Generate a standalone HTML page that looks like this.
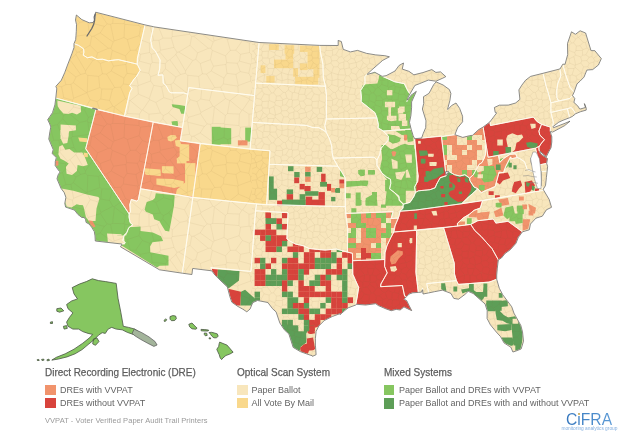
<!DOCTYPE html>
<html><head><meta charset="utf-8"><style>
html,body{margin:0;padding:0;background:#fff;}
body{width:625px;height:439px;overflow:hidden;position:relative;font-family:"Liberation Sans",Arial,sans-serif;}
svg{position:absolute;left:0;top:0;filter:blur(0.3px);}
.t{position:absolute;white-space:nowrap;color:#5c5c5c;transform-origin:0 0;}
.h{font-size:11px;top:366px;-webkit-text-stroke:0.25px #5c5c5c;}
.i{font-size:9px;color:#646464;}
.sw{position:absolute;width:10.4px;height:10.4px;}
</style></head><body>
<svg width="625" height="439" viewBox="0 0 625 439">
<g><path d="M95.6,12.2 145.0,24.9 137.4,58.4 137.2,64.1 118.5,59.7 115.4,59.9 108.4,60.8 102.5,59.2 97.1,59.5 92.0,56.9 87.4,57.7 83.2,55.1 83.9,52.2 83.6,48.9 81.0,47.0 78.4,45.3 74.0,43.7 75.7,39.6 76.0,35.5 76.3,31.4 76.5,24.5 75.5,20.0 76.4,15.0 81.8,19.6 89.3,22.8 93.1,22.5 95.1,19.0Z" fill="#f9d88c"/>
<path d="M74.0,43.7 78.4,45.3 81.0,47.0 83.6,48.9 83.9,52.2 83.2,55.1 87.4,57.7 92.0,56.9 97.1,59.5 102.5,59.2 108.4,60.8 115.4,59.9 118.5,59.7 137.2,64.1 140.2,70.2 136.6,76.3 134.0,79.2 129.6,85.7 132.0,88.3 129.7,92.7 124.4,116.3 55.8,98.1 56.8,88.6 55.9,86.3 61.4,80.1 64.7,72.7 67.5,65.1 71.9,53.8 74.0,47.5Z" fill="#f9d88c"/>
<path d="M55.8,98.1 95.9,109.4 85.7,148.7 129.2,214.1 129.0,216.8 130.1,222.5 132.7,224.8 128.7,227.8 126.7,232.9 124.2,235.1 122.9,240.4 125.3,242.9 122.2,244.1 95.3,241.0 95.0,235.8 94.3,231.5 91.8,227.4 89.2,224.1 86.1,222.4 85.6,219.8 84.4,217.7 81.7,217.4 77.9,214.4 74.4,210.0 65.6,207.0 64.8,203.4 65.9,197.3 64.3,192.7 61.0,188.3 57.0,178.8 58.1,174.9 60.0,171.9 58.3,170.0 55.2,165.6 55.3,161.4 56.4,157.5 52.1,153.5 53.2,149.6 48.8,139.1 49.9,131.7 50.8,127.0 49.3,123.0 47.7,119.7 52.5,112.7 54.9,104.9Z" fill="#86c660"/>
<path d="M95.9,109.4 153.2,122.3 138.4,199.4 137.0,201.2 131.3,199.4 129.8,204.6 130.3,211.6 129.2,214.1 85.7,148.7Z" fill="#f1936c"/>
<path d="M145.0,24.9 153.5,26.7 150.7,40.0 152.2,47.9 155.3,50.9 160.1,60.0 159.7,68.8 158.0,75.3 162.9,74.9 163.2,83.1 166.1,85.7 169.3,91.8 171.1,92.8 175.0,92.8 183.6,92.9 187.8,94.2 182.5,127.5 124.4,116.3 129.7,92.7 132.0,88.3 129.6,85.7 134.0,79.2 136.6,76.3 140.2,70.2 137.2,64.1 137.4,58.4Z" fill="#f8e6bc"/>
<path d="M153.5,26.7 259.1,42.5 254.6,95.6 188.8,87.6 187.8,94.2 183.6,92.9 175.0,92.8 171.1,92.8 169.3,91.8 166.1,85.7 163.2,83.1 162.9,74.9 158.0,75.3 159.7,68.8 160.1,60.0 155.3,50.9 152.2,47.9 150.7,40.0Z" fill="#f8e6bc"/>
<path d="M188.8,87.6 254.6,95.6 250.0,149.3 180.3,140.8Z" fill="#f8e6bc"/>
<path d="M153.2,122.3 182.5,127.5 180.3,140.8 200.2,143.8 192.8,197.4 140.5,188.7Z" fill="#f1936c"/>
<path d="M200.2,143.8 270.0,150.8 266.6,204.8 192.8,197.4Z" fill="#f9d88c"/>
<path d="M140.5,188.7 192.8,197.4 182.3,273.2 159.5,269.8 120.5,246.8 122.2,244.1 125.3,242.9 122.9,240.4 124.2,235.1 126.7,232.9 128.7,227.8 132.7,224.8 130.1,222.5 129.0,216.8 129.2,214.1 130.3,211.6 129.8,204.6 131.3,199.4 137.0,201.2 138.4,199.4Z" fill="#f8e6bc"/>
<path d="M192.8,197.4 256.5,204.1 255.5,210.8 251.0,271.4 210.8,267.7 211.8,270.8 192.7,268.5 191.9,274.5 182.3,273.2Z" fill="#f8e6bc"/>
<path d="M259.1,42.5 319.7,45.4 320.4,52.1 322.9,64.1 323.3,77.4 325.4,86.2 255.6,83.1Z" fill="#f8e6bc"/>
<path d="M255.6,83.1 325.4,86.2 326.4,94.8 326.3,119.0 324.8,125.7 326.3,132.5 323.8,130.4 318.9,127.7 313.1,127.6 306.3,125.4 252.3,122.4Z" fill="#f8e6bc"/>
<path d="M252.3,122.4 306.3,125.4 313.1,127.6 318.9,127.7 323.8,130.4 326.3,132.5 329.7,139.2 331.7,146.0 332.2,152.7 333.2,158.1 337.8,166.2 269.2,164.3 270.0,150.8 250.0,149.3Z" fill="#f8e6bc"/>
<path d="M269.2,164.3 337.8,166.2 341.9,172.3 345.1,177.7 345.3,206.7 266.6,204.8Z" fill="#f8e6bc"/>
<path d="M256.5,204.1 345.3,206.7 347.7,228.4 347.5,252.1 336.2,249.0 325.1,250.1 317.4,249.4 309.1,248.5 303.1,245.7 295.5,244.1 290.1,241.2 286.9,238.9 288.0,212.7 255.5,210.8Z" fill="#f8e6bc"/>
<path d="M255.5,210.8 288.0,212.7 286.9,238.9 290.1,241.2 295.5,244.1 303.1,245.7 309.1,248.5 317.4,249.4 325.1,250.1 336.2,249.0 347.5,252.1 352.4,253.3 352.6,260.7 352.8,274.2 355.7,280.8 358.7,287.5 357.2,296.9 355.7,305.0 348.2,307.8 344.7,310.6 340.1,314.6 340.0,313.7 332.5,316.4 324.3,320.5 318.8,326.0 316.1,331.5 315.4,338.3 315.4,345.1 316.1,354.7 312.5,356.3 312.4,355.9 306.4,353.8 300.4,351.6 293.2,347.4 288.9,333.9 284.3,329.8 279.8,322.9 276.2,312.0 272.3,308.4 267.9,302.6 257.6,300.5 252.8,302.5 250.0,309.1 246.8,311.8 242.9,309.2 237.3,306.1 231.8,302.2 229.9,296.7 227.4,287.0 221.1,281.0 214.8,274.9 211.8,270.8 210.8,267.7 251.0,271.4Z" fill="#f8e6bc"/>
<path d="M319.7,45.4 338.2,45.5 338.2,40.4 341.3,41.5 343.2,49.4 350.4,51.9 357.5,50.4 366.6,53.4 375.7,54.9 384.8,55.7 389.4,56.8 382.4,60.5 371.9,69.8 366.6,74.7 364.8,76.8 365.1,83.4 360.7,90.3 361.4,97.0 361.1,101.7 366.0,105.5 369.9,108.7 374.9,112.6 376.9,117.9 326.3,119.0 326.4,94.8 325.4,86.2 323.3,77.4 322.9,64.1 320.4,52.1Z" fill="#f8e6bc"/>
<path d="M326.3,119.0 376.9,117.9 378.4,124.5 378.1,127.9 383.2,131.0 388.4,136.1 388.2,140.2 384.4,144.5 380.7,148.7 379.9,154.2 377.0,160.0 374.0,157.2 333.2,158.1 332.2,152.7 331.7,146.0 329.7,139.2 326.3,132.5 324.8,125.7Z" fill="#f8e6bc"/>
<path d="M333.2,158.1 374.0,157.2 377.0,160.0 376.9,165.2 381.9,173.0 386.3,176.9 390.5,179.3 390.8,183.4 389.6,188.9 394.5,192.6 399.0,196.4 399.2,200.4 403.2,204.2 403.0,208.3 400.0,211.2 399.2,215.4 398.3,218.1 391.1,218.6 393.1,211.7 345.4,213.5 345.1,177.7 341.9,172.3 337.8,166.2Z" fill="#f8e6bc"/>
<path d="M345.4,213.5 393.1,211.7 391.1,218.6 398.3,218.1 395.5,225.1 393.8,232.0 390.8,237.6 386.9,245.9 385.0,252.8 384.8,259.5 352.6,260.7 352.4,253.3 347.5,252.1 347.7,228.4Z" fill="#f1936c"/>
<path d="M352.6,260.7 384.8,259.5 384.6,266.3 387.2,272.9 380.9,284.0 380.6,286.7 402.4,285.5 404.6,296.1 406.6,296.6 404.0,299.2 406.6,300.5 409.1,305.6 411.7,310.6 409.0,309.4 404.0,306.9 400.2,310.0 396.3,309.4 391.2,310.7 386.0,308.9 378.4,305.6 375.8,303.7 365.6,305.0 356.6,304.3 355.7,305.0 357.2,296.9 358.7,287.5 355.7,280.8 352.8,274.2Z" fill="#d8433c"/>
<path d="M384.8,259.5 385.0,252.8 386.9,245.9 390.8,237.6 393.8,232.0 415.5,230.4 416.7,231.7 415.9,272.4 418.3,292.4 412.5,292.8 409.1,294.0 406.6,296.6 404.6,296.1 402.4,285.5 380.6,286.7 380.9,284.0 387.2,272.9 384.6,266.3Z" fill="#d8433c"/>
<path d="M415.5,230.4 443.6,227.7 454.3,263.2 454.5,274.0 456.4,280.6 426.7,283.6 428.7,292.9 423.0,294.0 422.5,288.0 421.7,292.1 418.3,292.4 415.9,272.4 416.7,231.7Z" fill="#f8e6bc"/>
<path d="M443.6,227.7 470.7,224.4 474.8,230.6 481.2,236.5 486.6,242.6 492.0,248.6 498.3,259.9 497.3,268.2 496.7,275.1 496.7,279.2 491.2,281.4 489.0,282.1 458.4,284.4 456.4,280.6 454.5,274.0 454.3,263.2Z" fill="#d8433c"/>
<path d="M426.7,283.6 456.4,280.6 458.4,284.4 489.0,282.1 491.2,281.4 496.7,279.2 499.3,288.3 502.6,294.6 507.1,300.6 511.7,306.7 513.9,313.1 520.8,325.4 522.5,331.9 523.5,341.2 521.1,349.0 515.2,351.3 512.9,352.0 510.9,347.3 504.0,342.9 500.6,336.7 496.3,332.0 490.4,324.8 487.1,318.5 487.2,310.4 485.1,303.9 481.0,300.4 473.0,293.4 468.1,291.3 465.0,294.4 458.5,299.2 453.8,298.4 450.9,293.3 442.4,290.2 434.4,291.7 428.7,292.9Z" fill="#f8e6bc"/>
<path d="M393.8,232.0 394.5,226.5 398.3,218.1 399.2,215.4 400.0,211.2 415.4,210.1 482.5,200.8 480.3,208.0 474.1,210.3 469.3,214.3 463.2,217.9 457.4,223.4 457.5,226.1Z" fill="#d8433c"/>
<path d="M400.0,211.2 403.0,208.3 403.2,204.2 410.0,202.4 413.8,196.6 415.5,192.4 418.5,190.8 424.8,190.2 430.0,189.7 435.1,187.8 436.7,184.0 440.2,177.7 446.3,175.7 448.8,171.3 454.5,174.7 459.9,176.0 464.9,174.7 469.6,178.1 470.0,180.8 474.0,187.0 477.8,188.7 472.8,193.4 467.1,198.3 461.6,203.8 415.4,210.1Z" fill="#5d9e57"/>
<path d="M461.6,203.8 543.7,190.3 541.4,186.0 538.0,185.3 536.6,178.7 534.2,172.3 527.2,169.5 524.6,161.8 519.8,158.6 517.2,157.5 511.4,158.8 510.6,156.9 507.1,163.8 505.6,166.8 503.5,172.7 499.1,172.1 497.2,179.3 495.2,186.5 490.2,188.7 484.7,190.9 481.3,192.8 477.8,188.7 472.8,193.4 467.1,198.3Z" fill="#f8e6bc"/>
<path d="M547.1,171.2 546.4,177.5 545.5,185.5 543.2,189.2 541.2,187.5 541.3,180.0 541.0,171.6Z" fill="#f8e6bc"/>
<path d="M469.6,178.1 473.3,174.8 476.6,168.9 479.0,164.4 481.9,162.6 484.3,158.1 485.6,153.8 485.3,145.6 486.1,144.9 488.1,157.2 498.5,155.4 499.8,162.4 504.0,158.2 510.1,154.3 515.7,153.9 517.2,157.5 511.4,158.8 510.6,156.9 507.1,163.8 505.6,166.8 503.5,172.7 499.1,172.1 497.2,179.3 495.2,186.5 490.2,188.7 484.7,190.9 481.3,192.8 477.8,188.7 474.0,187.0 470.0,180.8Z" fill="#f1936c"/>
<path d="M498.5,155.4 535.5,148.2 539.1,165.0 546.7,163.3 547.6,166.5 547.1,171.2 541.0,171.6 538.5,167.2 533.5,164.1 530.9,156.4 531.0,161.9 533.4,168.3 535.2,172.0 527.2,169.5 524.6,161.8 519.8,158.6 517.2,157.5 515.7,153.9 510.1,154.3 504.0,158.2 499.8,162.4Z" fill="#f8e6bc"/>
<path d="M535.5,148.2 539.2,146.3 539.1,150.5 540.9,154.2 547.5,158.5 546.7,163.3 539.1,165.0Z" fill="#d8433c"/>
<path d="M488.1,157.2 535.5,148.2 539.2,146.3 541.6,143.0 544.5,139.6 539.8,135.1 538.9,131.1 541.5,124.3 537.3,121.8 533.3,117.1 490.5,125.5 489.9,122.0 483.1,127.1Z" fill="#d8433c"/>
<path d="M490.5,125.5 533.3,117.1 537.3,121.8 541.5,124.3 550.4,127.1 550.3,131.3 552.6,132.1 564.5,125.7 570.0,121.2 564.0,123.7 553.6,127.7 552.8,126.6 553.3,122.2 550.9,112.4 550.9,102.8 547.9,91.6 546.2,86.5 543.0,73.3 530.6,76.4 525.6,80.2 521.8,85.2 518.9,89.9 519.9,99.3 515.7,103.0 508.2,105.1 499.4,105.2 494.4,107.5 495.2,112.4 496.8,112.8 489.9,122.0Z" fill="#f8e6bc"/>
<path d="M541.5,124.3 550.4,127.1 550.3,131.3 551.1,134.6 551.8,136.5 551.8,142.0 551.0,147.8 548.8,151.7 546.2,156.8 542.9,153.8 539.1,150.5 538.5,147.8 541.6,143.0 544.5,139.6 539.8,135.1 538.9,131.1Z" fill="#d8433c"/>
<path d="M550.9,112.4 567.3,108.7 569.7,117.7 563.1,120.2 558.5,122.3 552.8,126.6 553.3,122.2Z" fill="#f8e6bc"/>
<path d="M567.3,108.7 571.3,107.6 574.2,111.3 575.6,113.7 572.4,116.4 569.7,117.7Z" fill="#f8e6bc"/>
<path d="M550.9,112.4 550.9,102.8 558.7,101.0 569.8,98.5 572.5,95.5 574.8,98.6 573.8,102.3 577.9,106.1 579.8,109.1 585.5,107.5 584.4,103.6 586.2,108.1 586.2,110.1 580.5,111.7 575.6,113.7 574.2,111.3 571.3,107.6 567.3,108.7Z" fill="#f8e6bc"/>
<path d="M550.9,102.8 558.7,101.0 556.9,97.7 556.7,90.8 557.8,83.6 560.8,75.9 559.9,69.0 543.0,73.3 546.2,86.5 547.9,91.6Z" fill="#f8e6bc"/>
<path d="M558.7,101.0 569.8,98.5 572.5,95.5 574.1,92.2 570.0,87.3 565.6,74.6 562.8,64.2 559.9,69.0 560.8,75.9 557.8,83.6 556.7,90.8 556.9,97.7Z" fill="#f8e6bc"/>
<path d="M574.1,92.2 570.0,87.3 565.6,74.6 562.8,64.2 565.0,64.3 567.7,54.5 567.5,43.5 571.5,31.8 575.4,34.3 580.1,30.8 585.6,33.0 591.0,50.5 594.9,50.7 601.3,58.6 598.3,65.1 592.7,69.6 586.9,70.0 584.0,77.1 580.1,81.1 576.9,84.0Z" fill="#f8e6bc"/>
<path d="M457.5,226.1 470.7,224.4 477.8,220.7 492.4,219.1 493.8,219.6 495.8,223.1 508.0,221.3 522.4,231.8 529.3,229.8 530.4,224.1 536.0,218.2 542.3,216.2 546.5,209.8 551.5,207.3 549.2,199.5 543.7,190.3 482.5,200.8 480.3,208.0 474.1,210.3 469.3,214.3 463.2,217.9 457.4,223.4Z" fill="#f8e6bc"/>
<path d="M470.7,224.4 477.8,220.7 492.4,219.1 493.8,219.6 495.8,223.1 508.0,221.3 522.4,231.8 518.3,237.3 516.0,243.2 510.3,249.7 505.2,253.3 501.4,258.0 498.3,259.9 492.0,248.6 486.6,242.6 481.2,236.5 474.8,230.6Z" fill="#d8433c"/>
<path d="M441.4,136.8 454.9,134.7 462.8,137.4 469.6,135.7 472.6,135.3 478.7,129.6 483.1,127.1 486.1,144.9 485.3,145.6 485.6,153.8 484.3,158.1 481.9,162.6 479.0,164.4 476.6,168.9 473.3,174.8 469.6,178.1 464.9,174.7 459.9,176.0 454.5,174.7 448.8,171.3 445.6,171.7Z" fill="#f1936c"/>
<path d="M414.6,138.7 421.8,138.1 441.5,135.9 445.6,171.7 446.3,175.7 440.2,177.7 436.7,184.0 435.1,187.8 430.0,189.7 424.8,190.2 418.5,190.8 415.5,192.4 414.5,187.1 417.7,181.4 418.2,175.9 417.4,170.5Z" fill="#d8433c"/>
<path d="M383.2,131.0 411.1,129.0 413.1,135.6 414.6,138.7 417.4,170.5 418.2,175.9 417.7,181.4 414.5,187.1 415.5,192.4 413.8,196.6 410.0,202.4 403.2,204.2 399.2,200.4 399.0,196.4 394.5,192.6 389.6,188.9 390.8,183.4 390.5,179.3 386.3,176.9 381.9,173.0 376.9,165.2 377.0,160.0 379.9,154.2 380.7,148.7 384.4,144.5 388.2,140.2 388.4,136.1Z" fill="#f8e6bc"/>
<path d="M366.6,74.7 374.8,72.3 381.5,76.0 382.4,76.3 394.8,81.8 404.3,83.7 407.8,90.8 409.9,94.0 408.3,96.8 406.8,101.7 411.0,95.3 416.3,91.4 411.6,101.9 411.6,107.3 410.9,115.5 409.5,122.4 411.1,129.0 383.2,131.0 378.1,127.9 378.4,124.5 376.9,117.9 374.9,112.6 369.9,108.7 366.0,105.5 361.1,101.7 361.4,97.0 360.7,90.3 365.1,83.4 364.8,76.8Z" fill="#86c660"/>
<path d="M421.6,138.1 441.6,136.3 454.9,134.7 457.5,127.9 462.6,121.8 462.6,116.3 459.7,108.6 456.0,103.0 451.5,105.6 447.3,110.2 449.9,100.4 450.9,93.5 449.4,89.6 443.1,85.0 436.1,81.9 433.6,84.8 430.5,90.6 428.9,93.5 423.5,96.7 423.7,103.5 422.4,109.0 426.0,120.8 425.7,127.6 423.3,133.3Z" fill="#f8e6bc"/>
<path d="M382.4,76.3 394.8,81.8 404.3,83.7 407.8,90.8 409.9,94.0 414.8,85.5 419.4,83.7 428.4,80.0 436.0,81.2 442.2,78.4 445.8,76.6 440.5,71.9 435.9,72.4 431.8,69.6 422.9,72.6 413.8,74.8 408.9,71.3 402.2,69.1 403.5,63.0 399.2,65.4 395.0,71.1 386.1,75.7Z" fill="#f8e6bc"/><defs><pattern id="pe" width="50" height="50" patternUnits="userSpaceOnUse"><path d="M32.8 -0.3L32.4 0.4M26.4 -3.9L25.9 0.5M32.4 0.4L25.9 0.5M51.3 22.7L49.0 25.8M49.0 25.8L52.1 30.4M31.7 10.9L37.0 10.6M31.7 10.9L30.7 7.0M30.7 7.0L32.6 5.1M32.6 5.1L35.8 4.9M35.8 4.9L39.1 7.2M37.0 10.6L39.1 7.2M32.4 0.4L32.6 5.1M38.9 -0.7L35.8 4.9M41.6 -0.5L42.5 0.1M42.5 0.1L41.9 6.6M41.9 6.6L39.1 7.2M30.9 13.0L31.7 10.9M30.9 13.0L33.6 16.8M33.6 16.8L37.9 16.8M37.0 10.6L39.1 13.4M37.9 16.8L39.1 13.4M30.9 13.0L25.6 15.0M25.6 15.0L24.0 6.6M30.7 7.0L25.4 5.0M24.0 6.6L25.4 5.0M25.9 0.5L24.7 2.6M25.4 5.0L24.7 2.6M51.2 8.2L49.5 4.0M51.2 8.2L47.4 11.4M49.5 4.0L43.6 8.2M47.4 11.4L44.7 10.9M43.6 8.2L44.7 10.9M47.9 -0.3L42.5 0.1M47.9 -0.3L49.9 1.3M49.9 1.3L49.5 4.0M41.9 6.6L43.6 8.2M43.8 12.0L39.1 13.4M43.8 12.0L44.7 10.9M37.9 16.8L40.0 19.2M43.8 12.0L43.9 18.6M40.0 19.2L43.9 18.6M1.2 19.3L-0.8 17.9M1.2 19.3L6.6 17.0M6.0 12.5L-0.8 14.0M6.0 12.5L6.2 12.7M6.2 12.7L6.6 17.0M47.4 11.4L49.2 14.0M44.6 19.0L43.9 18.6M44.6 19.0L49.2 17.9M49.2 14.0L49.2 17.9M49.2 14.0L56.0 12.5M49.2 17.9L51.2 19.3M48.5 43.5L44.4 42.3M48.5 43.5L50.7 37.6M44.4 42.3L45.4 36.4M50.7 37.6L45.4 36.4M54.7 44.4L48.8 44.3M48.8 44.3L48.5 43.5M17.8 24.6L20.0 25.5M17.8 24.6L17.9 18.5M17.9 18.5L24.1 18.5M24.1 18.5L22.0 24.9M20.0 25.5L22.0 24.9M32.1 30.9L32.4 30.6M32.1 30.9L26.9 29.0M26.9 29.0L26.0 26.2M26.0 26.2L31.3 22.9M32.4 30.6L31.3 22.9M33.6 16.8L31.6 22.6M25.2 15.4L25.6 15.0M25.2 15.4L25.0 17.3M25.0 17.3L31.4 22.7M31.6 22.6L31.4 22.7M25.0 17.3L24.1 18.5M22.0 24.9L26.0 26.2M31.4 22.7L31.3 22.9M51.6 31.0L44.5 32.3M45.4 36.4L44.2 35.3M44.5 32.3L44.2 35.3M42.4 42.8L44.4 42.3M42.4 42.8L38.3 40.0M38.3 40.0L38.7 37.3M44.2 35.3L38.7 37.3M11.1 49.4L12.3 51.6M11.1 49.4L6.4 48.3M6.4 48.3L3.4 50.9M19.7 13.2L19.3 8.7M19.7 13.2L17.1 15.2M17.1 15.2L13.2 12.6M18.0 8.0L19.3 8.7M18.0 8.0L12.8 8.0M13.2 12.6L11.9 10.2M12.8 8.0L11.9 10.2M25.2 15.4L19.7 13.2M24.0 6.6L19.3 8.7M17.9 18.5L16.8 16.4M16.8 16.4L17.1 15.2M12.3 1.6L11.1 -0.6M12.3 1.6L18.4 1.1M18.4 1.1L19.2 0.6M19.2 0.6L19.1 -5.0M11.6 5.2L12.3 1.6M11.6 5.2L12.8 8.0M18.0 8.0L18.4 1.1M24.7 2.6L19.2 0.6M6.0 12.5L4.2 9.1M6.2 12.7L11.9 10.2M11.6 5.2L6.3 5.5M6.3 5.5L4.2 9.1M-2.6 11.4L1.2 8.2M1.2 8.2L4.2 9.1M1.2 8.2L-0.5 4.0M6.3 5.5L3.4 0.9M6.4 -1.7L3.4 0.9M3.4 0.9L-0.1 1.3M17.8 24.6L14.6 24.9M20.0 31.8L20.0 25.5M20.0 31.8L13.8 31.4M13.8 31.4L14.6 24.9M5.6 38.9L4.7 44.4M5.6 38.9L0.7 37.6M4.7 44.4L-1.2 44.3M0.7 37.6L0.7 37.6M0.7 37.6L-1.5 43.5M0.7 37.6L-4.6 36.4M49.9 1.3L53.4 0.9M37.0 48.1L32.8 49.7M37.0 48.1L35.4 42.5M32.8 49.7L30.1 45.7M30.1 45.7L33.2 42.3M35.4 42.5L33.2 42.3M38.9 49.3L37.0 48.1M38.9 49.3L35.8 54.9M32.4 50.4L32.8 49.7M38.9 49.3L41.6 49.5M42.4 42.8L41.6 49.5M38.3 40.0L35.4 42.5M25.9 50.5L26.4 46.1M26.4 46.1L30.1 45.7M28.5 37.4L33.2 42.3M28.5 37.4L31.7 34.7M31.7 34.7L38.0 36.4M38.7 37.3L38.0 36.4M5.9 46.3L12.2 40.7M5.9 46.3L6.4 48.3M11.1 49.4L14.0 43.8M12.2 40.7L14.0 43.8M19.2 50.6L19.1 45.0M14.0 43.8L19.1 45.0M26.4 46.1L23.6 42.7M23.6 42.7L21.7 43.1M19.1 45.0L21.7 43.1M25.7 32.0L20.1 32.2M25.7 32.0L28.1 37.4M28.1 37.4L25.7 38.9M25.7 38.9L19.8 34.3M19.8 34.3L20.1 32.2M20.0 31.8L20.1 32.2M26.9 29.0L25.7 32.0M28.5 37.4L28.1 37.4M31.7 34.7L32.1 30.9M23.6 42.7L25.7 38.9M17.2 36.9L21.7 43.1M17.2 36.9L19.8 34.3M43.7 30.6L38.1 29.3M43.7 30.6L46.2 25.7M46.2 25.7L45.6 25.1M45.6 25.1L38.0 24.7M38.0 24.7L38.0 24.7M38.0 24.7L37.9 29.0M37.9 29.0L38.1 29.3M44.5 32.3L43.7 30.6M38.0 36.4L38.1 29.3M49.0 25.8L46.2 25.7M44.6 19.0L45.6 25.1M40.0 19.2L38.0 24.7M31.6 22.6L38.0 24.7M32.4 30.6L37.9 29.0M6.0 29.9L6.8 29.2M6.0 29.9L8.0 38.0M6.8 29.2L12.8 32.4M12.8 32.4L12.9 37.6M8.0 38.0L11.8 38.7M12.9 37.6L11.8 38.7M13.8 31.4L12.8 32.4M17.2 36.9L12.9 37.6M5.6 38.9L8.0 38.0M4.7 44.4L5.9 46.3M12.2 40.7L11.8 38.7M6.1 24.3L7.2 28.4M6.1 24.3L9.3 19.3M7.2 28.4L14.5 24.8M14.5 24.8L10.7 19.7M10.7 19.7L10.0 19.4M9.3 19.3L10.0 19.4M1.2 19.3L1.3 22.7M6.6 17.0L9.3 19.3M1.3 22.7L6.1 24.3M14.6 24.9L14.5 24.8M6.8 29.2L7.2 28.4M16.8 16.4L10.7 19.7M13.2 12.6L10.0 19.4M-5.5 32.3L1.6 31.0M-1.0 25.8L2.1 30.4M2.1 30.4L1.6 31.0M0.7 37.6L1.6 31.0M1.3 22.7L-1.0 25.8M6.0 29.9L2.1 30.4M49.9 51.3L47.9 49.7M47.9 49.7L42.5 50.1M48.8 44.3L47.9 49.7M41.6 49.5L42.5 50.1" fill="none" stroke="#7a5a28" stroke-opacity="0.17" stroke-width="0.4"/></pattern><pattern id="pw" width="100" height="100" patternUnits="userSpaceOnUse"><path d="M84.5 9.8L90.1 -0.3M84.5 9.8L73.5 7.0M73.6 -1.7L72.4 0.2M73.5 7.0L72.4 0.2M12.4 -10.9L9.6 0.5M0.8 -1.0L9.6 0.5M0.8 -1.0L-3.0 1.6M9.6 0.5L12.8 6.2M12.8 6.2L0.8 12.5M-3.0 1.6L0.8 12.5M4.4 26.4L-12.2 22.2M4.4 26.4L7.2 24.0M7.2 24.0L0.4 13.7M-11.7 17.4L0.4 13.7M30.3 50.4L35.7 50.2M30.3 50.4L25.5 55.8M39.4 61.1L37.2 63.2M39.4 61.1L40.5 54.3M37.2 63.2L26.7 62.6M40.5 54.3L35.7 50.2M26.7 62.6L25.5 55.8M51.2 54.3L49.6 52.5M51.2 54.3L52.3 62.3M39.4 61.1L50.8 64.2M49.6 52.5L40.5 54.3M52.3 62.3L50.8 64.2M100.4 13.7L88.3 17.4M88.3 17.4L87.2 20.8M104.4 26.4L87.8 22.2M87.2 20.8L87.8 22.2M84.5 9.8L88.3 17.4M90.1 -0.3L97.0 1.6M100.8 12.5L97.0 1.6M100.8 -1.0L97.0 1.6M74.0 47.4L71.3 38.1M74.0 47.4L60.5 50.2M71.3 38.1L63.1 38.1M60.5 50.2L59.0 40.3M59.0 40.3L63.1 38.1M73.5 7.0L68.4 13.0M87.2 20.8L79.9 22.4M68.4 13.0L79.9 22.4M89.6 34.3L87.8 22.2M89.6 34.3L72.2 36.7M72.2 36.7L72.3 30.0M79.9 22.4L72.3 30.0M7.2 24.0L10.5 24.3M12.8 6.2L14.2 6.8M12.6 23.4L10.5 24.3M12.6 23.4L14.4 7.2M0.4 13.7L0.8 12.5M14.4 7.2L14.2 6.8M27.3 39.5L39.2 35.7M27.3 39.5L30.3 50.4M35.7 50.2L42.4 40.5M39.2 35.7L42.4 40.5M49.6 52.5L49.3 43.1M42.4 40.5L49.3 43.1M59.7 51.9L51.2 54.3M59.7 51.9L60.5 50.2M59.0 40.3L53.7 40.3M53.7 40.3L49.3 43.1M72.2 36.7L71.3 38.1M63.1 38.1L57.4 24.5M72.3 30.0L62.8 18.7M57.4 24.5L62.8 18.7M53.7 40.3L50.1 26.5M57.4 24.5L50.1 26.5M68.4 13.0L63.3 15.6M63.3 15.6L62.8 18.7M14.2 6.8L25.5 -1.4M4.4 26.4L0.2 32.9M0.2 32.9L-6.3 36.2M14.1 41.0L10.5 24.3M14.1 41.0L13.2 42.1M0.2 32.9L13.2 42.1M9.6 100.5L12.4 89.1M9.6 100.5L0.8 99.0M0.8 99.0L1.8 89.0M12.4 89.1L1.8 89.0M-3.0 101.6L0.8 99.0M25.5 98.6L20.6 87.2M25.5 98.6L14.2 106.8M14.7 87.5L20.6 87.2M14.7 87.5L12.4 89.1M-6.3 36.2L8.4 48.3M-2.4 52.9L8.4 48.3M13.2 42.1L10.9 48.2M8.4 48.3L10.9 48.2M27.3 39.5L24.0 37.5M14.1 41.0L24.0 37.5M25.5 55.8L12.3 50.4M12.3 50.4L10.9 48.2M37.2 63.2L40.3 71.6M50.8 64.2L48.8 73.3M48.8 73.3L40.3 71.6M26.9 73.3L25.9 64.4M26.9 73.3L35.9 74.4M26.7 62.6L25.9 64.4M35.9 74.4L40.3 71.6M98.6 76.4L99.8 87.5M98.6 76.4L87.8 75.3M99.8 87.5L87.3 92.2M87.8 75.3L87.3 92.2M75.9 54.5L85.5 70.9M75.9 54.5L76.9 52.3M76.9 52.3L78.7 52.0M78.7 52.0L92.8 60.5M92.8 60.5L85.5 70.9M91.8 36.4L90.0 45.3M91.8 36.4L89.6 34.3M90.0 45.3L78.7 52.0M74.0 47.4L76.9 52.3M90.0 45.3L97.6 52.9M97.6 52.9L95.8 59.3M95.8 59.3L92.8 60.5M102.4 73.8L98.6 76.4M95.8 59.3L100.3 63.5M87.8 75.3L85.3 73.3M85.3 73.3L85.5 70.9M108.4 48.3L93.7 36.2M100.2 32.9L93.7 36.2M97.6 52.9L108.4 48.3M91.8 36.4L93.7 36.2M72.4 0.2L63.8 -2.3M39.2 35.7L40.5 27.2M50.1 26.5L49.1 26.2M40.5 27.2L49.1 26.2M25.5 -1.4L29.7 0.5M29.7 0.5L30.1 0.5M38.4 -5.9L30.1 0.5M60.4 13.1L49.0 14.2M60.4 13.1L55.9 2.4M55.9 2.4L49.6 -0.3M49.6 -0.3L42.6 10.0M49.0 14.2L42.6 10.0M63.3 15.6L60.4 13.1M49.1 26.2L49.0 14.2M63.8 -2.3L55.9 2.4M30.1 0.5L41.9 10.3M41.9 10.3L42.6 10.0M1.8 89.0L-0.2 87.5M0.3 63.5L10.4 59.6M0.3 63.5L2.4 73.8M2.4 73.8L6.5 74.1M6.5 74.1L11.2 71.0M11.2 71.0L13.5 66.2M13.5 66.2L10.4 59.6M-4.2 59.3L0.3 63.5M12.3 50.4L10.4 59.6M-1.4 76.4L2.4 73.8M14.7 87.5L6.5 74.1M20.6 87.2L23.3 83.9M24.0 78.1L11.2 71.0M24.0 78.1L23.3 83.9M26.9 73.3L24.0 78.1M25.9 64.4L13.5 66.2M84.5 109.8L90.1 99.7M97.0 101.6L90.1 99.7M70.9 84.4L73.6 98.3M70.9 84.4L73.3 82.7M73.3 82.7L86.7 92.8M73.6 98.3L86.7 92.8M90.1 99.7L86.9 92.8M72.4 100.2L73.6 98.3M86.9 92.8L86.7 92.8M76.0 77.0L80.6 74.5M76.0 77.0L65.5 68.8M80.6 74.5L69.9 59.7M65.5 68.8L65.3 63.7M65.3 63.7L67.4 61.0M67.4 61.0L69.9 59.7M85.3 73.3L80.6 74.5M86.9 92.8L87.3 92.2M73.3 82.7L76.0 77.0M66.0 84.6L62.4 72.5M66.0 84.6L70.9 84.4M62.4 72.5L65.5 68.8M75.9 54.5L69.9 59.7M52.3 62.3L65.3 63.7M48.8 73.3L50.7 76.7M62.4 72.5L50.7 76.7M59.7 51.9L67.4 61.0M99.8 87.5L101.8 89.0M97.0 101.6L100.8 99.0M38.9 25.6L39.4 14.1M38.9 25.6L24.7 24.3M39.4 14.1L27.4 13.5M24.2 23.7L24.7 24.3M24.2 23.7L25.4 15.5M25.4 15.5L27.4 13.5M40.5 27.2L38.9 25.6M41.9 10.3L39.4 14.1M24.0 37.5L24.7 24.3M29.7 0.5L27.4 13.5M12.6 23.4L24.2 23.7M14.4 7.2L25.4 15.5M25.5 98.6L29.7 100.5M35.9 74.4L38.3 85.6M50.7 76.7L50.6 81.0M50.6 81.0L38.3 85.6M23.3 83.9L37.8 86.1M30.1 100.5L38.4 94.1M38.4 94.1L37.8 86.1M37.8 86.1L38.3 85.6M61.6 86.8L53.7 85.4M61.6 86.8L63.8 97.7M53.7 85.4L49.3 98.7M63.8 97.7L55.9 102.4M55.9 102.4L49.6 99.7M49.6 99.7L49.3 98.7M66.0 84.6L61.6 86.8M50.6 81.0L53.7 85.4M72.4 100.2L63.8 97.7M38.4 94.1L49.3 98.7M42.6 110.0L49.6 99.7" fill="none" stroke="#7a5a28" stroke-opacity="0.17" stroke-width="0.4"/></pattern></defs><clipPath id="us"><path d="M95.6,12.2 145.0,24.9 137.4,58.4 137.2,64.1 118.5,59.7 115.4,59.9 108.4,60.8 102.5,59.2 97.1,59.5 92.0,56.9 87.4,57.7 83.2,55.1 83.9,52.2 83.6,48.9 81.0,47.0 78.4,45.3 74.0,43.7 75.7,39.6 76.0,35.5 76.3,31.4 76.5,24.5 75.5,20.0 76.4,15.0 81.8,19.6 89.3,22.8 93.1,22.5 95.1,19.0Z"/><path d="M74.0,43.7 78.4,45.3 81.0,47.0 83.6,48.9 83.9,52.2 83.2,55.1 87.4,57.7 92.0,56.9 97.1,59.5 102.5,59.2 108.4,60.8 115.4,59.9 118.5,59.7 137.2,64.1 140.2,70.2 136.6,76.3 134.0,79.2 129.6,85.7 132.0,88.3 129.7,92.7 124.4,116.3 55.8,98.1 56.8,88.6 55.9,86.3 61.4,80.1 64.7,72.7 67.5,65.1 71.9,53.8 74.0,47.5Z"/><path d="M55.8,98.1 95.9,109.4 85.7,148.7 129.2,214.1 129.0,216.8 130.1,222.5 132.7,224.8 128.7,227.8 126.7,232.9 124.2,235.1 122.9,240.4 125.3,242.9 122.2,244.1 95.3,241.0 95.0,235.8 94.3,231.5 91.8,227.4 89.2,224.1 86.1,222.4 85.6,219.8 84.4,217.7 81.7,217.4 77.9,214.4 74.4,210.0 65.6,207.0 64.8,203.4 65.9,197.3 64.3,192.7 61.0,188.3 57.0,178.8 58.1,174.9 60.0,171.9 58.3,170.0 55.2,165.6 55.3,161.4 56.4,157.5 52.1,153.5 53.2,149.6 48.8,139.1 49.9,131.7 50.8,127.0 49.3,123.0 47.7,119.7 52.5,112.7 54.9,104.9Z"/><path d="M95.9,109.4 153.2,122.3 138.4,199.4 137.0,201.2 131.3,199.4 129.8,204.6 130.3,211.6 129.2,214.1 85.7,148.7Z"/><path d="M145.0,24.9 153.5,26.7 150.7,40.0 152.2,47.9 155.3,50.9 160.1,60.0 159.7,68.8 158.0,75.3 162.9,74.9 163.2,83.1 166.1,85.7 169.3,91.8 171.1,92.8 175.0,92.8 183.6,92.9 187.8,94.2 182.5,127.5 124.4,116.3 129.7,92.7 132.0,88.3 129.6,85.7 134.0,79.2 136.6,76.3 140.2,70.2 137.2,64.1 137.4,58.4Z"/><path d="M153.5,26.7 259.1,42.5 254.6,95.6 188.8,87.6 187.8,94.2 183.6,92.9 175.0,92.8 171.1,92.8 169.3,91.8 166.1,85.7 163.2,83.1 162.9,74.9 158.0,75.3 159.7,68.8 160.1,60.0 155.3,50.9 152.2,47.9 150.7,40.0Z"/><path d="M188.8,87.6 254.6,95.6 250.0,149.3 180.3,140.8Z"/><path d="M153.2,122.3 182.5,127.5 180.3,140.8 200.2,143.8 192.8,197.4 140.5,188.7Z"/><path d="M200.2,143.8 270.0,150.8 266.6,204.8 192.8,197.4Z"/><path d="M140.5,188.7 192.8,197.4 182.3,273.2 159.5,269.8 120.5,246.8 122.2,244.1 125.3,242.9 122.9,240.4 124.2,235.1 126.7,232.9 128.7,227.8 132.7,224.8 130.1,222.5 129.0,216.8 129.2,214.1 130.3,211.6 129.8,204.6 131.3,199.4 137.0,201.2 138.4,199.4Z"/><path d="M192.8,197.4 256.5,204.1 255.5,210.8 251.0,271.4 210.8,267.7 211.8,270.8 192.7,268.5 191.9,274.5 182.3,273.2Z"/><path d="M259.1,42.5 319.7,45.4 320.4,52.1 322.9,64.1 323.3,77.4 325.4,86.2 255.6,83.1Z"/><path d="M255.6,83.1 325.4,86.2 326.4,94.8 326.3,119.0 324.8,125.7 326.3,132.5 323.8,130.4 318.9,127.7 313.1,127.6 306.3,125.4 252.3,122.4Z"/><path d="M252.3,122.4 306.3,125.4 313.1,127.6 318.9,127.7 323.8,130.4 326.3,132.5 329.7,139.2 331.7,146.0 332.2,152.7 333.2,158.1 337.8,166.2 269.2,164.3 270.0,150.8 250.0,149.3Z"/><path d="M269.2,164.3 337.8,166.2 341.9,172.3 345.1,177.7 345.3,206.7 266.6,204.8Z"/><path d="M256.5,204.1 345.3,206.7 347.7,228.4 347.5,252.1 336.2,249.0 325.1,250.1 317.4,249.4 309.1,248.5 303.1,245.7 295.5,244.1 290.1,241.2 286.9,238.9 288.0,212.7 255.5,210.8Z"/><path d="M255.5,210.8 288.0,212.7 286.9,238.9 290.1,241.2 295.5,244.1 303.1,245.7 309.1,248.5 317.4,249.4 325.1,250.1 336.2,249.0 347.5,252.1 352.4,253.3 352.6,260.7 352.8,274.2 355.7,280.8 358.7,287.5 357.2,296.9 355.7,305.0 348.2,307.8 344.7,310.6 340.1,314.6 340.0,313.7 332.5,316.4 324.3,320.5 318.8,326.0 316.1,331.5 315.4,338.3 315.4,345.1 316.1,354.7 312.5,356.3 312.4,355.9 306.4,353.8 300.4,351.6 293.2,347.4 288.9,333.9 284.3,329.8 279.8,322.9 276.2,312.0 272.3,308.4 267.9,302.6 257.6,300.5 252.8,302.5 250.0,309.1 246.8,311.8 242.9,309.2 237.3,306.1 231.8,302.2 229.9,296.7 227.4,287.0 221.1,281.0 214.8,274.9 211.8,270.8 210.8,267.7 251.0,271.4Z"/><path d="M319.7,45.4 338.2,45.5 338.2,40.4 341.3,41.5 343.2,49.4 350.4,51.9 357.5,50.4 366.6,53.4 375.7,54.9 384.8,55.7 389.4,56.8 382.4,60.5 371.9,69.8 366.6,74.7 364.8,76.8 365.1,83.4 360.7,90.3 361.4,97.0 361.1,101.7 366.0,105.5 369.9,108.7 374.9,112.6 376.9,117.9 326.3,119.0 326.4,94.8 325.4,86.2 323.3,77.4 322.9,64.1 320.4,52.1Z"/><path d="M326.3,119.0 376.9,117.9 378.4,124.5 378.1,127.9 383.2,131.0 388.4,136.1 388.2,140.2 384.4,144.5 380.7,148.7 379.9,154.2 377.0,160.0 374.0,157.2 333.2,158.1 332.2,152.7 331.7,146.0 329.7,139.2 326.3,132.5 324.8,125.7Z"/><path d="M333.2,158.1 374.0,157.2 377.0,160.0 376.9,165.2 381.9,173.0 386.3,176.9 390.5,179.3 390.8,183.4 389.6,188.9 394.5,192.6 399.0,196.4 399.2,200.4 403.2,204.2 403.0,208.3 400.0,211.2 399.2,215.4 398.3,218.1 391.1,218.6 393.1,211.7 345.4,213.5 345.1,177.7 341.9,172.3 337.8,166.2Z"/><path d="M345.4,213.5 393.1,211.7 391.1,218.6 398.3,218.1 395.5,225.1 393.8,232.0 390.8,237.6 386.9,245.9 385.0,252.8 384.8,259.5 352.6,260.7 352.4,253.3 347.5,252.1 347.7,228.4Z"/><path d="M352.6,260.7 384.8,259.5 384.6,266.3 387.2,272.9 380.9,284.0 380.6,286.7 402.4,285.5 404.6,296.1 406.6,296.6 404.0,299.2 406.6,300.5 409.1,305.6 411.7,310.6 409.0,309.4 404.0,306.9 400.2,310.0 396.3,309.4 391.2,310.7 386.0,308.9 378.4,305.6 375.8,303.7 365.6,305.0 356.6,304.3 355.7,305.0 357.2,296.9 358.7,287.5 355.7,280.8 352.8,274.2Z"/><path d="M384.8,259.5 385.0,252.8 386.9,245.9 390.8,237.6 393.8,232.0 415.5,230.4 416.7,231.7 415.9,272.4 418.3,292.4 412.5,292.8 409.1,294.0 406.6,296.6 404.6,296.1 402.4,285.5 380.6,286.7 380.9,284.0 387.2,272.9 384.6,266.3Z"/><path d="M415.5,230.4 443.6,227.7 454.3,263.2 454.5,274.0 456.4,280.6 426.7,283.6 428.7,292.9 423.0,294.0 422.5,288.0 421.7,292.1 418.3,292.4 415.9,272.4 416.7,231.7Z"/><path d="M443.6,227.7 470.7,224.4 474.8,230.6 481.2,236.5 486.6,242.6 492.0,248.6 498.3,259.9 497.3,268.2 496.7,275.1 496.7,279.2 491.2,281.4 489.0,282.1 458.4,284.4 456.4,280.6 454.5,274.0 454.3,263.2Z"/><path d="M426.7,283.6 456.4,280.6 458.4,284.4 489.0,282.1 491.2,281.4 496.7,279.2 499.3,288.3 502.6,294.6 507.1,300.6 511.7,306.7 513.9,313.1 520.8,325.4 522.5,331.9 523.5,341.2 521.1,349.0 515.2,351.3 512.9,352.0 510.9,347.3 504.0,342.9 500.6,336.7 496.3,332.0 490.4,324.8 487.1,318.5 487.2,310.4 485.1,303.9 481.0,300.4 473.0,293.4 468.1,291.3 465.0,294.4 458.5,299.2 453.8,298.4 450.9,293.3 442.4,290.2 434.4,291.7 428.7,292.9Z"/><path d="M393.8,232.0 394.5,226.5 398.3,218.1 399.2,215.4 400.0,211.2 415.4,210.1 482.5,200.8 480.3,208.0 474.1,210.3 469.3,214.3 463.2,217.9 457.4,223.4 457.5,226.1Z"/><path d="M400.0,211.2 403.0,208.3 403.2,204.2 410.0,202.4 413.8,196.6 415.5,192.4 418.5,190.8 424.8,190.2 430.0,189.7 435.1,187.8 436.7,184.0 440.2,177.7 446.3,175.7 448.8,171.3 454.5,174.7 459.9,176.0 464.9,174.7 469.6,178.1 470.0,180.8 474.0,187.0 477.8,188.7 472.8,193.4 467.1,198.3 461.6,203.8 415.4,210.1Z"/><path d="M461.6,203.8 543.7,190.3 541.4,186.0 538.0,185.3 536.6,178.7 534.2,172.3 527.2,169.5 524.6,161.8 519.8,158.6 517.2,157.5 511.4,158.8 510.6,156.9 507.1,163.8 505.6,166.8 503.5,172.7 499.1,172.1 497.2,179.3 495.2,186.5 490.2,188.7 484.7,190.9 481.3,192.8 477.8,188.7 472.8,193.4 467.1,198.3Z"/><path d="M547.1,171.2 546.4,177.5 545.5,185.5 543.2,189.2 541.2,187.5 541.3,180.0 541.0,171.6Z"/><path d="M469.6,178.1 473.3,174.8 476.6,168.9 479.0,164.4 481.9,162.6 484.3,158.1 485.6,153.8 485.3,145.6 486.1,144.9 488.1,157.2 498.5,155.4 499.8,162.4 504.0,158.2 510.1,154.3 515.7,153.9 517.2,157.5 511.4,158.8 510.6,156.9 507.1,163.8 505.6,166.8 503.5,172.7 499.1,172.1 497.2,179.3 495.2,186.5 490.2,188.7 484.7,190.9 481.3,192.8 477.8,188.7 474.0,187.0 470.0,180.8Z"/><path d="M498.5,155.4 535.5,148.2 539.1,165.0 546.7,163.3 547.6,166.5 547.1,171.2 541.0,171.6 538.5,167.2 533.5,164.1 530.9,156.4 531.0,161.9 533.4,168.3 535.2,172.0 527.2,169.5 524.6,161.8 519.8,158.6 517.2,157.5 515.7,153.9 510.1,154.3 504.0,158.2 499.8,162.4Z"/><path d="M535.5,148.2 539.2,146.3 539.1,150.5 540.9,154.2 547.5,158.5 546.7,163.3 539.1,165.0Z"/><path d="M488.1,157.2 535.5,148.2 539.2,146.3 541.6,143.0 544.5,139.6 539.8,135.1 538.9,131.1 541.5,124.3 537.3,121.8 533.3,117.1 490.5,125.5 489.9,122.0 483.1,127.1Z"/><path d="M490.5,125.5 533.3,117.1 537.3,121.8 541.5,124.3 550.4,127.1 550.3,131.3 552.6,132.1 564.5,125.7 570.0,121.2 564.0,123.7 553.6,127.7 552.8,126.6 553.3,122.2 550.9,112.4 550.9,102.8 547.9,91.6 546.2,86.5 543.0,73.3 530.6,76.4 525.6,80.2 521.8,85.2 518.9,89.9 519.9,99.3 515.7,103.0 508.2,105.1 499.4,105.2 494.4,107.5 495.2,112.4 496.8,112.8 489.9,122.0Z"/><path d="M541.5,124.3 550.4,127.1 550.3,131.3 551.1,134.6 551.8,136.5 551.8,142.0 551.0,147.8 548.8,151.7 546.2,156.8 542.9,153.8 539.1,150.5 538.5,147.8 541.6,143.0 544.5,139.6 539.8,135.1 538.9,131.1Z"/><path d="M550.9,112.4 567.3,108.7 569.7,117.7 563.1,120.2 558.5,122.3 552.8,126.6 553.3,122.2Z"/><path d="M567.3,108.7 571.3,107.6 574.2,111.3 575.6,113.7 572.4,116.4 569.7,117.7Z"/><path d="M550.9,112.4 550.9,102.8 558.7,101.0 569.8,98.5 572.5,95.5 574.8,98.6 573.8,102.3 577.9,106.1 579.8,109.1 585.5,107.5 584.4,103.6 586.2,108.1 586.2,110.1 580.5,111.7 575.6,113.7 574.2,111.3 571.3,107.6 567.3,108.7Z"/><path d="M550.9,102.8 558.7,101.0 556.9,97.7 556.7,90.8 557.8,83.6 560.8,75.9 559.9,69.0 543.0,73.3 546.2,86.5 547.9,91.6Z"/><path d="M558.7,101.0 569.8,98.5 572.5,95.5 574.1,92.2 570.0,87.3 565.6,74.6 562.8,64.2 559.9,69.0 560.8,75.9 557.8,83.6 556.7,90.8 556.9,97.7Z"/><path d="M574.1,92.2 570.0,87.3 565.6,74.6 562.8,64.2 565.0,64.3 567.7,54.5 567.5,43.5 571.5,31.8 575.4,34.3 580.1,30.8 585.6,33.0 591.0,50.5 594.9,50.7 601.3,58.6 598.3,65.1 592.7,69.6 586.9,70.0 584.0,77.1 580.1,81.1 576.9,84.0Z"/><path d="M457.5,226.1 470.7,224.4 477.8,220.7 492.4,219.1 493.8,219.6 495.8,223.1 508.0,221.3 522.4,231.8 529.3,229.8 530.4,224.1 536.0,218.2 542.3,216.2 546.5,209.8 551.5,207.3 549.2,199.5 543.7,190.3 482.5,200.8 480.3,208.0 474.1,210.3 469.3,214.3 463.2,217.9 457.4,223.4Z"/><path d="M470.7,224.4 477.8,220.7 492.4,219.1 493.8,219.6 495.8,223.1 508.0,221.3 522.4,231.8 518.3,237.3 516.0,243.2 510.3,249.7 505.2,253.3 501.4,258.0 498.3,259.9 492.0,248.6 486.6,242.6 481.2,236.5 474.8,230.6Z"/><path d="M441.4,136.8 454.9,134.7 462.8,137.4 469.6,135.7 472.6,135.3 478.7,129.6 483.1,127.1 486.1,144.9 485.3,145.6 485.6,153.8 484.3,158.1 481.9,162.6 479.0,164.4 476.6,168.9 473.3,174.8 469.6,178.1 464.9,174.7 459.9,176.0 454.5,174.7 448.8,171.3 445.6,171.7Z"/><path d="M414.6,138.7 421.8,138.1 441.5,135.9 445.6,171.7 446.3,175.7 440.2,177.7 436.7,184.0 435.1,187.8 430.0,189.7 424.8,190.2 418.5,190.8 415.5,192.4 414.5,187.1 417.7,181.4 418.2,175.9 417.4,170.5Z"/><path d="M383.2,131.0 411.1,129.0 413.1,135.6 414.6,138.7 417.4,170.5 418.2,175.9 417.7,181.4 414.5,187.1 415.5,192.4 413.8,196.6 410.0,202.4 403.2,204.2 399.2,200.4 399.0,196.4 394.5,192.6 389.6,188.9 390.8,183.4 390.5,179.3 386.3,176.9 381.9,173.0 376.9,165.2 377.0,160.0 379.9,154.2 380.7,148.7 384.4,144.5 388.2,140.2 388.4,136.1Z"/><path d="M366.6,74.7 374.8,72.3 381.5,76.0 382.4,76.3 394.8,81.8 404.3,83.7 407.8,90.8 409.9,94.0 408.3,96.8 406.8,101.7 411.0,95.3 416.3,91.4 411.6,101.9 411.6,107.3 410.9,115.5 409.5,122.4 411.1,129.0 383.2,131.0 378.1,127.9 378.4,124.5 376.9,117.9 374.9,112.6 369.9,108.7 366.0,105.5 361.1,101.7 361.4,97.0 360.7,90.3 365.1,83.4 364.8,76.8Z"/><path d="M421.6,138.1 441.6,136.3 454.9,134.7 457.5,127.9 462.6,121.8 462.6,116.3 459.7,108.6 456.0,103.0 451.5,105.6 447.3,110.2 449.9,100.4 450.9,93.5 449.4,89.6 443.1,85.0 436.1,81.9 433.6,84.8 430.5,90.6 428.9,93.5 423.5,96.7 423.7,103.5 422.4,109.0 426.0,120.8 425.7,127.6 423.3,133.3Z"/><path d="M382.4,76.3 394.8,81.8 404.3,83.7 407.8,90.8 409.9,94.0 414.8,85.5 419.4,83.7 428.4,80.0 436.0,81.2 442.2,78.4 445.8,76.6 440.5,71.9 435.9,72.4 431.8,69.6 422.9,72.6 413.8,74.8 408.9,71.3 402.2,69.1 403.5,63.0 399.2,65.4 395.0,71.1 386.1,75.7Z"/></clipPath><clipPath id="cAR"><path d="M345.4,213.5 393.1,211.7 391.1,218.6 398.3,218.1 395.5,225.1 393.8,232.0 390.8,237.6 386.9,245.9 385.0,252.8 384.8,259.5 352.6,260.7 352.4,253.3 347.5,252.1 347.7,228.4Z"/></clipPath><clipPath id="cFL"><path d="M426.7,283.6 456.4,280.6 458.4,284.4 489.0,282.1 491.2,281.4 496.7,279.2 499.3,288.3 502.6,294.6 507.1,300.6 511.7,306.7 513.9,313.1 520.8,325.4 522.5,331.9 523.5,341.2 521.1,349.0 515.2,351.3 512.9,352.0 510.9,347.3 504.0,342.9 500.6,336.7 496.3,332.0 490.4,324.8 487.1,318.5 487.2,310.4 485.1,303.9 481.0,300.4 473.0,293.4 468.1,291.3 465.0,294.4 458.5,299.2 453.8,298.4 450.9,293.3 442.4,290.2 434.4,291.7 428.7,292.9Z"/></clipPath><clipPath id="cIL"><path d="M383.2,131.0 411.1,129.0 413.1,135.6 414.6,138.7 417.4,170.5 418.2,175.9 417.7,181.4 414.5,187.1 415.5,192.4 413.8,196.6 410.0,202.4 403.2,204.2 399.2,200.4 399.0,196.4 394.5,192.6 389.6,188.9 390.8,183.4 390.5,179.3 386.3,176.9 381.9,173.0 376.9,165.2 377.0,160.0 379.9,154.2 380.7,148.7 384.4,144.5 388.2,140.2 388.4,136.1Z"/></clipPath><clipPath id="cIN"><path d="M414.6,138.7 421.8,138.1 441.5,135.9 445.6,171.7 446.3,175.7 440.2,177.7 436.7,184.0 435.1,187.8 430.0,189.7 424.8,190.2 418.5,190.8 415.5,192.4 414.5,187.1 417.7,181.4 418.2,175.9 417.4,170.5Z"/></clipPath><clipPath id="cKS"><path d="M269.2,164.3 337.8,166.2 341.9,172.3 345.1,177.7 345.3,206.7 266.6,204.8Z"/></clipPath><clipPath id="cKY"><path d="M400.0,211.2 403.0,208.3 403.2,204.2 410.0,202.4 413.8,196.6 415.5,192.4 418.5,190.8 424.8,190.2 430.0,189.7 435.1,187.8 436.7,184.0 440.2,177.7 446.3,175.7 448.8,171.3 454.5,174.7 459.9,176.0 464.9,174.7 469.6,178.1 470.0,180.8 474.0,187.0 477.8,188.7 472.8,193.4 467.1,198.3 461.6,203.8 415.4,210.1Z"/></clipPath><clipPath id="cMD"><path d="M498.5,155.4 535.5,148.2 539.1,165.0 546.7,163.3 547.6,166.5 547.1,171.2 541.0,171.6 538.5,167.2 533.5,164.1 530.9,156.4 531.0,161.9 533.4,168.3 535.2,172.0 527.2,169.5 524.6,161.8 519.8,158.6 517.2,157.5 515.7,153.9 510.1,154.3 504.0,158.2 499.8,162.4Z"/></clipPath><clipPath id="cMO"><path d="M333.2,158.1 374.0,157.2 377.0,160.0 376.9,165.2 381.9,173.0 386.3,176.9 390.5,179.3 390.8,183.4 389.6,188.9 394.5,192.6 399.0,196.4 399.2,200.4 403.2,204.2 403.0,208.3 400.0,211.2 399.2,215.4 398.3,218.1 391.1,218.6 393.1,211.7 345.4,213.5 345.1,177.7 341.9,172.3 337.8,166.2Z"/></clipPath><clipPath id="cMS"><path d="M384.8,259.5 385.0,252.8 386.9,245.9 390.8,237.6 393.8,232.0 415.5,230.4 416.7,231.7 415.9,272.4 418.3,292.4 412.5,292.8 409.1,294.0 406.6,296.6 404.6,296.1 402.4,285.5 380.6,286.7 380.9,284.0 387.2,272.9 384.6,266.3Z"/></clipPath><clipPath id="cNC"><path d="M457.5,226.1 470.7,224.4 477.8,220.7 492.4,219.1 493.8,219.6 495.8,223.1 508.0,221.3 522.4,231.8 529.3,229.8 530.4,224.1 536.0,218.2 542.3,216.2 546.5,209.8 551.5,207.3 549.2,199.5 543.7,190.3 482.5,200.8 480.3,208.0 474.1,210.3 469.3,214.3 463.2,217.9 457.4,223.4Z"/></clipPath><clipPath id="cOH"><path d="M441.4,136.8 454.9,134.7 462.8,137.4 469.6,135.7 472.6,135.3 478.7,129.6 483.1,127.1 486.1,144.9 485.3,145.6 485.6,153.8 484.3,158.1 481.9,162.6 479.0,164.4 476.6,168.9 473.3,174.8 469.6,178.1 464.9,174.7 459.9,176.0 454.5,174.7 448.8,171.3 445.6,171.7Z"/></clipPath><clipPath id="cPA"><path d="M488.1,157.2 535.5,148.2 539.2,146.3 541.6,143.0 544.5,139.6 539.8,135.1 538.9,131.1 541.5,124.3 537.3,121.8 533.3,117.1 490.5,125.5 489.9,122.0 483.1,127.1Z"/></clipPath><clipPath id="cTN"><path d="M393.8,232.0 394.5,226.5 398.3,218.1 399.2,215.4 400.0,211.2 415.4,210.1 482.5,200.8 480.3,208.0 474.1,210.3 469.3,214.3 463.2,217.9 457.4,223.4 457.5,226.1Z"/></clipPath><clipPath id="cTX"><path d="M255.5,210.8 288.0,212.7 286.9,238.9 290.1,241.2 295.5,244.1 303.1,245.7 309.1,248.5 317.4,249.4 325.1,250.1 336.2,249.0 347.5,252.1 352.4,253.3 352.6,260.7 352.8,274.2 355.7,280.8 358.7,287.5 357.2,296.9 355.7,305.0 348.2,307.8 344.7,310.6 340.1,314.6 340.0,313.7 332.5,316.4 324.3,320.5 318.8,326.0 316.1,331.5 315.4,338.3 315.4,345.1 316.1,354.7 312.5,356.3 312.4,355.9 306.4,353.8 300.4,351.6 293.2,347.4 288.9,333.9 284.3,329.8 279.8,322.9 276.2,312.0 272.3,308.4 267.9,302.6 257.6,300.5 252.8,302.5 250.0,309.1 246.8,311.8 242.9,309.2 237.3,306.1 231.8,302.2 229.9,296.7 227.4,287.0 221.1,281.0 214.8,274.9 211.8,270.8 210.8,267.7 251.0,271.4Z"/></clipPath><clipPath id="cVA"><path d="M461.6,203.8 543.7,190.3 541.4,186.0 538.0,185.3 536.6,178.7 534.2,172.3 527.2,169.5 524.6,161.8 519.8,158.6 517.2,157.5 511.4,158.8 510.6,156.9 507.1,163.8 505.6,166.8 503.5,172.7 499.1,172.1 497.2,179.3 495.2,186.5 490.2,188.7 484.7,190.9 481.3,192.8 477.8,188.7 472.8,193.4 467.1,198.3Z"/><path d="M547.1,171.2 546.4,177.5 545.5,185.5 543.2,189.2 541.2,187.5 541.3,180.0 541.0,171.6Z"/></clipPath><clipPath id="cWV"><path d="M469.6,178.1 473.3,174.8 476.6,168.9 479.0,164.4 481.9,162.6 484.3,158.1 485.6,153.8 485.3,145.6 486.1,144.9 488.1,157.2 498.5,155.4 499.8,162.4 504.0,158.2 510.1,154.3 515.7,153.9 517.2,157.5 511.4,158.8 510.6,156.9 507.1,163.8 505.6,166.8 503.5,172.7 499.1,172.1 497.2,179.3 495.2,186.5 490.2,188.7 484.7,190.9 481.3,192.8 477.8,188.7 474.0,187.0 470.0,180.8Z"/></clipPath><g clip-path="url(#us)"><path d="M57.3,100.6 80.7,105.7 81.1,112.1 76.9,114.6 72.1,112.7 68.2,114.0 63.4,113.4 59.6,109.2 57.7,106.3Z" fill="#f8e6bc"/>
<path d="M60.6,124.6 75.9,125.5 75.9,130.3 69.2,131.3 68.2,135.1 60.6,135.1Z" fill="#f8e6bc"/>
<path d="M60.5,130.0 68.0,130.0 68.7,135.5 67.3,143.0 63.2,143.7 60.5,138.2Z" fill="#f8e6bc"/>
<path d="M78.2,137.5 87.1,138.2 87.1,142.3 79.6,141.6Z" fill="#f9d88c"/>
<path d="M59.1,146.4 62.5,145.0 65.3,149.8 69.4,149.1 74.1,152.6 82.3,152.6 84.4,156.0 87.8,164.9 83.0,166.2 77.6,164.9 76.9,171.0 72.1,175.1 66.6,173.7 65.9,166.9 68.7,163.5 64.6,160.8 60.5,158.7 58.4,154.6Z" fill="#f8e6bc"/>
<path d="M83.7,152.6 87.8,153.2 87.8,157.3 84.0,157.1Z" fill="#f9d88c"/>
<path d="M55.0,160.8 58.4,160.8 58.4,165.5 55.0,165.8Z" fill="#f1936c"/>
<path d="M60.0,188.2 73.4,190.7 86.9,194.6 98.4,196.9 99.4,198.8 96.5,208.4 95.5,220.9 88.8,220.9 85.9,217.0 84.0,208.4 83.0,205.5 76.3,204.6 71.5,207.4 66.7,206.5 64.8,200.7 60.0,193.0Z" fill="#f8e6bc"/>
<path d="M76.3,204.6 83.0,205.5 84.0,216.1 81.1,217.0 78.2,214.2 77.3,209.4Z" fill="#86c660"/>
<path d="M88.4,220.3 92.6,220.9 95.5,226.6 93.6,227.6 90.7,224.7Z" fill="#f1936c"/>
<path d="M107.0,233.4 121.4,234.3 125.3,244.9 108.0,244.9 107.6,239.1Z" fill="#f8e6bc"/>
<path d="M155.8,193.2 174.7,195.3 174.0,205.5 171.3,220.5 169.2,231.5 165.1,230.8 161.0,224.0 159.6,221.2 154.2,219.2 152.8,214.4 146.0,211.7 144.6,209.6 146.7,202.1 152.8,200.0 154.9,198.0Z" fill="#86c660"/>
<path d="M128.2,227.3 140.5,226.6 140.5,231.1 152.8,232.5 161.0,236.2 163.1,241.0 152.5,242.3 150.1,246.4 150.3,252.2 168.5,255.7 168.5,265.6 159.6,265.8 156.9,267.6 120.0,244.4 117.3,242.3 117.3,235.5 126.2,235.5Z" fill="#86c660"/>
<path d="M115.9,235.5 124.1,235.5 124.8,244.4 115.9,244.4Z" fill="#f8e6bc"/>
<path d="M167.3,137.1 170.8,135.0 175.5,135.3 176.9,137.8 173.5,140.5 170.8,141.6 168.0,140.5Z" fill="#f9d88c"/>
<path d="M174.9,140.5 179.6,139.8 181.0,143.9 189.2,144.6 189.2,161.0 178.3,161.0 176.2,159.0 179.6,156.2 179.6,147.3 175.8,146.0Z" fill="#f9d88c"/>
<path d="M185.1,163.1 195.4,163.1 195.4,180.0 185.1,180.0Z" fill="#f9d88c"/>
<path d="M162.6,166.5 172.8,167.2 173.5,172.6 163.9,173.3Z" fill="#f9d88c"/>
<path d="M145.5,169.2 160.5,171.3 160.5,176.0 145.5,174.7Z" fill="#f9d88c"/>
<path d="M171.4,121.4 177.6,121.4 177.6,126.2 172.8,126.2Z" fill="#86c660"/>
<path d="M211.8,126.8 220.6,126.8 220.6,144.6 211.8,144.6Z" fill="#86c660"/>
<path d="M144.8,168.2 160.5,169.6 160.5,175.7 144.8,173.7Z" fill="#f9d88c"/>
<path d="M161.9,166.2 173.5,166.2 173.5,173.7 161.9,173.0Z" fill="#f9d88c"/>
<path d="M185.1,165.5 194.7,165.5 194.7,196.2 175.5,195.3 176.9,189.4 185.1,182.6Z" fill="#f9d88c"/>
<path d="M156.4,178.5 172.8,179.1 183.7,181.2 183.7,186.0 174.2,188.0 156.4,184.6Z" fill="#f9d88c"/>
<path d="M176.9,160.0 186.5,160.0 186.5,163.4 176.9,163.4Z" fill="#f9d88c"/>
<path d="M171.7,104.2 179.4,105.1 185.1,106.1 185.1,113.8 181.3,113.8 179.4,109.0 172.6,107.0Z" fill="#86c660"/>
<path d="M172.6,121.4 177.4,121.1 178.0,125.7 172.6,125.7Z" fill="#86c660"/>
<path d="M217.8,127.2 231.2,128.2 231.2,144.3 212.0,144.3 212.0,137.8 216.8,136.8Z" fill="#86c660"/>
<path d="M245.2,127.6 251.0,127.6 251.0,141.6 245.2,141.6Z" fill="#86c660"/>
<path d="M237.9,140.3 247.5,140.3 247.5,145.4 237.9,145.4Z" fill="#f1936c"/>
<path d="M269.2,44.2 278.8,44.2 278.8,50.0 269.2,50.0Z" fill="#f9d88c"/>
<path d="M284.6,45.2 294.2,45.2 294.2,53.8 284.6,53.8Z" fill="#f9d88c"/>
<path d="M299.9,45.7 319.5,45.7 319.5,51.9 299.9,51.9Z" fill="#f9d88c"/>
<path d="M285.5,50.0 293.2,50.0 293.2,59.6 285.5,59.6Z" fill="#f9d88c"/>
<path d="M274.0,59.6 293.2,59.6 293.2,68.2 274.0,68.2Z" fill="#f9d88c"/>
<path d="M307.6,51.9 319.5,51.9 319.5,69.2 307.6,69.2Z" fill="#f9d88c"/>
<path d="M293.2,68.2 298.0,68.2 298.0,76.8 293.2,76.8Z" fill="#f9d88c"/>
<path d="M260.6,65.3 265.4,65.3 265.4,73.0 260.6,73.0Z" fill="#f9d88c"/>
<path d="M266.3,75.9 274.6,75.9 274.6,82.6 266.3,82.6Z" fill="#f9d88c"/>
<path d="M295.1,76.8 318.2,76.8 318.2,84.5 295.1,84.5Z" fill="#f9d88c"/>
<path d="M313.4,69.2 319.5,69.2 319.5,77.8 313.4,77.8Z" fill="#f9d88c"/>
<path d="M299.9,63.4 307.6,63.4 307.6,70.1 299.9,70.1Z" fill="#f9d88c"/>
<path d="M362.3,84.5 370.0,82.6 370.0,105.6 363.3,103.7 364.2,96.0 361.4,90.3Z" fill="#86c660"/>
<path d="M288.0,166.2 293.5,166.2 293.5,171.2 288.0,171.2Z" fill="#5d9e57"/>
<path d="M305.1,166.8 310.6,166.8 310.6,171.9 305.1,171.9Z" fill="#f1936c"/>
<path d="M316.7,166.8 322.2,166.8 322.2,171.9 316.7,171.9Z" fill="#5d9e57"/>
<path d="M294.2,172.0 299.6,172.0 299.6,177.4 294.2,177.4Z" fill="#5d9e57"/>
<path d="M305.1,172.0 310.6,172.0 310.6,176.7 305.1,176.7Z" fill="#5d9e57"/>
<path d="M294.2,177.5 299.2,177.5 299.2,183.2 294.2,183.2Z" fill="#d8433c"/>
<path d="M305.1,176.8 310.6,176.8 310.6,181.9 305.1,181.9Z" fill="#f1936c"/>
<path d="M321.1,173.7 325.6,173.7 325.6,181.9 321.1,181.9Z" fill="#d8433c"/>
<path d="M320.1,181.9 327.0,181.9 327.0,186.7 320.1,186.7Z" fill="#5d9e57"/>
<path d="M327.0,183.9 331.1,183.9 331.1,190.8 327.0,190.8Z" fill="#d8433c"/>
<path d="M331.1,188.0 335.4,188.0 335.4,192.4 331.1,192.4Z" fill="#f1936c"/>
<path d="M335.9,188.0 340.0,188.0 340.0,192.8 335.9,192.8Z" fill="#5d9e57"/>
<path d="M268.9,176.4 273.7,176.4 273.7,189.0 268.9,189.0Z" fill="#5d9e57"/>
<path d="M268.9,188.7 277.1,188.7 277.1,199.9 268.9,199.9Z" fill="#5d9e57"/>
<path d="M299.6,183.9 304.8,183.9 304.8,189.4 299.6,189.4Z" fill="#d8433c"/>
<path d="M304.4,186.0 310.6,186.0 310.6,191.2 304.4,191.2Z" fill="#d8433c"/>
<path d="M286.7,189.4 293.1,189.4 293.1,194.4 286.7,194.4Z" fill="#5d9e57"/>
<path d="M286.7,194.2 293.1,194.2 293.1,199.9 286.7,199.9Z" fill="#d8433c"/>
<path d="M299.6,194.2 305.4,194.2 305.4,199.9 299.6,199.9Z" fill="#5d9e57"/>
<path d="M305.1,191.2 318.5,191.2 318.5,195.8 305.1,195.8Z" fill="#5d9e57"/>
<path d="M318.5,192.1 324.9,192.1 324.9,199.9 318.5,199.9Z" fill="#d8433c"/>
<path d="M305.8,196.6 312.2,196.6 312.2,201.0 305.8,201.0Z" fill="#d8433c"/>
<path d="M281.9,199.6 305.8,199.6 305.8,205.4 281.9,205.4Z" fill="#5d9e57"/>
<path d="M277.1,200.7 282.1,200.7 282.1,205.4 277.1,205.4Z" fill="#d8433c"/>
<path d="M305.8,199.6 324.9,199.6 324.9,205.8 305.8,205.8Z" fill="#d8433c"/>
<path d="M331.1,196.9 335.4,196.9 335.4,201.3 331.1,201.3Z" fill="#5d9e57"/>
<path d="M264.8,212.6 270.3,212.6 270.3,217.7 264.8,217.7Z" fill="#d8433c"/>
<path d="M282.6,213.3 287.6,213.3 287.6,218.1 282.6,218.1Z" fill="#d8433c"/>
<path d="M265.5,217.7 276.4,217.7 276.4,220.8 265.5,220.8Z" fill="#5d9e57"/>
<path d="M360.9,73.7 379.4,73.0 378.7,79.1 377.3,83.5 366.4,84.3 360.9,86.0 358.2,80.5Z" fill="#f8e6bc"/>
<path d="M386.9,90.1 392.4,90.1 392.4,95.3 386.9,95.3Z" fill="#f8e6bc"/>
<path d="M384.9,101.7 395.1,101.7 395.1,107.2 391.0,107.2 391.0,120.8 388.3,120.8 388.3,107.2 384.9,107.2Z" fill="#f8e6bc"/>
<path d="M399.2,106.5 404.7,106.5 404.7,111.9 399.2,111.9Z" fill="#f8e6bc"/>
<path d="M398.5,114.0 406.0,114.0 406.0,120.8 398.5,120.8Z" fill="#f8e6bc"/>
<path d="M385.5,102.1 393.7,102.1 393.7,106.8 389.6,107.5 385.5,106.2Z" fill="#f8e6bc"/>
<path d="M386.9,115.7 396.5,115.7 396.5,120.5 391.0,121.2 386.9,119.8Z" fill="#f8e6bc"/>
<path d="M397.8,108.2 403.3,108.2 403.3,113.7 397.8,113.7Z" fill="#f8e6bc"/>
<path d="M391.0,126.0 399.2,126.0 400.6,130.8 395.1,131.4 391.0,129.4Z" fill="#f8e6bc"/>
<path d="M401.9,120.5 407.4,120.5 407.4,126.0 401.9,126.0Z" fill="#f8e6bc"/>
<path d="M388.3,134.9 395.1,135.5 400.6,141.0 396.5,142.4 389.6,141.7Z" fill="#86c660"/>
<path d="M395.1,130.8 407.4,130.8 407.4,135.5 401.9,134.9Z" fill="#86c660"/>
<path d="M381.4,145.1 385.5,145.1 391.0,149.2 391.0,160.8 382.8,160.8Z" fill="#86c660"/>
<path d="M400.6,145.1 414.2,145.1 414.2,160.8 399.2,160.8Z" fill="#86c660"/>
<path d="M404.0,134.9 406.7,134.9 406.7,140.3 404.0,140.3Z" fill="#f1936c"/>
<path d="M391.7,151.3 395.8,151.3 395.8,156.7 391.7,156.7Z" fill="#f1936c"/>
<path d="M382.6,149.8 392.8,149.1 401.0,145.0 405.1,143.7 411.9,146.4 414.7,149.1 416.3,165.5 416.3,190.8 387.3,190.8 388.7,181.9 380.5,171.0 380.5,165.5 382.6,157.3Z" fill="#86c660"/>
<path d="M392.8,160.1 399.6,160.1 399.6,171.0 394.2,169.6Z" fill="#f8e6bc"/>
<path d="M405.1,154.6 411.9,154.6 411.9,162.8 406.5,162.8Z" fill="#f8e6bc"/>
<path d="M402.4,171.0 407.8,169.6 410.6,177.8 405.1,177.8Z" fill="#f8e6bc"/>
<path d="M394.2,175.1 398.3,175.1 398.3,180.6 394.2,180.6Z" fill="#f8e6bc"/>
<path d="M387.3,134.1 395.5,135.5 401.0,138.2 398.3,142.3 392.8,143.7 388.7,140.9Z" fill="#86c660"/>
<path d="M405.1,130.0 413.3,130.0 413.3,140.9 407.8,142.3Z" fill="#86c660"/>
<path d="M391.4,151.2 395.5,151.2 394.9,156.0 392.1,156.0Z" fill="#f1936c"/>
<path d="M403.7,134.8 407.2,134.8 407.2,140.3 404.4,140.3Z" fill="#f1936c"/>
<path d="M360.0,169.6 364.8,169.6 364.8,175.1 360.0,175.1Z" fill="#86c660"/>
<path d="M368.2,170.3 375.0,170.3 375.0,174.4 368.2,174.4Z" fill="#86c660"/>
<path d="M360.0,180.6 368.2,180.6 368.2,184.7 360.0,184.7Z" fill="#86c660"/>
<path d="M418.8,150.5 427.0,150.5 428.3,155.3 420.1,156.0Z" fill="#5d9e57"/>
<path d="M420.8,158.7 424.9,158.7 424.9,163.5 420.8,163.5Z" fill="#5d9e57"/>
<path d="M425.6,171.0 429.7,171.0 429.7,175.1 425.6,175.1Z" fill="#5d9e57"/>
<path d="M424.2,176.5 428.3,176.5 428.3,181.9 424.2,181.9Z" fill="#5d9e57"/>
<path d="M428.3,154.6 433.1,154.6 433.1,156.7 428.3,156.7Z" fill="#f8e6bc"/>
<path d="M429.7,162.1 436.5,162.1 436.5,164.4 429.7,164.4Z" fill="#f8e6bc"/>
<path d="M418.1,140.9 420.8,140.9 420.8,143.7 418.1,143.7Z" fill="#f8e6bc"/>
<path d="M282.3,325.1 290.5,324.6 291.5,319.5 297.7,319.5 297.7,326.7 309.0,327.2 307.9,330.3 306.4,333.3 306.4,342.6 300.8,346.7 300.2,350.8 295.6,350.2 291.5,345.6 289.5,340.5 288.5,334.4 284.4,330.3 280.3,326.2Z" fill="#5d9e57"/>
<path d="M297.7,319.5 306.9,319.5 309.0,326.7 297.7,326.7Z" fill="#f8e6bc"/>
<path d="M306.9,320.0 314.1,321.0 314.1,329.2 309.0,328.7Z" fill="#5d9e57"/>
<path d="M313.1,322.1 319.2,320.0 319.2,326.2 315.1,327.7Z" fill="#d8433c"/>
<path d="M307.9,329.2 314.1,329.7 315.1,333.3 309.0,334.4 307.4,332.3Z" fill="#d8433c"/>
<path d="M306.4,333.3 313.1,334.4 312.0,338.5 306.9,337.9Z" fill="#f8e6bc"/>
<path d="M306.9,338.5 313.1,337.4 315.1,348.7 313.1,350.8 309.0,350.8 307.9,353.8 300.8,352.8 300.2,347.7 303.8,344.6 306.9,343.6Z" fill="#d8433c"/>
<path d="M309.0,350.8 314.1,350.2 316.1,355.4 313.1,357.4 309.0,353.8Z" fill="#f8e6bc"/>
<path d="M210.3,268.7 217.9,269.4 217.4,276.4 215.4,275.9 212.3,271.3Z" fill="#d8433c"/>
<path d="M217.9,269.4 239.5,271.1 239.0,280.5 233.8,284.6 228.7,288.2 223.6,284.6 217.4,276.9Z" fill="#5d9e57"/>
<path d="M228.2,288.7 241.0,291.8 240.5,305.6 233.8,305.6 230.8,299.0 229.2,292.8Z" fill="#d8433c"/>
<path d="M241.0,291.8 245.1,289.7 253.3,296.9 257.4,301.0 255.4,305.6 240.5,305.6Z" fill="#5d9e57"/>
<path d="M358.2,170.0 364.4,170.0 364.4,175.7 360.7,176.3 358.2,173.8Z" fill="#86c660" clip-path="url(#cMO)"/>
<path d="M368.2,170.0 374.5,170.0 374.5,174.4 368.2,174.4Z" fill="#86c660" clip-path="url(#cMO)"/>
<path d="M346.3,181.3 366.3,180.7 367.6,186.3 361.3,185.7 346.3,187.0Z" fill="#86c660" clip-path="url(#cMO)"/>
<path d="M345.6,193.2 350.7,193.2 350.7,198.2 345.6,198.2Z" fill="#86c660" clip-path="url(#cMO)"/>
<path d="M355.7,192.6 360.7,192.6 360.7,205.8 355.7,205.8Z" fill="#86c660" clip-path="url(#cMO)"/>
<path d="M365.7,198.2 376.3,192.6 377.6,205.8 365.7,205.8Z" fill="#86c660" clip-path="url(#cMO)"/>
<path d="M372.0,192.0 377.0,192.0 377.0,197.6 372.0,197.6Z" fill="#86c660" clip-path="url(#cMO)"/>
<path d="M385.1,180.1 391.4,180.1 391.4,191.3 385.1,191.3Z" fill="#86c660" clip-path="url(#cMO)"/>
<path d="M387.6,181.3 393.9,192.6 400.1,200.1 405.0,205.8 385.1,205.8Z" fill="#86c660" clip-path="url(#cMO)"/>
<path d="M355.9,200.0 361.5,200.0 361.5,205.1 355.9,205.1Z" fill="#86c660" clip-path="url(#cMO)"/>
<path d="M365.6,200.0 375.9,200.0 375.9,205.1 365.6,205.1Z" fill="#86c660" clip-path="url(#cMO)"/>
<path d="M381.0,204.6 386.1,204.6 386.1,207.7 381.0,207.7Z" fill="#86c660" clip-path="url(#cMO)"/>
<path d="M351.3,208.2 356.4,208.2 356.4,212.8 351.3,212.8Z" fill="#86c660" clip-path="url(#cMO)"/>
<path d="M340.0,168.8 344.4,168.8 344.4,177.6 340.0,176.3Z" fill="#86c660" clip-path="url(#cKS)"/>
<path d="M339.4,179.4 344.4,179.4 344.4,183.8 339.4,183.8Z" fill="#d8433c" clip-path="url(#cKS)"/>
<path d="M339.4,183.8 344.4,183.8 344.4,188.2 339.4,188.2Z" fill="#f1936c" clip-path="url(#cKS)"/>
<path d="M335.0,188.8 340.0,188.8 340.0,192.6 335.0,192.6Z" fill="#5d9e57" clip-path="url(#cKS)"/>
<path d="M381.4,150.0 391.4,150.0 393.9,157.5 400.1,157.5 405.8,162.5 405.8,205.8 400.1,200.1 393.9,192.6 387.6,191.3 385.1,185.1 388.9,180.1 391.4,175.1 385.1,173.8 380.1,168.8 382.6,162.5Z" fill="#86c660" clip-path="url(#cIL)"/>
<path d="M391.4,158.8 397.6,161.3 397.6,168.8 392.6,168.8Z" fill="#f8e6bc" clip-path="url(#cIL)"/>
<path d="M395.1,172.6 405.8,171.3 401.4,180.1 396.4,178.8Z" fill="#f8e6bc" clip-path="url(#cIL)"/>
<path d="M391.4,151.9 396.4,151.9 395.1,156.3 392.6,156.3Z" fill="#f1936c" clip-path="url(#cIL)"/>
<path d="M431.3,211.3 436.4,210.8 437.4,215.4 433.3,215.4Z" fill="#f8e6bc" clip-path="url(#cTN)"/>
<path d="M413.8,225.6 416.9,225.6 416.9,229.7 413.8,229.7Z" fill="#f8e6bc" clip-path="url(#cTN)"/>
<path d="M414.3,213.3 416.9,213.3 416.9,219.0 414.3,219.0Z" fill="#5d9e57" clip-path="url(#cTN)"/>
<path d="M409.7,237.9 412.3,237.9 412.3,243.1 409.7,243.1Z" fill="#f8e6bc" clip-path="url(#cMS)"/>
<path d="M397.7,243.1 401.8,243.1 401.8,247.2 397.7,247.2Z" fill="#f8e6bc" clip-path="url(#cMS)"/>
<path d="M390.5,256.4 396.7,251.3 397.7,250.3 402.8,251.3 402.8,254.4 398.7,258.5 395.6,263.6 391.5,264.6 390.0,260.5Z" fill="#f1936c" clip-path="url(#cMS)"/>
<path d="M390.0,266.7 395.6,266.1 397.2,269.7 394.6,271.8 391.0,271.3Z" fill="#f8e6bc" clip-path="url(#cMS)"/>
<path d="M409.5,240.0 412.0,240.0 412.0,243.1 410.0,243.6Z" fill="#f8e6bc" clip-path="url(#cMS)"/>
<path d="M482.9,166.0 493.8,166.0 496.5,174.2 492.4,181.0 484.2,182.4 480.1,176.9Z" fill="#86c660" clip-path="url(#cWV)"/>
<path d="M474.7,170.1 478.8,170.8 478.1,176.9 474.7,176.2Z" fill="#86c660" clip-path="url(#cWV)"/>
<path d="M478.8,185.1 484.2,185.1 484.2,190.6 478.8,190.6Z" fill="#86c660" clip-path="url(#cWV)"/>
<path d="M477.4,174.2 482.9,174.2 482.9,178.3 477.4,178.3Z" fill="#f8e6bc" clip-path="url(#cWV)"/>
<path d="M487.0,159.1 492.4,159.1 492.4,164.6 488.3,166.0Z" fill="#f8e6bc" clip-path="url(#cWV)"/>
<path d="M495.9,164.6 500.6,164.6 500.6,170.1 495.9,170.1Z" fill="#5d9e57" clip-path="url(#cWV)"/>
<path d="M428.2,153.7 433.7,153.7 433.7,156.4 428.2,156.4Z" fill="#f8e6bc" clip-path="url(#cIN)"/>
<path d="M429.6,161.9 436.4,161.9 436.4,166.0 429.6,166.0Z" fill="#f8e6bc" clip-path="url(#cIN)"/>
<path d="M430.9,174.2 435.0,174.2 435.0,177.6 430.9,177.6Z" fill="#f8e6bc" clip-path="url(#cIN)"/>
<path d="M420.0,150.9 425.5,150.9 425.5,155.3 420.0,155.3Z" fill="#5d9e57" clip-path="url(#cIN)"/>
<path d="M421.4,159.1 425.5,159.1 425.5,163.2 421.4,163.2Z" fill="#5d9e57" clip-path="url(#cIN)"/>
<path d="M433.7,168.7 443.2,167.3 443.9,172.8 436.4,178.3 428.2,181.0 425.5,175.5Z" fill="#5d9e57" clip-path="url(#cIN)"/>
<path d="M449.2,175.6 454.0,174.8 457.2,177.2 460.4,177.2 464.4,176.4 467.6,178.8 470.0,182.8 471.6,186.0 470.8,190.8 467.6,196.4 463.6,201.2 458.0,202.0 454.0,199.6 450.0,196.4 448.4,193.2 450.8,190.8 454.0,190.0 455.6,186.0 453.2,183.6 450.0,182.0 449.2,178.8Z" fill="#d8433c" clip-path="url(#cKY)"/>
<path d="M457.2,178.0 460.4,178.8 460.4,182.0 457.6,182.0Z" fill="#5d9e57" clip-path="url(#cKY)"/>
<path d="M458.8,191.6 462.0,191.6 462.0,194.0 458.8,194.0Z" fill="#5d9e57" clip-path="url(#cKY)"/>
<path d="M464.4,178.0 467.6,178.8 468.4,182.8 465.2,182.0Z" fill="#5d9e57" clip-path="url(#cKY)"/>
<path d="M449.2,183.6 452.4,183.6 452.4,187.6 449.2,187.6Z" fill="#d8433c" clip-path="url(#cKY)"/>
<path d="M440.4,186.0 443.6,186.0 443.6,188.4 440.4,188.4Z" fill="#d8433c" clip-path="url(#cKY)"/>
<path d="M441.2,194.0 445.2,194.0 445.2,197.2 441.2,197.2Z" fill="#d8433c" clip-path="url(#cKY)"/>
<path d="M444.4,202.0 447.6,202.0 447.6,205.6 444.4,205.6Z" fill="#d8433c" clip-path="url(#cKY)"/>
<path d="M507.6,135.3 512.4,133.2 517.2,135.3 521.9,134.6 523.3,137.3 519.2,141.4 516.5,142.8 515.1,149.6 511.0,153.7 510.3,151.0 508.3,149.6 506.9,142.8 506.2,138.7Z" fill="#f8e6bc" clip-path="url(#cPA)"/>
<path d="M497.3,139.4 502.8,139.4 502.8,145.5 497.3,145.5Z" fill="#f8e6bc" clip-path="url(#cPA)"/>
<path d="M530.1,123.7 535.6,123.7 535.6,127.8 531.5,129.1Z" fill="#f8e6bc" clip-path="url(#cPA)"/>
<path d="M493.2,151.0 498.7,151.0 498.7,155.8 493.2,155.8Z" fill="#5d9e57" clip-path="url(#cPA)"/>
<path d="M505.5,146.9 511.0,146.9 511.0,153.7 505.5,153.7Z" fill="#5d9e57" clip-path="url(#cPA)"/>
<path d="M526.0,142.8 530.1,142.1 534.2,142.8 537.7,143.5 537.0,147.6 531.5,148.3 527.4,146.9Z" fill="#5d9e57" clip-path="url(#cPA)"/>
<path d="M498.7,159.2 509.6,156.5 511.0,161.9 505.5,167.4 500.1,167.4Z" fill="#86c660" clip-path="url(#cMD)"/>
<path d="M505.5,161.9 509.6,161.9 509.6,166.0 505.5,166.0Z" fill="#5d9e57" clip-path="url(#cMD)"/>
<path d="M512.4,164.7 516.5,164.7 516.5,168.8 512.4,168.8Z" fill="#5d9e57" clip-path="url(#cMD)"/>
<path d="M498.2,174.0 507.8,172.4 510.2,178.0 503.0,180.4 499.8,184.4 496.6,182.0Z" fill="#d8433c" clip-path="url(#cVA)"/>
<path d="M514.2,182.0 520.6,180.4 522.2,185.2 519.0,188.4 515.8,193.2 511.8,191.6 512.6,186.8Z" fill="#d8433c" clip-path="url(#cVA)"/>
<path d="M524.6,182.0 531.8,180.4 535.0,185.2 530.2,191.6 525.4,193.2Z" fill="#d8433c" clip-path="url(#cVA)"/>
<path d="M526.2,182.0 530.2,183.6 528.6,186.8 526.2,186.0Z" fill="#5d9e57" clip-path="url(#cVA)"/>
<path d="M531.8,185.2 535.0,186.8 534.2,190.8 531.8,190.0Z" fill="#5d9e57" clip-path="url(#cVA)"/>
<path d="M488.6,191.3 493.7,191.3 493.7,195.1 488.6,195.1Z" fill="#d8433c" clip-path="url(#cVA)"/>
<path d="M495.0,195.3 499.8,195.3 499.8,198.8 495.0,198.8Z" fill="#d8433c" clip-path="url(#cVA)"/>
<path d="M535.0,188.4 539.0,188.4 539.0,191.6 535.0,191.6Z" fill="#d8433c" clip-path="url(#cVA)"/>
<path d="M501.4,158.0 509.4,156.4 510.2,164.4 503.0,170.8 499.8,166.0Z" fill="#86c660" clip-path="url(#cVA)"/>
<path d="M508.6,162.8 511.8,162.8 511.8,167.6 508.6,167.6Z" fill="#5d9e57" clip-path="url(#cVA)"/>
<path d="M513.4,165.2 516.6,165.2 516.6,169.2 513.4,169.2Z" fill="#5d9e57" clip-path="url(#cVA)"/>
<path d="M485.4,166.0 493.4,166.0 493.4,180.4 487.0,182.0 483.8,175.6Z" fill="#86c660" clip-path="url(#cWV)"/>
<path d="M479.0,185.2 484.6,185.2 484.6,190.0 479.0,190.0Z" fill="#86c660" clip-path="url(#cWV)"/>
<path d="M474.2,170.8 477.4,170.8 477.4,177.2 474.2,177.2Z" fill="#86c660" clip-path="url(#cWV)"/>
<path d="M475.8,166.0 483.8,166.0 483.8,170.8 477.4,172.4Z" fill="#f8e6bc" clip-path="url(#cWV)"/>
<path d="M498.2,199.6 507.8,198.0 509.4,204.4 501.4,206.0Z" fill="#f1936c" clip-path="url(#cNC)"/>
<path d="M517.4,205.7 523.8,205.7 523.8,214.0 517.4,214.0Z" fill="#86c660" clip-path="url(#cNC)"/>
<path d="M506.2,207.6 512.6,207.6 512.6,214.0 506.2,214.0Z" fill="#86c660" clip-path="url(#cNC)"/>
<path d="M509.4,214.0 519.0,214.0 519.0,221.2 509.4,221.2Z" fill="#86c660" clip-path="url(#cNC)"/>
<path d="M496.6,202.8 501.4,202.8 501.4,207.6 496.6,207.6Z" fill="#86c660" clip-path="url(#cNC)"/>
<path d="M522.2,204.4 527.0,204.4 527.0,209.2 522.2,209.2Z" fill="#f1936c" clip-path="url(#cNC)"/>
<path d="M519.0,196.4 523.8,196.4 523.8,200.4 519.0,200.4Z" fill="#f1936c" clip-path="url(#cNC)"/>
<path d="M471.0,209.2 477.4,209.2 477.4,214.0 471.0,214.0Z" fill="#f1936c" clip-path="url(#cNC)"/>
<path d="M480.6,212.4 487.0,212.4 487.0,217.2 480.6,217.2Z" fill="#f1936c" clip-path="url(#cNC)"/>
<path d="M528.6,210.8 533.4,210.8 533.4,215.6 528.6,215.6Z" fill="#f1936c" clip-path="url(#cNC)"/>
<path d="M468.8,211.5 476.5,211.5 476.5,217.3 468.8,217.3Z" fill="#f1936c" clip-path="url(#cNC)"/>
<path d="M457.3,221.5 465.0,221.5 465.0,225.9 457.3,225.9Z" fill="#f1936c" clip-path="url(#cNC)"/>
<path d="M474.6,213.4 489.9,211.5 488.0,219.2 478.4,221.1Z" fill="#f1936c" clip-path="url(#cNC)"/>
<path d="M493.8,211.5 501.4,207.7 503.4,215.4 495.7,217.3Z" fill="#f1936c" clip-path="url(#cNC)"/>
<path d="M522.6,219.2 530.2,219.2 528.3,228.8 522.6,230.7Z" fill="#f1936c" clip-path="url(#cNC)"/>
<path d="M466.9,218.2 471.7,218.2 471.7,224.0 466.9,224.0Z" fill="#86c660" clip-path="url(#cNC)"/>
<path d="M495.7,202.9 501.4,202.9 501.4,206.7 495.7,206.7Z" fill="#86c660" clip-path="url(#cNC)"/>
<path d="M505.3,207.7 513.0,205.8 514.9,213.4 507.2,219.2 503.4,215.4Z" fill="#86c660" clip-path="url(#cNC)"/>
<path d="M513.0,213.4 522.6,213.4 522.6,223.0 515.8,224.0Z" fill="#86c660" clip-path="url(#cNC)"/>
<path d="M516.8,205.8 522.6,205.8 522.6,211.5 516.8,211.5Z" fill="#86c660" clip-path="url(#cNC)"/>
<path d="M528.3,203.8 536.0,207.7 535.0,213.4 530.2,213.4Z" fill="#f1936c" clip-path="url(#cNC)"/>
<path d="M441.2,283.2 445.1,283.2 446.4,290.8 442.5,291.5 441.2,288.3Z" fill="#5d9e57" clip-path="url(#cFL)"/>
<path d="M453.4,286.4 457.2,286.4 457.2,291.5 453.4,291.5Z" fill="#5d9e57" clip-path="url(#cFL)"/>
<path d="M461.1,289.6 468.8,288.3 470.0,284.4 472.0,285.7 472.6,289.6 476.4,292.1 480.3,294.7 482.8,293.4 484.1,285.7 486.7,284.4 486.0,292.1 484.1,297.2 481.6,301.1 477.7,297.2 471.3,293.4 466.2,292.1 462.4,293.4Z" fill="#5d9e57" clip-path="url(#cFL)"/>
<path d="M486.7,303.6 495.0,303.6 495.0,311.3 486.7,311.3Z" fill="#5d9e57" clip-path="url(#cFL)"/>
<path d="M469.0,283.8 473.8,283.8 473.8,291.0 469.0,291.0Z" fill="#5d9e57" clip-path="url(#cFL)"/>
<path d="M483.4,283.4 487.3,283.4 487.3,296.8 483.4,296.8Z" fill="#5d9e57" clip-path="url(#cFL)"/>
<path d="M475.8,292.0 483.4,292.0 483.4,298.7 475.8,298.7Z" fill="#5d9e57" clip-path="url(#cFL)"/>
<path d="M498.8,293.0 502.6,293.0 502.6,297.8 498.8,297.8Z" fill="#5d9e57" clip-path="url(#cFL)"/>
<path d="M486.3,300.6 501.7,300.6 501.7,310.7 486.3,310.7Z" fill="#5d9e57" clip-path="url(#cFL)"/>
<path d="M486.3,303.1 507.8,300.0 507.8,306.3 500.7,306.9 500.1,311.3 503.8,315.0 508.2,317.5 512.6,321.9 512.0,324.4 506.9,323.2 502.6,320.7 496.9,320.0 495.7,313.8 495.0,307.8 487.5,307.8Z" fill="#5d9e57" clip-path="url(#cFL)"/>
<path d="M507.8,317.5 515.1,316.3 518.8,321.9 522.0,325.7 522.9,333.2 522.1,342.0 520.1,350.7 514.5,350.7 513.2,342.6 512.6,337.6 511.3,324.4 512.6,321.9Z" fill="#5d9e57" clip-path="url(#cFL)"/>
<path d="M497.3,324.8 511.3,324.1 511.6,330.1 505.1,331.3 497.3,330.3Z" fill="#5d9e57" clip-path="url(#cFL)"/>
<path d="M501.6,337.6 512.6,337.6 513.8,343.2 512.6,346.6 506.6,344.1 502.8,341.6Z" fill="#5d9e57" clip-path="url(#cFL)"/>
<path d="M512.6,318.8 518.2,318.8 518.2,323.8 512.6,323.8Z" fill="#f8e6bc" clip-path="url(#cFL)"/>
<path d="M511.6,345.4 515.3,345.4 515.3,351.6 511.6,351.6Z" fill="#f8e6bc" clip-path="url(#cFL)"/>
<g clip-path="url(#cTX)">
<rect x="254.60" y="212.70" width="5.62" height="5.79" fill="#f8e6bc"/>
<rect x="260.07" y="212.70" width="5.62" height="5.79" fill="#f8e6bc"/>
<rect x="265.54" y="212.70" width="5.62" height="5.79" fill="#d8433c"/>
<rect x="271.01" y="212.70" width="5.62" height="5.79" fill="#f8e6bc"/>
<rect x="276.48" y="212.70" width="5.62" height="5.79" fill="#f8e6bc"/>
<rect x="281.95" y="212.70" width="5.62" height="5.79" fill="#d8433c"/>
<rect x="254.60" y="218.34" width="5.62" height="5.79" fill="#f8e6bc"/>
<rect x="260.07" y="218.34" width="5.62" height="5.79" fill="#f8e6bc"/>
<rect x="265.54" y="218.34" width="5.62" height="5.79" fill="#5d9e57"/>
<rect x="271.01" y="218.34" width="5.62" height="5.79" fill="#5d9e57"/>
<rect x="276.48" y="218.34" width="5.62" height="5.79" fill="#d8433c"/>
<rect x="281.95" y="218.34" width="5.62" height="5.79" fill="#f8e6bc"/>
<rect x="254.60" y="223.98" width="5.62" height="5.79" fill="#f8e6bc"/>
<rect x="260.07" y="223.98" width="5.62" height="5.79" fill="#f8e6bc"/>
<rect x="265.54" y="223.98" width="5.62" height="5.79" fill="#d8433c"/>
<rect x="271.01" y="223.98" width="5.62" height="5.79" fill="#f8e6bc"/>
<rect x="276.48" y="223.98" width="5.62" height="5.79" fill="#5d9e57"/>
<rect x="281.95" y="223.98" width="5.62" height="5.79" fill="#d8433c"/>
<rect x="254.60" y="229.62" width="5.62" height="5.79" fill="#d8433c"/>
<rect x="260.07" y="229.62" width="5.62" height="5.79" fill="#d8433c"/>
<rect x="265.54" y="229.62" width="5.62" height="5.79" fill="#d8433c"/>
<rect x="271.01" y="229.62" width="5.62" height="5.79" fill="#d8433c"/>
<rect x="276.48" y="229.62" width="5.62" height="5.79" fill="#f8e6bc"/>
<rect x="281.95" y="229.62" width="5.62" height="5.79" fill="#f8e6bc"/>
<rect x="254.60" y="235.26" width="5.62" height="5.79" fill="#f8e6bc"/>
<rect x="260.07" y="235.26" width="5.62" height="5.79" fill="#d8433c"/>
<rect x="265.54" y="235.26" width="5.62" height="5.79" fill="#5d9e57"/>
<rect x="271.01" y="235.26" width="5.62" height="5.79" fill="#d8433c"/>
<rect x="276.48" y="235.26" width="5.62" height="5.79" fill="#d8433c"/>
<rect x="281.95" y="235.26" width="5.62" height="5.79" fill="#d8433c"/>
<rect x="254.60" y="240.90" width="5.62" height="5.79" fill="#f8e6bc"/>
<rect x="260.07" y="240.90" width="5.62" height="5.79" fill="#f8e6bc"/>
<rect x="265.54" y="240.90" width="5.62" height="5.79" fill="#d8433c"/>
<rect x="271.01" y="240.90" width="5.62" height="5.79" fill="#d8433c"/>
<rect x="276.48" y="240.90" width="5.62" height="5.79" fill="#d8433c"/>
<rect x="281.95" y="240.90" width="5.62" height="5.79" fill="#5d9e57"/>
<rect x="287.42" y="240.90" width="5.62" height="5.79" fill="#f8e6bc"/>
<rect x="292.89" y="240.90" width="5.62" height="5.79" fill="#d8433c"/>
<rect x="298.36" y="240.90" width="5.62" height="5.79" fill="#d8433c"/>
<rect x="303.83" y="240.90" width="5.62" height="5.79" fill="#f8e6bc"/>
<rect x="309.30" y="240.90" width="5.62" height="5.79" fill="#f8e6bc"/>
<rect x="314.77" y="240.90" width="5.62" height="5.79" fill="#f8e6bc"/>
<rect x="320.24" y="240.90" width="5.62" height="5.79" fill="#f8e6bc"/>
<rect x="325.71" y="240.90" width="5.62" height="5.79" fill="#f8e6bc"/>
<rect x="331.18" y="240.90" width="5.62" height="5.79" fill="#f8e6bc"/>
<rect x="336.65" y="240.90" width="5.62" height="5.79" fill="#f8e6bc"/>
<rect x="342.12" y="240.90" width="5.62" height="5.79" fill="#f8e6bc"/>
<rect x="254.60" y="246.54" width="5.62" height="5.79" fill="#f8e6bc"/>
<rect x="260.07" y="246.54" width="5.62" height="5.79" fill="#f8e6bc"/>
<rect x="265.54" y="246.54" width="5.62" height="5.79" fill="#d8433c"/>
<rect x="271.01" y="246.54" width="5.62" height="5.79" fill="#d8433c"/>
<rect x="276.48" y="246.54" width="5.62" height="5.79" fill="#5d9e57"/>
<rect x="281.95" y="246.54" width="5.62" height="5.79" fill="#f8e6bc"/>
<rect x="287.42" y="246.54" width="5.62" height="5.79" fill="#d8433c"/>
<rect x="292.89" y="246.54" width="5.62" height="5.79" fill="#d8433c"/>
<rect x="298.36" y="246.54" width="5.62" height="5.79" fill="#d8433c"/>
<rect x="303.83" y="246.54" width="5.62" height="5.79" fill="#f8e6bc"/>
<rect x="309.30" y="246.54" width="5.62" height="5.79" fill="#d8433c"/>
<rect x="314.77" y="246.54" width="5.62" height="5.79" fill="#d8433c"/>
<rect x="320.24" y="246.54" width="5.62" height="5.79" fill="#d8433c"/>
<rect x="325.71" y="246.54" width="5.62" height="5.79" fill="#d8433c"/>
<rect x="331.18" y="246.54" width="5.62" height="5.79" fill="#f8e6bc"/>
<rect x="336.65" y="246.54" width="5.62" height="5.79" fill="#5d9e57"/>
<rect x="342.12" y="246.54" width="5.62" height="5.79" fill="#f8e6bc"/>
<rect x="254.60" y="252.18" width="5.62" height="5.79" fill="#f8e6bc"/>
<rect x="260.07" y="252.18" width="5.62" height="5.79" fill="#f8e6bc"/>
<rect x="265.54" y="252.18" width="5.62" height="5.79" fill="#f8e6bc"/>
<rect x="271.01" y="252.18" width="5.62" height="5.79" fill="#f8e6bc"/>
<rect x="276.48" y="252.18" width="5.62" height="5.79" fill="#f8e6bc"/>
<rect x="281.95" y="252.18" width="5.62" height="5.79" fill="#f8e6bc"/>
<rect x="287.42" y="252.18" width="5.62" height="5.79" fill="#f8e6bc"/>
<rect x="292.89" y="252.18" width="5.62" height="5.79" fill="#5d9e57"/>
<rect x="298.36" y="252.18" width="5.62" height="5.79" fill="#f8e6bc"/>
<rect x="303.83" y="252.18" width="5.62" height="5.79" fill="#d8433c"/>
<rect x="309.30" y="252.18" width="5.62" height="5.79" fill="#d8433c"/>
<rect x="314.77" y="252.18" width="5.62" height="5.79" fill="#f8e6bc"/>
<rect x="320.24" y="252.18" width="5.62" height="5.79" fill="#d8433c"/>
<rect x="325.71" y="252.18" width="5.62" height="5.79" fill="#d8433c"/>
<rect x="331.18" y="252.18" width="5.62" height="5.79" fill="#5d9e57"/>
<rect x="336.65" y="252.18" width="5.62" height="5.79" fill="#f8e6bc"/>
<rect x="342.12" y="252.18" width="5.62" height="5.79" fill="#d8433c"/>
<rect x="347.59" y="252.18" width="5.62" height="5.79" fill="#d8433c"/>
<rect x="254.60" y="257.82" width="5.62" height="5.79" fill="#d8433c"/>
<rect x="260.07" y="257.82" width="5.62" height="5.79" fill="#5d9e57"/>
<rect x="265.54" y="257.82" width="5.62" height="5.79" fill="#f8e6bc"/>
<rect x="271.01" y="257.82" width="5.62" height="5.79" fill="#d8433c"/>
<rect x="276.48" y="257.82" width="5.62" height="5.79" fill="#f8e6bc"/>
<rect x="281.95" y="257.82" width="5.62" height="5.79" fill="#5d9e57"/>
<rect x="287.42" y="257.82" width="5.62" height="5.79" fill="#d8433c"/>
<rect x="292.89" y="257.82" width="5.62" height="5.79" fill="#d8433c"/>
<rect x="298.36" y="257.82" width="5.62" height="5.79" fill="#f8e6bc"/>
<rect x="303.83" y="257.82" width="5.62" height="5.79" fill="#d8433c"/>
<rect x="309.30" y="257.82" width="5.62" height="5.79" fill="#d8433c"/>
<rect x="314.77" y="257.82" width="5.62" height="5.79" fill="#5d9e57"/>
<rect x="320.24" y="257.82" width="5.62" height="5.79" fill="#5d9e57"/>
<rect x="325.71" y="257.82" width="5.62" height="5.79" fill="#5d9e57"/>
<rect x="331.18" y="257.82" width="5.62" height="5.79" fill="#5d9e57"/>
<rect x="336.65" y="257.82" width="5.62" height="5.79" fill="#d8433c"/>
<rect x="342.12" y="257.82" width="5.62" height="5.79" fill="#f8e6bc"/>
<rect x="347.59" y="257.82" width="5.62" height="5.79" fill="#d8433c"/>
<rect x="254.60" y="263.46" width="5.62" height="5.79" fill="#f8e6bc"/>
<rect x="260.07" y="263.46" width="5.62" height="5.79" fill="#5d9e57"/>
<rect x="265.54" y="263.46" width="5.62" height="5.79" fill="#d8433c"/>
<rect x="271.01" y="263.46" width="5.62" height="5.79" fill="#f8e6bc"/>
<rect x="276.48" y="263.46" width="5.62" height="5.79" fill="#f8e6bc"/>
<rect x="281.95" y="263.46" width="5.62" height="5.79" fill="#d8433c"/>
<rect x="287.42" y="263.46" width="5.62" height="5.79" fill="#d8433c"/>
<rect x="292.89" y="263.46" width="5.62" height="5.79" fill="#d8433c"/>
<rect x="298.36" y="263.46" width="5.62" height="5.79" fill="#d8433c"/>
<rect x="303.83" y="263.46" width="5.62" height="5.79" fill="#d8433c"/>
<rect x="309.30" y="263.46" width="5.62" height="5.79" fill="#d8433c"/>
<rect x="314.77" y="263.46" width="5.62" height="5.79" fill="#5d9e57"/>
<rect x="320.24" y="263.46" width="5.62" height="5.79" fill="#5d9e57"/>
<rect x="325.71" y="263.46" width="5.62" height="5.79" fill="#5d9e57"/>
<rect x="331.18" y="263.46" width="5.62" height="5.79" fill="#f8e6bc"/>
<rect x="336.65" y="263.46" width="5.62" height="5.79" fill="#d8433c"/>
<rect x="342.12" y="263.46" width="5.62" height="5.79" fill="#f8e6bc"/>
<rect x="347.59" y="263.46" width="5.62" height="5.79" fill="#5d9e57"/>
<rect x="254.60" y="269.10" width="5.62" height="5.79" fill="#d8433c"/>
<rect x="260.07" y="269.10" width="5.62" height="5.79" fill="#d8433c"/>
<rect x="265.54" y="269.10" width="5.62" height="5.79" fill="#f8e6bc"/>
<rect x="271.01" y="269.10" width="5.62" height="5.79" fill="#5d9e57"/>
<rect x="276.48" y="269.10" width="5.62" height="5.79" fill="#f8e6bc"/>
<rect x="281.95" y="269.10" width="5.62" height="5.79" fill="#5d9e57"/>
<rect x="287.42" y="269.10" width="5.62" height="5.79" fill="#d8433c"/>
<rect x="292.89" y="269.10" width="5.62" height="5.79" fill="#d8433c"/>
<rect x="298.36" y="269.10" width="5.62" height="5.79" fill="#5d9e57"/>
<rect x="303.83" y="269.10" width="5.62" height="5.79" fill="#d8433c"/>
<rect x="309.30" y="269.10" width="5.62" height="5.79" fill="#f8e6bc"/>
<rect x="314.77" y="269.10" width="5.62" height="5.79" fill="#f8e6bc"/>
<rect x="320.24" y="269.10" width="5.62" height="5.79" fill="#f8e6bc"/>
<rect x="325.71" y="269.10" width="5.62" height="5.79" fill="#d8433c"/>
<rect x="331.18" y="269.10" width="5.62" height="5.79" fill="#d8433c"/>
<rect x="336.65" y="269.10" width="5.62" height="5.79" fill="#d8433c"/>
<rect x="342.12" y="269.10" width="5.62" height="5.79" fill="#5d9e57"/>
<rect x="347.59" y="269.10" width="5.62" height="5.79" fill="#f8e6bc"/>
<rect x="254.60" y="274.74" width="5.62" height="5.79" fill="#d8433c"/>
<rect x="260.07" y="274.74" width="5.62" height="5.79" fill="#d8433c"/>
<rect x="265.54" y="274.74" width="5.62" height="5.79" fill="#5d9e57"/>
<rect x="271.01" y="274.74" width="5.62" height="5.79" fill="#5d9e57"/>
<rect x="276.48" y="274.74" width="5.62" height="5.79" fill="#5d9e57"/>
<rect x="281.95" y="274.74" width="5.62" height="5.79" fill="#5d9e57"/>
<rect x="287.42" y="274.74" width="5.62" height="5.79" fill="#d8433c"/>
<rect x="292.89" y="274.74" width="5.62" height="5.79" fill="#d8433c"/>
<rect x="298.36" y="274.74" width="5.62" height="5.79" fill="#5d9e57"/>
<rect x="303.83" y="274.74" width="5.62" height="5.79" fill="#f8e6bc"/>
<rect x="309.30" y="274.74" width="5.62" height="5.79" fill="#f8e6bc"/>
<rect x="314.77" y="274.74" width="5.62" height="5.79" fill="#5d9e57"/>
<rect x="320.24" y="274.74" width="5.62" height="5.79" fill="#d8433c"/>
<rect x="325.71" y="274.74" width="5.62" height="5.79" fill="#5d9e57"/>
<rect x="331.18" y="274.74" width="5.62" height="5.79" fill="#f8e6bc"/>
<rect x="336.65" y="274.74" width="5.62" height="5.79" fill="#5d9e57"/>
<rect x="342.12" y="274.74" width="5.62" height="5.79" fill="#5d9e57"/>
<rect x="347.59" y="274.74" width="5.62" height="5.79" fill="#f8e6bc"/>
<rect x="254.60" y="280.38" width="5.62" height="5.79" fill="#d8433c"/>
<rect x="260.07" y="280.38" width="5.62" height="5.79" fill="#d8433c"/>
<rect x="265.54" y="280.38" width="5.62" height="5.79" fill="#5d9e57"/>
<rect x="271.01" y="280.38" width="5.62" height="5.79" fill="#5d9e57"/>
<rect x="276.48" y="280.38" width="5.62" height="5.79" fill="#5d9e57"/>
<rect x="281.95" y="280.38" width="5.62" height="5.79" fill="#d8433c"/>
<rect x="287.42" y="280.38" width="5.62" height="5.79" fill="#5d9e57"/>
<rect x="292.89" y="280.38" width="5.62" height="5.79" fill="#f8e6bc"/>
<rect x="298.36" y="280.38" width="5.62" height="5.79" fill="#d8433c"/>
<rect x="303.83" y="280.38" width="5.62" height="5.79" fill="#f8e6bc"/>
<rect x="309.30" y="280.38" width="5.62" height="5.79" fill="#5d9e57"/>
<rect x="314.77" y="280.38" width="5.62" height="5.79" fill="#5d9e57"/>
<rect x="320.24" y="280.38" width="5.62" height="5.79" fill="#d8433c"/>
<rect x="325.71" y="280.38" width="5.62" height="5.79" fill="#d8433c"/>
<rect x="331.18" y="280.38" width="5.62" height="5.79" fill="#f8e6bc"/>
<rect x="336.65" y="280.38" width="5.62" height="5.79" fill="#f8e6bc"/>
<rect x="342.12" y="280.38" width="5.62" height="5.79" fill="#5d9e57"/>
<rect x="347.59" y="280.38" width="5.62" height="5.79" fill="#f8e6bc"/>
<rect x="254.60" y="286.02" width="5.62" height="5.79" fill="#f8e6bc"/>
<rect x="260.07" y="286.02" width="5.62" height="5.79" fill="#f8e6bc"/>
<rect x="265.54" y="286.02" width="5.62" height="5.79" fill="#f8e6bc"/>
<rect x="271.01" y="286.02" width="5.62" height="5.79" fill="#f8e6bc"/>
<rect x="276.48" y="286.02" width="5.62" height="5.79" fill="#f8e6bc"/>
<rect x="281.95" y="286.02" width="5.62" height="5.79" fill="#d8433c"/>
<rect x="287.42" y="286.02" width="5.62" height="5.79" fill="#f8e6bc"/>
<rect x="292.89" y="286.02" width="5.62" height="5.79" fill="#f8e6bc"/>
<rect x="298.36" y="286.02" width="5.62" height="5.79" fill="#d8433c"/>
<rect x="303.83" y="286.02" width="5.62" height="5.79" fill="#d8433c"/>
<rect x="309.30" y="286.02" width="5.62" height="5.79" fill="#d8433c"/>
<rect x="314.77" y="286.02" width="5.62" height="5.79" fill="#f8e6bc"/>
<rect x="320.24" y="286.02" width="5.62" height="5.79" fill="#f8e6bc"/>
<rect x="325.71" y="286.02" width="5.62" height="5.79" fill="#d8433c"/>
<rect x="331.18" y="286.02" width="5.62" height="5.79" fill="#f8e6bc"/>
<rect x="336.65" y="286.02" width="5.62" height="5.79" fill="#f8e6bc"/>
<rect x="342.12" y="286.02" width="5.62" height="5.79" fill="#5d9e57"/>
<rect x="347.59" y="286.02" width="5.62" height="5.79" fill="#f8e6bc"/>
<rect x="353.06" y="286.02" width="5.62" height="5.79" fill="#f8e6bc"/>
<rect x="254.60" y="291.66" width="5.62" height="5.79" fill="#5d9e57"/>
<rect x="260.07" y="291.66" width="5.62" height="5.79" fill="#f8e6bc"/>
<rect x="265.54" y="291.66" width="5.62" height="5.79" fill="#f8e6bc"/>
<rect x="271.01" y="291.66" width="5.62" height="5.79" fill="#f8e6bc"/>
<rect x="276.48" y="291.66" width="5.62" height="5.79" fill="#f8e6bc"/>
<rect x="281.95" y="291.66" width="5.62" height="5.79" fill="#5d9e57"/>
<rect x="287.42" y="291.66" width="5.62" height="5.79" fill="#5d9e57"/>
<rect x="292.89" y="291.66" width="5.62" height="5.79" fill="#f8e6bc"/>
<rect x="298.36" y="291.66" width="5.62" height="5.79" fill="#d8433c"/>
<rect x="303.83" y="291.66" width="5.62" height="5.79" fill="#d8433c"/>
<rect x="309.30" y="291.66" width="5.62" height="5.79" fill="#d8433c"/>
<rect x="314.77" y="291.66" width="5.62" height="5.79" fill="#d8433c"/>
<rect x="320.24" y="291.66" width="5.62" height="5.79" fill="#d8433c"/>
<rect x="325.71" y="291.66" width="5.62" height="5.79" fill="#d8433c"/>
<rect x="331.18" y="291.66" width="5.62" height="5.79" fill="#d8433c"/>
<rect x="336.65" y="291.66" width="5.62" height="5.79" fill="#d8433c"/>
<rect x="342.12" y="291.66" width="5.62" height="5.79" fill="#5d9e57"/>
<rect x="347.59" y="291.66" width="5.62" height="5.79" fill="#f8e6bc"/>
<rect x="353.06" y="291.66" width="5.62" height="5.79" fill="#f8e6bc"/>
<rect x="254.60" y="297.30" width="5.62" height="5.79" fill="#5d9e57"/>
<rect x="260.07" y="297.30" width="5.62" height="5.79" fill="#f8e6bc"/>
<rect x="265.54" y="297.30" width="5.62" height="5.79" fill="#f8e6bc"/>
<rect x="271.01" y="297.30" width="5.62" height="5.79" fill="#f8e6bc"/>
<rect x="276.48" y="297.30" width="5.62" height="5.79" fill="#f8e6bc"/>
<rect x="281.95" y="297.30" width="5.62" height="5.79" fill="#f8e6bc"/>
<rect x="287.42" y="297.30" width="5.62" height="5.79" fill="#5d9e57"/>
<rect x="292.89" y="297.30" width="5.62" height="5.79" fill="#5d9e57"/>
<rect x="298.36" y="297.30" width="5.62" height="5.79" fill="#f8e6bc"/>
<rect x="303.83" y="297.30" width="5.62" height="5.79" fill="#d8433c"/>
<rect x="309.30" y="297.30" width="5.62" height="5.79" fill="#f8e6bc"/>
<rect x="314.77" y="297.30" width="5.62" height="5.79" fill="#f8e6bc"/>
<rect x="320.24" y="297.30" width="5.62" height="5.79" fill="#f8e6bc"/>
<rect x="325.71" y="297.30" width="5.62" height="5.79" fill="#5d9e57"/>
<rect x="331.18" y="297.30" width="5.62" height="5.79" fill="#d8433c"/>
<rect x="336.65" y="297.30" width="5.62" height="5.79" fill="#d8433c"/>
<rect x="342.12" y="297.30" width="5.62" height="5.79" fill="#5d9e57"/>
<rect x="347.59" y="297.30" width="5.62" height="5.79" fill="#d8433c"/>
<rect x="353.06" y="297.30" width="5.62" height="5.79" fill="#f8e6bc"/>
<rect x="265.54" y="302.94" width="5.62" height="5.79" fill="#f8e6bc"/>
<rect x="271.01" y="302.94" width="5.62" height="5.79" fill="#f8e6bc"/>
<rect x="276.48" y="302.94" width="5.62" height="5.79" fill="#f8e6bc"/>
<rect x="281.95" y="302.94" width="5.62" height="5.79" fill="#f8e6bc"/>
<rect x="287.42" y="302.94" width="5.62" height="5.79" fill="#5d9e57"/>
<rect x="292.89" y="302.94" width="5.62" height="5.79" fill="#d8433c"/>
<rect x="298.36" y="302.94" width="5.62" height="5.79" fill="#d8433c"/>
<rect x="303.83" y="302.94" width="5.62" height="5.79" fill="#5d9e57"/>
<rect x="309.30" y="302.94" width="5.62" height="5.79" fill="#f8e6bc"/>
<rect x="314.77" y="302.94" width="5.62" height="5.79" fill="#f8e6bc"/>
<rect x="320.24" y="302.94" width="5.62" height="5.79" fill="#5d9e57"/>
<rect x="325.71" y="302.94" width="5.62" height="5.79" fill="#f8e6bc"/>
<rect x="331.18" y="302.94" width="5.62" height="5.79" fill="#d8433c"/>
<rect x="336.65" y="302.94" width="5.62" height="5.79" fill="#d8433c"/>
<rect x="342.12" y="302.94" width="5.62" height="5.79" fill="#d8433c"/>
<rect x="271.01" y="308.58" width="5.62" height="5.79" fill="#f8e6bc"/>
<rect x="276.48" y="308.58" width="5.62" height="5.79" fill="#f8e6bc"/>
<rect x="281.95" y="308.58" width="5.62" height="5.79" fill="#5d9e57"/>
<rect x="287.42" y="308.58" width="5.62" height="5.79" fill="#5d9e57"/>
<rect x="292.89" y="308.58" width="5.62" height="5.79" fill="#5d9e57"/>
<rect x="298.36" y="308.58" width="5.62" height="5.79" fill="#d8433c"/>
<rect x="303.83" y="308.58" width="5.62" height="5.79" fill="#d8433c"/>
<rect x="309.30" y="308.58" width="5.62" height="5.79" fill="#5d9e57"/>
<rect x="314.77" y="308.58" width="5.62" height="5.79" fill="#5d9e57"/>
<rect x="320.24" y="308.58" width="5.62" height="5.79" fill="#f8e6bc"/>
<rect x="325.71" y="308.58" width="5.62" height="5.79" fill="#d8433c"/>
<rect x="331.18" y="308.58" width="5.62" height="5.79" fill="#d8433c"/>
<rect x="336.65" y="308.58" width="5.62" height="5.79" fill="#d8433c"/>
<rect x="342.12" y="308.58" width="5.62" height="5.79" fill="#5d9e57"/>
<rect x="271.01" y="314.22" width="5.62" height="5.79" fill="#f8e6bc"/>
<rect x="276.48" y="314.22" width="5.62" height="5.79" fill="#f8e6bc"/>
<rect x="281.95" y="314.22" width="5.62" height="5.79" fill="#f8e6bc"/>
<rect x="287.42" y="314.22" width="5.62" height="5.79" fill="#f8e6bc"/>
<rect x="292.89" y="314.22" width="5.62" height="5.79" fill="#f8e6bc"/>
<rect x="298.36" y="314.22" width="5.62" height="5.79" fill="#5d9e57"/>
<rect x="303.83" y="314.22" width="5.62" height="5.79" fill="#d8433c"/>
<rect x="309.30" y="314.22" width="5.62" height="5.79" fill="#f8e6bc"/>
<rect x="314.77" y="314.22" width="5.62" height="5.79" fill="#d8433c"/>
<rect x="320.24" y="314.22" width="5.62" height="5.79" fill="#d8433c"/>
<rect x="325.71" y="314.22" width="5.62" height="5.79" fill="#d8433c"/>
<rect x="271.01" y="319.86" width="5.62" height="5.79" fill="#f8e6bc"/>
<rect x="276.48" y="319.86" width="5.62" height="5.79" fill="#f8e6bc"/>
<rect x="281.95" y="319.86" width="5.62" height="5.79" fill="#5d9e57"/>
<rect x="287.42" y="319.86" width="5.62" height="5.79" fill="#5d9e57"/>
<rect x="292.89" y="319.86" width="5.62" height="5.79" fill="#f8e6bc"/>
<rect x="298.36" y="319.86" width="5.62" height="5.79" fill="#f8e6bc"/>
<rect x="303.83" y="319.86" width="5.62" height="5.79" fill="#5d9e57"/>
<rect x="309.30" y="319.86" width="5.62" height="5.79" fill="#d8433c"/>
<rect x="314.77" y="319.86" width="5.62" height="5.79" fill="#d8433c"/>
<rect x="281.95" y="325.50" width="5.62" height="5.79" fill="#5d9e57"/>
<rect x="287.42" y="325.50" width="5.62" height="5.79" fill="#5d9e57"/>
<rect x="292.89" y="325.50" width="5.62" height="5.79" fill="#5d9e57"/>
<rect x="298.36" y="325.50" width="5.62" height="5.79" fill="#f8e6bc"/>
<rect x="303.83" y="325.50" width="5.62" height="5.79" fill="#5d9e57"/>
<rect x="309.30" y="325.50" width="5.62" height="5.79" fill="#d8433c"/>
</g>
<g clip-path="url(#cAR)">
<rect x="346.00" y="213.00" width="5.15" height="5.15" fill="#f1936c"/>
<rect x="351.00" y="213.00" width="5.15" height="5.15" fill="#86c660"/>
<rect x="356.00" y="213.00" width="5.15" height="5.15" fill="#86c660"/>
<rect x="361.00" y="213.00" width="5.15" height="5.15" fill="#f1936c"/>
<rect x="366.00" y="213.00" width="5.15" height="5.15" fill="#86c660"/>
<rect x="371.00" y="213.00" width="5.15" height="5.15" fill="#f1936c"/>
<rect x="376.00" y="213.00" width="5.15" height="5.15" fill="#86c660"/>
<rect x="381.00" y="213.00" width="5.15" height="5.15" fill="#86c660"/>
<rect x="386.00" y="213.00" width="5.15" height="5.15" fill="#f1936c"/>
<rect x="391.00" y="213.00" width="5.15" height="5.15" fill="#86c660"/>
<rect x="346.00" y="218.00" width="5.15" height="5.15" fill="#f8e6bc"/>
<rect x="351.00" y="218.00" width="5.15" height="5.15" fill="#86c660"/>
<rect x="356.00" y="218.00" width="5.15" height="5.15" fill="#86c660"/>
<rect x="361.00" y="218.00" width="5.15" height="5.15" fill="#f1936c"/>
<rect x="366.00" y="218.00" width="5.15" height="5.15" fill="#f1936c"/>
<rect x="371.00" y="218.00" width="5.15" height="5.15" fill="#f1936c"/>
<rect x="376.00" y="218.00" width="5.15" height="5.15" fill="#f1936c"/>
<rect x="381.00" y="218.00" width="5.15" height="5.15" fill="#86c660"/>
<rect x="386.00" y="218.00" width="5.15" height="5.15" fill="#f8e6bc"/>
<rect x="391.00" y="218.00" width="5.15" height="5.15" fill="#f1936c"/>
<rect x="346.00" y="223.00" width="5.15" height="5.15" fill="#f1936c"/>
<rect x="351.00" y="223.00" width="5.15" height="5.15" fill="#f1936c"/>
<rect x="356.00" y="223.00" width="5.15" height="5.15" fill="#86c660"/>
<rect x="361.00" y="223.00" width="5.15" height="5.15" fill="#86c660"/>
<rect x="366.00" y="223.00" width="5.15" height="5.15" fill="#f1936c"/>
<rect x="371.00" y="223.00" width="5.15" height="5.15" fill="#f1936c"/>
<rect x="376.00" y="223.00" width="5.15" height="5.15" fill="#f1936c"/>
<rect x="381.00" y="223.00" width="5.15" height="5.15" fill="#f8e6bc"/>
<rect x="386.00" y="223.00" width="5.15" height="5.15" fill="#86c660"/>
<rect x="391.00" y="223.00" width="5.15" height="5.15" fill="#f1936c"/>
<rect x="346.00" y="228.00" width="5.15" height="5.15" fill="#f8e6bc"/>
<rect x="351.00" y="228.00" width="5.15" height="5.15" fill="#86c660"/>
<rect x="356.00" y="228.00" width="5.15" height="5.15" fill="#f8e6bc"/>
<rect x="361.00" y="228.00" width="5.15" height="5.15" fill="#f1936c"/>
<rect x="366.00" y="228.00" width="5.15" height="5.15" fill="#86c660"/>
<rect x="371.00" y="228.00" width="5.15" height="5.15" fill="#86c660"/>
<rect x="376.00" y="228.00" width="5.15" height="5.15" fill="#f1936c"/>
<rect x="381.00" y="228.00" width="5.15" height="5.15" fill="#f1936c"/>
<rect x="386.00" y="228.00" width="5.15" height="5.15" fill="#86c660"/>
<rect x="391.00" y="228.00" width="5.15" height="5.15" fill="#f8e6bc"/>
<rect x="346.00" y="233.00" width="5.15" height="5.15" fill="#86c660"/>
<rect x="351.00" y="233.00" width="5.15" height="5.15" fill="#86c660"/>
<rect x="356.00" y="233.00" width="5.15" height="5.15" fill="#f8e6bc"/>
<rect x="361.00" y="233.00" width="5.15" height="5.15" fill="#f1936c"/>
<rect x="366.00" y="233.00" width="5.15" height="5.15" fill="#86c660"/>
<rect x="371.00" y="233.00" width="5.15" height="5.15" fill="#86c660"/>
<rect x="376.00" y="233.00" width="5.15" height="5.15" fill="#f1936c"/>
<rect x="381.00" y="233.00" width="5.15" height="5.15" fill="#86c660"/>
<rect x="386.00" y="233.00" width="5.15" height="5.15" fill="#86c660"/>
<rect x="346.00" y="238.00" width="5.15" height="5.15" fill="#f1936c"/>
<rect x="351.00" y="238.00" width="5.15" height="5.15" fill="#f1936c"/>
<rect x="356.00" y="238.00" width="5.15" height="5.15" fill="#f8e6bc"/>
<rect x="361.00" y="238.00" width="5.15" height="5.15" fill="#f1936c"/>
<rect x="366.00" y="238.00" width="5.15" height="5.15" fill="#f1936c"/>
<rect x="371.00" y="238.00" width="5.15" height="5.15" fill="#f1936c"/>
<rect x="376.00" y="238.00" width="5.15" height="5.15" fill="#f1936c"/>
<rect x="381.00" y="238.00" width="5.15" height="5.15" fill="#f8e6bc"/>
<rect x="386.00" y="238.00" width="5.15" height="5.15" fill="#f1936c"/>
<rect x="346.00" y="243.00" width="5.15" height="5.15" fill="#86c660"/>
<rect x="351.00" y="243.00" width="5.15" height="5.15" fill="#86c660"/>
<rect x="356.00" y="243.00" width="5.15" height="5.15" fill="#f1936c"/>
<rect x="361.00" y="243.00" width="5.15" height="5.15" fill="#f1936c"/>
<rect x="366.00" y="243.00" width="5.15" height="5.15" fill="#f1936c"/>
<rect x="371.00" y="243.00" width="5.15" height="5.15" fill="#f8e6bc"/>
<rect x="376.00" y="243.00" width="5.15" height="5.15" fill="#86c660"/>
<rect x="381.00" y="243.00" width="5.15" height="5.15" fill="#f8e6bc"/>
<rect x="346.00" y="248.00" width="5.15" height="5.15" fill="#f1936c"/>
<rect x="351.00" y="248.00" width="5.15" height="5.15" fill="#f1936c"/>
<rect x="356.00" y="248.00" width="5.15" height="5.15" fill="#f1936c"/>
<rect x="361.00" y="248.00" width="5.15" height="5.15" fill="#d8433c"/>
<rect x="366.00" y="248.00" width="5.15" height="5.15" fill="#f1936c"/>
<rect x="371.00" y="248.00" width="5.15" height="5.15" fill="#f1936c"/>
<rect x="376.00" y="248.00" width="5.15" height="5.15" fill="#f1936c"/>
<rect x="381.00" y="248.00" width="5.15" height="5.15" fill="#f8e6bc"/>
<rect x="346.00" y="253.00" width="5.15" height="5.15" fill="#f8e6bc"/>
<rect x="351.00" y="253.00" width="5.15" height="5.15" fill="#f1936c"/>
<rect x="356.00" y="253.00" width="5.15" height="5.15" fill="#f8e6bc"/>
<rect x="361.00" y="253.00" width="5.15" height="5.15" fill="#d8433c"/>
<rect x="366.00" y="253.00" width="5.15" height="5.15" fill="#d8433c"/>
<rect x="371.00" y="253.00" width="5.15" height="5.15" fill="#86c660"/>
<rect x="376.00" y="253.00" width="5.15" height="5.15" fill="#86c660"/>
<rect x="381.00" y="253.00" width="5.15" height="5.15" fill="#f8e6bc"/>
<rect x="346.00" y="258.00" width="5.15" height="5.15" fill="#d8433c"/>
<rect x="351.00" y="258.00" width="5.15" height="5.15" fill="#f1936c"/>
<rect x="356.00" y="258.00" width="5.15" height="5.15" fill="#f1936c"/>
<rect x="361.00" y="258.00" width="5.15" height="5.15" fill="#d8433c"/>
<rect x="366.00" y="258.00" width="5.15" height="5.15" fill="#f1936c"/>
<rect x="371.00" y="258.00" width="5.15" height="5.15" fill="#86c660"/>
<rect x="376.00" y="258.00" width="5.15" height="5.15" fill="#86c660"/>
<rect x="381.00" y="258.00" width="5.15" height="5.15" fill="#f8e6bc"/>
</g>
<g clip-path="url(#cOH)">
<rect x="442.00" y="135.00" width="5.15" height="5.15" fill="#86c660"/>
<rect x="447.00" y="135.00" width="5.15" height="5.15" fill="#f1936c"/>
<rect x="452.00" y="135.00" width="5.15" height="5.15" fill="#f1936c"/>
<rect x="457.00" y="135.00" width="5.15" height="5.15" fill="#f8e6bc"/>
<rect x="462.00" y="135.00" width="5.15" height="5.15" fill="#f8e6bc"/>
<rect x="467.00" y="135.00" width="5.15" height="5.15" fill="#86c660"/>
<rect x="472.00" y="135.00" width="5.15" height="5.15" fill="#f8e6bc"/>
<rect x="477.00" y="135.00" width="5.15" height="5.15" fill="#f8e6bc"/>
<rect x="482.00" y="135.00" width="5.15" height="5.15" fill="#f1936c"/>
<rect x="442.00" y="140.00" width="5.15" height="5.15" fill="#f1936c"/>
<rect x="447.00" y="140.00" width="5.15" height="5.15" fill="#f1936c"/>
<rect x="452.00" y="140.00" width="5.15" height="5.15" fill="#f1936c"/>
<rect x="457.00" y="140.00" width="5.15" height="5.15" fill="#f8e6bc"/>
<rect x="462.00" y="140.00" width="5.15" height="5.15" fill="#f8e6bc"/>
<rect x="467.00" y="140.00" width="5.15" height="5.15" fill="#f1936c"/>
<rect x="472.00" y="140.00" width="5.15" height="5.15" fill="#f1936c"/>
<rect x="477.00" y="140.00" width="5.15" height="5.15" fill="#f8e6bc"/>
<rect x="482.00" y="140.00" width="5.15" height="5.15" fill="#f8e6bc"/>
<rect x="442.00" y="145.00" width="5.15" height="5.15" fill="#86c660"/>
<rect x="447.00" y="145.00" width="5.15" height="5.15" fill="#f8e6bc"/>
<rect x="452.00" y="145.00" width="5.15" height="5.15" fill="#f1936c"/>
<rect x="457.00" y="145.00" width="5.15" height="5.15" fill="#f1936c"/>
<rect x="462.00" y="145.00" width="5.15" height="5.15" fill="#f1936c"/>
<rect x="467.00" y="145.00" width="5.15" height="5.15" fill="#f8e6bc"/>
<rect x="472.00" y="145.00" width="5.15" height="5.15" fill="#f1936c"/>
<rect x="477.00" y="145.00" width="5.15" height="5.15" fill="#f1936c"/>
<rect x="482.00" y="145.00" width="5.15" height="5.15" fill="#f8e6bc"/>
<rect x="442.00" y="150.00" width="5.15" height="5.15" fill="#86c660"/>
<rect x="447.00" y="150.00" width="5.15" height="5.15" fill="#f8e6bc"/>
<rect x="452.00" y="150.00" width="5.15" height="5.15" fill="#f1936c"/>
<rect x="457.00" y="150.00" width="5.15" height="5.15" fill="#f1936c"/>
<rect x="462.00" y="150.00" width="5.15" height="5.15" fill="#f8e6bc"/>
<rect x="467.00" y="150.00" width="5.15" height="5.15" fill="#f1936c"/>
<rect x="472.00" y="150.00" width="5.15" height="5.15" fill="#f1936c"/>
<rect x="477.00" y="150.00" width="5.15" height="5.15" fill="#f8e6bc"/>
<rect x="482.00" y="150.00" width="5.15" height="5.15" fill="#f8e6bc"/>
<rect x="442.00" y="155.00" width="5.15" height="5.15" fill="#f1936c"/>
<rect x="447.00" y="155.00" width="5.15" height="5.15" fill="#f8e6bc"/>
<rect x="452.00" y="155.00" width="5.15" height="5.15" fill="#f8e6bc"/>
<rect x="457.00" y="155.00" width="5.15" height="5.15" fill="#f1936c"/>
<rect x="462.00" y="155.00" width="5.15" height="5.15" fill="#f1936c"/>
<rect x="467.00" y="155.00" width="5.15" height="5.15" fill="#f1936c"/>
<rect x="472.00" y="155.00" width="5.15" height="5.15" fill="#f1936c"/>
<rect x="477.00" y="155.00" width="5.15" height="5.15" fill="#f8e6bc"/>
<rect x="482.00" y="155.00" width="5.15" height="5.15" fill="#f8e6bc"/>
<rect x="442.00" y="160.00" width="5.15" height="5.15" fill="#f8e6bc"/>
<rect x="447.00" y="160.00" width="5.15" height="5.15" fill="#f1936c"/>
<rect x="452.00" y="160.00" width="5.15" height="5.15" fill="#f1936c"/>
<rect x="457.00" y="160.00" width="5.15" height="5.15" fill="#f1936c"/>
<rect x="462.00" y="160.00" width="5.15" height="5.15" fill="#f1936c"/>
<rect x="467.00" y="160.00" width="5.15" height="5.15" fill="#f1936c"/>
<rect x="472.00" y="160.00" width="5.15" height="5.15" fill="#f8e6bc"/>
<rect x="477.00" y="160.00" width="5.15" height="5.15" fill="#f1936c"/>
<rect x="482.00" y="160.00" width="5.15" height="5.15" fill="#f1936c"/>
<rect x="442.00" y="165.00" width="5.15" height="5.15" fill="#f1936c"/>
<rect x="447.00" y="165.00" width="5.15" height="5.15" fill="#f8e6bc"/>
<rect x="452.00" y="165.00" width="5.15" height="5.15" fill="#f1936c"/>
<rect x="457.00" y="165.00" width="5.15" height="5.15" fill="#f1936c"/>
<rect x="462.00" y="165.00" width="5.15" height="5.15" fill="#f1936c"/>
<rect x="467.00" y="165.00" width="5.15" height="5.15" fill="#f8e6bc"/>
<rect x="472.00" y="165.00" width="5.15" height="5.15" fill="#f8e6bc"/>
<rect x="477.00" y="165.00" width="5.15" height="5.15" fill="#f1936c"/>
<rect x="482.00" y="165.00" width="5.15" height="5.15" fill="#f1936c"/>
<rect x="442.00" y="170.00" width="5.15" height="5.15" fill="#f1936c"/>
<rect x="447.00" y="170.00" width="5.15" height="5.15" fill="#f8e6bc"/>
<rect x="452.00" y="170.00" width="5.15" height="5.15" fill="#f1936c"/>
<rect x="457.00" y="170.00" width="5.15" height="5.15" fill="#f1936c"/>
<rect x="462.00" y="170.00" width="5.15" height="5.15" fill="#86c660"/>
<rect x="467.00" y="170.00" width="5.15" height="5.15" fill="#f1936c"/>
<rect x="472.00" y="170.00" width="5.15" height="5.15" fill="#86c660"/>
<rect x="477.00" y="170.00" width="5.15" height="5.15" fill="#f8e6bc"/>
<rect x="482.00" y="170.00" width="5.15" height="5.15" fill="#86c660"/>
<rect x="442.00" y="175.00" width="5.15" height="5.15" fill="#f1936c"/>
<rect x="447.00" y="175.00" width="5.15" height="5.15" fill="#f1936c"/>
<rect x="452.00" y="175.00" width="5.15" height="5.15" fill="#f1936c"/>
<rect x="457.00" y="175.00" width="5.15" height="5.15" fill="#f1936c"/>
<rect x="462.00" y="175.00" width="5.15" height="5.15" fill="#f1936c"/>
<rect x="467.00" y="175.00" width="5.15" height="5.15" fill="#f1936c"/>
<rect x="472.00" y="175.00" width="5.15" height="5.15" fill="#f1936c"/>
<rect x="477.00" y="175.00" width="5.15" height="5.15" fill="#f1936c"/>
<rect x="482.00" y="175.00" width="5.15" height="5.15" fill="#f1936c"/>
</g>
<rect x="0" y="0" width="252" height="360" fill="url(#pw)"/><rect x="252" y="0" width="373" height="360" fill="url(#pe)"/></g></g>
<g fill="none" stroke="#fffcf0" stroke-opacity="0.9" stroke-width="0.85" stroke-linejoin="round"><path d="M95.6,12.2 145.0,24.9 137.4,58.4 137.2,64.1 118.5,59.7 115.4,59.9 108.4,60.8 102.5,59.2 97.1,59.5 92.0,56.9 87.4,57.7 83.2,55.1 83.9,52.2 83.6,48.9 81.0,47.0 78.4,45.3 74.0,43.7 75.7,39.6 76.0,35.5 76.3,31.4 76.5,24.5 75.5,20.0 76.4,15.0 81.8,19.6 89.3,22.8 93.1,22.5 95.1,19.0Z"/>
<path d="M74.0,43.7 78.4,45.3 81.0,47.0 83.6,48.9 83.9,52.2 83.2,55.1 87.4,57.7 92.0,56.9 97.1,59.5 102.5,59.2 108.4,60.8 115.4,59.9 118.5,59.7 137.2,64.1 140.2,70.2 136.6,76.3 134.0,79.2 129.6,85.7 132.0,88.3 129.7,92.7 124.4,116.3 55.8,98.1 56.8,88.6 55.9,86.3 61.4,80.1 64.7,72.7 67.5,65.1 71.9,53.8 74.0,47.5Z"/>
<path d="M55.8,98.1 95.9,109.4 85.7,148.7 129.2,214.1 129.0,216.8 130.1,222.5 132.7,224.8 128.7,227.8 126.7,232.9 124.2,235.1 122.9,240.4 125.3,242.9 122.2,244.1 95.3,241.0 95.0,235.8 94.3,231.5 91.8,227.4 89.2,224.1 86.1,222.4 85.6,219.8 84.4,217.7 81.7,217.4 77.9,214.4 74.4,210.0 65.6,207.0 64.8,203.4 65.9,197.3 64.3,192.7 61.0,188.3 57.0,178.8 58.1,174.9 60.0,171.9 58.3,170.0 55.2,165.6 55.3,161.4 56.4,157.5 52.1,153.5 53.2,149.6 48.8,139.1 49.9,131.7 50.8,127.0 49.3,123.0 47.7,119.7 52.5,112.7 54.9,104.9Z"/>
<path d="M95.9,109.4 153.2,122.3 138.4,199.4 137.0,201.2 131.3,199.4 129.8,204.6 130.3,211.6 129.2,214.1 85.7,148.7Z"/>
<path d="M145.0,24.9 153.5,26.7 150.7,40.0 152.2,47.9 155.3,50.9 160.1,60.0 159.7,68.8 158.0,75.3 162.9,74.9 163.2,83.1 166.1,85.7 169.3,91.8 171.1,92.8 175.0,92.8 183.6,92.9 187.8,94.2 182.5,127.5 124.4,116.3 129.7,92.7 132.0,88.3 129.6,85.7 134.0,79.2 136.6,76.3 140.2,70.2 137.2,64.1 137.4,58.4Z"/>
<path d="M153.5,26.7 259.1,42.5 254.6,95.6 188.8,87.6 187.8,94.2 183.6,92.9 175.0,92.8 171.1,92.8 169.3,91.8 166.1,85.7 163.2,83.1 162.9,74.9 158.0,75.3 159.7,68.8 160.1,60.0 155.3,50.9 152.2,47.9 150.7,40.0Z"/>
<path d="M188.8,87.6 254.6,95.6 250.0,149.3 180.3,140.8Z"/>
<path d="M153.2,122.3 182.5,127.5 180.3,140.8 200.2,143.8 192.8,197.4 140.5,188.7Z"/>
<path d="M200.2,143.8 270.0,150.8 266.6,204.8 192.8,197.4Z"/>
<path d="M140.5,188.7 192.8,197.4 182.3,273.2 159.5,269.8 120.5,246.8 122.2,244.1 125.3,242.9 122.9,240.4 124.2,235.1 126.7,232.9 128.7,227.8 132.7,224.8 130.1,222.5 129.0,216.8 129.2,214.1 130.3,211.6 129.8,204.6 131.3,199.4 137.0,201.2 138.4,199.4Z"/>
<path d="M192.8,197.4 256.5,204.1 255.5,210.8 251.0,271.4 210.8,267.7 211.8,270.8 192.7,268.5 191.9,274.5 182.3,273.2Z"/>
<path d="M259.1,42.5 319.7,45.4 320.4,52.1 322.9,64.1 323.3,77.4 325.4,86.2 255.6,83.1Z"/>
<path d="M255.6,83.1 325.4,86.2 326.4,94.8 326.3,119.0 324.8,125.7 326.3,132.5 323.8,130.4 318.9,127.7 313.1,127.6 306.3,125.4 252.3,122.4Z"/>
<path d="M252.3,122.4 306.3,125.4 313.1,127.6 318.9,127.7 323.8,130.4 326.3,132.5 329.7,139.2 331.7,146.0 332.2,152.7 333.2,158.1 337.8,166.2 269.2,164.3 270.0,150.8 250.0,149.3Z"/>
<path d="M269.2,164.3 337.8,166.2 341.9,172.3 345.1,177.7 345.3,206.7 266.6,204.8Z"/>
<path d="M256.5,204.1 345.3,206.7 347.7,228.4 347.5,252.1 336.2,249.0 325.1,250.1 317.4,249.4 309.1,248.5 303.1,245.7 295.5,244.1 290.1,241.2 286.9,238.9 288.0,212.7 255.5,210.8Z"/>
<path d="M255.5,210.8 288.0,212.7 286.9,238.9 290.1,241.2 295.5,244.1 303.1,245.7 309.1,248.5 317.4,249.4 325.1,250.1 336.2,249.0 347.5,252.1 352.4,253.3 352.6,260.7 352.8,274.2 355.7,280.8 358.7,287.5 357.2,296.9 355.7,305.0 348.2,307.8 344.7,310.6 340.1,314.6 340.0,313.7 332.5,316.4 324.3,320.5 318.8,326.0 316.1,331.5 315.4,338.3 315.4,345.1 316.1,354.7 312.5,356.3 312.4,355.9 306.4,353.8 300.4,351.6 293.2,347.4 288.9,333.9 284.3,329.8 279.8,322.9 276.2,312.0 272.3,308.4 267.9,302.6 257.6,300.5 252.8,302.5 250.0,309.1 246.8,311.8 242.9,309.2 237.3,306.1 231.8,302.2 229.9,296.7 227.4,287.0 221.1,281.0 214.8,274.9 211.8,270.8 210.8,267.7 251.0,271.4Z"/>
<path d="M319.7,45.4 338.2,45.5 338.2,40.4 341.3,41.5 343.2,49.4 350.4,51.9 357.5,50.4 366.6,53.4 375.7,54.9 384.8,55.7 389.4,56.8 382.4,60.5 371.9,69.8 366.6,74.7 364.8,76.8 365.1,83.4 360.7,90.3 361.4,97.0 361.1,101.7 366.0,105.5 369.9,108.7 374.9,112.6 376.9,117.9 326.3,119.0 326.4,94.8 325.4,86.2 323.3,77.4 322.9,64.1 320.4,52.1Z"/>
<path d="M326.3,119.0 376.9,117.9 378.4,124.5 378.1,127.9 383.2,131.0 388.4,136.1 388.2,140.2 384.4,144.5 380.7,148.7 379.9,154.2 377.0,160.0 374.0,157.2 333.2,158.1 332.2,152.7 331.7,146.0 329.7,139.2 326.3,132.5 324.8,125.7Z"/>
<path d="M333.2,158.1 374.0,157.2 377.0,160.0 376.9,165.2 381.9,173.0 386.3,176.9 390.5,179.3 390.8,183.4 389.6,188.9 394.5,192.6 399.0,196.4 399.2,200.4 403.2,204.2 403.0,208.3 400.0,211.2 399.2,215.4 398.3,218.1 391.1,218.6 393.1,211.7 345.4,213.5 345.1,177.7 341.9,172.3 337.8,166.2Z"/>
<path d="M345.4,213.5 393.1,211.7 391.1,218.6 398.3,218.1 395.5,225.1 393.8,232.0 390.8,237.6 386.9,245.9 385.0,252.8 384.8,259.5 352.6,260.7 352.4,253.3 347.5,252.1 347.7,228.4Z"/>
<path d="M352.6,260.7 384.8,259.5 384.6,266.3 387.2,272.9 380.9,284.0 380.6,286.7 402.4,285.5 404.6,296.1 406.6,296.6 404.0,299.2 406.6,300.5 409.1,305.6 411.7,310.6 409.0,309.4 404.0,306.9 400.2,310.0 396.3,309.4 391.2,310.7 386.0,308.9 378.4,305.6 375.8,303.7 365.6,305.0 356.6,304.3 355.7,305.0 357.2,296.9 358.7,287.5 355.7,280.8 352.8,274.2Z"/>
<path d="M384.8,259.5 385.0,252.8 386.9,245.9 390.8,237.6 393.8,232.0 415.5,230.4 416.7,231.7 415.9,272.4 418.3,292.4 412.5,292.8 409.1,294.0 406.6,296.6 404.6,296.1 402.4,285.5 380.6,286.7 380.9,284.0 387.2,272.9 384.6,266.3Z"/>
<path d="M415.5,230.4 443.6,227.7 454.3,263.2 454.5,274.0 456.4,280.6 426.7,283.6 428.7,292.9 423.0,294.0 422.5,288.0 421.7,292.1 418.3,292.4 415.9,272.4 416.7,231.7Z"/>
<path d="M443.6,227.7 470.7,224.4 474.8,230.6 481.2,236.5 486.6,242.6 492.0,248.6 498.3,259.9 497.3,268.2 496.7,275.1 496.7,279.2 491.2,281.4 489.0,282.1 458.4,284.4 456.4,280.6 454.5,274.0 454.3,263.2Z"/>
<path d="M426.7,283.6 456.4,280.6 458.4,284.4 489.0,282.1 491.2,281.4 496.7,279.2 499.3,288.3 502.6,294.6 507.1,300.6 511.7,306.7 513.9,313.1 520.8,325.4 522.5,331.9 523.5,341.2 521.1,349.0 515.2,351.3 512.9,352.0 510.9,347.3 504.0,342.9 500.6,336.7 496.3,332.0 490.4,324.8 487.1,318.5 487.2,310.4 485.1,303.9 481.0,300.4 473.0,293.4 468.1,291.3 465.0,294.4 458.5,299.2 453.8,298.4 450.9,293.3 442.4,290.2 434.4,291.7 428.7,292.9Z"/>
<path d="M393.8,232.0 394.5,226.5 398.3,218.1 399.2,215.4 400.0,211.2 415.4,210.1 482.5,200.8 480.3,208.0 474.1,210.3 469.3,214.3 463.2,217.9 457.4,223.4 457.5,226.1Z"/>
<path d="M400.0,211.2 403.0,208.3 403.2,204.2 410.0,202.4 413.8,196.6 415.5,192.4 418.5,190.8 424.8,190.2 430.0,189.7 435.1,187.8 436.7,184.0 440.2,177.7 446.3,175.7 448.8,171.3 454.5,174.7 459.9,176.0 464.9,174.7 469.6,178.1 470.0,180.8 474.0,187.0 477.8,188.7 472.8,193.4 467.1,198.3 461.6,203.8 415.4,210.1Z"/>
<path d="M461.6,203.8 543.7,190.3 541.4,186.0 538.0,185.3 536.6,178.7 534.2,172.3 527.2,169.5 524.6,161.8 519.8,158.6 517.2,157.5 511.4,158.8 510.6,156.9 507.1,163.8 505.6,166.8 503.5,172.7 499.1,172.1 497.2,179.3 495.2,186.5 490.2,188.7 484.7,190.9 481.3,192.8 477.8,188.7 472.8,193.4 467.1,198.3Z"/>
<path d="M547.1,171.2 546.4,177.5 545.5,185.5 543.2,189.2 541.2,187.5 541.3,180.0 541.0,171.6Z"/>
<path d="M469.6,178.1 473.3,174.8 476.6,168.9 479.0,164.4 481.9,162.6 484.3,158.1 485.6,153.8 485.3,145.6 486.1,144.9 488.1,157.2 498.5,155.4 499.8,162.4 504.0,158.2 510.1,154.3 515.7,153.9 517.2,157.5 511.4,158.8 510.6,156.9 507.1,163.8 505.6,166.8 503.5,172.7 499.1,172.1 497.2,179.3 495.2,186.5 490.2,188.7 484.7,190.9 481.3,192.8 477.8,188.7 474.0,187.0 470.0,180.8Z"/>
<path d="M498.5,155.4 535.5,148.2 539.1,165.0 546.7,163.3 547.6,166.5 547.1,171.2 541.0,171.6 538.5,167.2 533.5,164.1 530.9,156.4 531.0,161.9 533.4,168.3 535.2,172.0 527.2,169.5 524.6,161.8 519.8,158.6 517.2,157.5 515.7,153.9 510.1,154.3 504.0,158.2 499.8,162.4Z"/>
<path d="M535.5,148.2 539.2,146.3 539.1,150.5 540.9,154.2 547.5,158.5 546.7,163.3 539.1,165.0Z"/>
<path d="M488.1,157.2 535.5,148.2 539.2,146.3 541.6,143.0 544.5,139.6 539.8,135.1 538.9,131.1 541.5,124.3 537.3,121.8 533.3,117.1 490.5,125.5 489.9,122.0 483.1,127.1Z"/>
<path d="M490.5,125.5 533.3,117.1 537.3,121.8 541.5,124.3 550.4,127.1 550.3,131.3 552.6,132.1 564.5,125.7 570.0,121.2 564.0,123.7 553.6,127.7 552.8,126.6 553.3,122.2 550.9,112.4 550.9,102.8 547.9,91.6 546.2,86.5 543.0,73.3 530.6,76.4 525.6,80.2 521.8,85.2 518.9,89.9 519.9,99.3 515.7,103.0 508.2,105.1 499.4,105.2 494.4,107.5 495.2,112.4 496.8,112.8 489.9,122.0Z"/>
<path d="M541.5,124.3 550.4,127.1 550.3,131.3 551.1,134.6 551.8,136.5 551.8,142.0 551.0,147.8 548.8,151.7 546.2,156.8 542.9,153.8 539.1,150.5 538.5,147.8 541.6,143.0 544.5,139.6 539.8,135.1 538.9,131.1Z"/>
<path d="M550.9,112.4 567.3,108.7 569.7,117.7 563.1,120.2 558.5,122.3 552.8,126.6 553.3,122.2Z"/>
<path d="M567.3,108.7 571.3,107.6 574.2,111.3 575.6,113.7 572.4,116.4 569.7,117.7Z"/>
<path d="M550.9,112.4 550.9,102.8 558.7,101.0 569.8,98.5 572.5,95.5 574.8,98.6 573.8,102.3 577.9,106.1 579.8,109.1 585.5,107.5 584.4,103.6 586.2,108.1 586.2,110.1 580.5,111.7 575.6,113.7 574.2,111.3 571.3,107.6 567.3,108.7Z"/>
<path d="M550.9,102.8 558.7,101.0 556.9,97.7 556.7,90.8 557.8,83.6 560.8,75.9 559.9,69.0 543.0,73.3 546.2,86.5 547.9,91.6Z"/>
<path d="M558.7,101.0 569.8,98.5 572.5,95.5 574.1,92.2 570.0,87.3 565.6,74.6 562.8,64.2 559.9,69.0 560.8,75.9 557.8,83.6 556.7,90.8 556.9,97.7Z"/>
<path d="M574.1,92.2 570.0,87.3 565.6,74.6 562.8,64.2 565.0,64.3 567.7,54.5 567.5,43.5 571.5,31.8 575.4,34.3 580.1,30.8 585.6,33.0 591.0,50.5 594.9,50.7 601.3,58.6 598.3,65.1 592.7,69.6 586.9,70.0 584.0,77.1 580.1,81.1 576.9,84.0Z"/>
<path d="M457.5,226.1 470.7,224.4 477.8,220.7 492.4,219.1 493.8,219.6 495.8,223.1 508.0,221.3 522.4,231.8 529.3,229.8 530.4,224.1 536.0,218.2 542.3,216.2 546.5,209.8 551.5,207.3 549.2,199.5 543.7,190.3 482.5,200.8 480.3,208.0 474.1,210.3 469.3,214.3 463.2,217.9 457.4,223.4Z"/>
<path d="M470.7,224.4 477.8,220.7 492.4,219.1 493.8,219.6 495.8,223.1 508.0,221.3 522.4,231.8 518.3,237.3 516.0,243.2 510.3,249.7 505.2,253.3 501.4,258.0 498.3,259.9 492.0,248.6 486.6,242.6 481.2,236.5 474.8,230.6Z"/>
<path d="M441.4,136.8 454.9,134.7 462.8,137.4 469.6,135.7 472.6,135.3 478.7,129.6 483.1,127.1 486.1,144.9 485.3,145.6 485.6,153.8 484.3,158.1 481.9,162.6 479.0,164.4 476.6,168.9 473.3,174.8 469.6,178.1 464.9,174.7 459.9,176.0 454.5,174.7 448.8,171.3 445.6,171.7Z"/>
<path d="M414.6,138.7 421.8,138.1 441.5,135.9 445.6,171.7 446.3,175.7 440.2,177.7 436.7,184.0 435.1,187.8 430.0,189.7 424.8,190.2 418.5,190.8 415.5,192.4 414.5,187.1 417.7,181.4 418.2,175.9 417.4,170.5Z"/>
<path d="M383.2,131.0 411.1,129.0 413.1,135.6 414.6,138.7 417.4,170.5 418.2,175.9 417.7,181.4 414.5,187.1 415.5,192.4 413.8,196.6 410.0,202.4 403.2,204.2 399.2,200.4 399.0,196.4 394.5,192.6 389.6,188.9 390.8,183.4 390.5,179.3 386.3,176.9 381.9,173.0 376.9,165.2 377.0,160.0 379.9,154.2 380.7,148.7 384.4,144.5 388.2,140.2 388.4,136.1Z"/>
<path d="M366.6,74.7 374.8,72.3 381.5,76.0 382.4,76.3 394.8,81.8 404.3,83.7 407.8,90.8 409.9,94.0 408.3,96.8 406.8,101.7 411.0,95.3 416.3,91.4 411.6,101.9 411.6,107.3 410.9,115.5 409.5,122.4 411.1,129.0 383.2,131.0 378.1,127.9 378.4,124.5 376.9,117.9 374.9,112.6 369.9,108.7 366.0,105.5 361.1,101.7 361.4,97.0 360.7,90.3 365.1,83.4 364.8,76.8Z"/>
<path d="M421.6,138.1 441.6,136.3 454.9,134.7 457.5,127.9 462.6,121.8 462.6,116.3 459.7,108.6 456.0,103.0 451.5,105.6 447.3,110.2 449.9,100.4 450.9,93.5 449.4,89.6 443.1,85.0 436.1,81.9 433.6,84.8 430.5,90.6 428.9,93.5 423.5,96.7 423.7,103.5 422.4,109.0 426.0,120.8 425.7,127.6 423.3,133.3Z"/>
<path d="M382.4,76.3 394.8,81.8 404.3,83.7 407.8,90.8 409.9,94.0 414.8,85.5 419.4,83.7 428.4,80.0 436.0,81.2 442.2,78.4 445.8,76.6 440.5,71.9 435.9,72.4 431.8,69.6 422.9,72.6 413.8,74.8 408.9,71.3 402.2,69.1 403.5,63.0 399.2,65.4 395.0,71.1 386.1,75.7Z"/></g>
<path d="M47.7,119.7 47.7,119.7 49.3,123.0 49.4,123.0 50.8,126.9 50.8,126.9 50.8,127.0 50.8,127.0 50.8,127.0 50.8,127.1 49.9,131.7 49.9,131.7 48.8,139.1 48.8,139.1 48.8,139.1 53.2,149.5 53.2,149.5 53.2,149.5 53.2,149.6 53.2,149.6 53.2,149.6 53.2,149.7 53.2,149.7 52.1,153.5 52.1,153.5 52.1,153.5 56.2,157.4 56.3,157.4 56.3,157.5 56.3,157.5 56.3,157.5 56.3,157.5 56.3,157.6 56.3,157.6 56.3,157.6 56.3,157.7 56.3,157.7 56.3,157.7 55.3,161.4 55.3,161.4 55.3,161.4 55.2,165.6 55.2,165.6 55.2,165.6 58.3,170.0 58.3,170.0 59.8,171.7 59.9,171.8 59.9,171.8 59.9,171.8 59.9,171.8 59.9,171.9 59.9,171.9 59.9,171.9 59.9,172.0 59.9,172.0 59.9,172.0 59.9,172.1 59.9,172.1 59.9,172.1 58.1,174.9 58.1,174.9 58.1,174.9 57.0,178.8 57.0,178.8 57.0,178.8 61.0,188.3 61.0,188.3 61.0,188.3 64.3,192.7 64.3,192.7 64.3,192.7 64.3,192.8 65.9,197.3 65.9,197.3 65.9,197.3 65.9,197.4 65.9,197.4 65.9,197.4 64.8,203.4 64.8,203.4 64.8,203.4 65.6,207.0 65.6,207.0 65.6,207.1 74.3,210.0 74.4,210.0 74.4,210.0 74.4,210.0 74.4,210.1 74.5,210.1 74.5,210.1 77.9,214.4 77.9,214.4 77.9,214.4 81.7,217.4 81.7,217.4 81.7,217.4 84.3,217.6 84.3,217.6 84.3,217.7 84.4,217.7 84.4,217.7 84.4,217.7 84.4,217.7 84.5,217.7 84.5,217.7 84.5,217.8 84.5,217.8 85.6,219.7 85.6,219.7 85.6,219.8 85.6,219.8 86.1,222.4 86.1,222.4 86.1,222.4 89.1,224.0 89.1,224.0 89.1,224.1 89.2,224.1 89.2,224.1 91.8,227.4 91.8,227.5 94.2,231.4 94.3,231.5 94.3,231.5 94.3,231.5 94.3,231.5 95.0,235.8 95.0,235.8 95.3,241.0 95.3,241.0 95.3,241.0 121.7,244.0 121.8,244.0 121.8,244.0 121.8,244.1 121.8,244.1 121.9,244.1 121.9,244.1 121.9,244.1 121.9,244.1 121.9,244.2 122.0,244.2 122.0,244.2 122.0,244.2 122.0,244.3 122.0,244.3 122.0,244.3 122.0,244.4 122.0,244.4 122.0,244.4 122.0,244.4 122.0,244.5 121.9,244.5 120.5,246.8 120.5,246.8 120.5,246.8 159.5,269.8 159.5,269.8 159.5,269.8 182.3,273.2 182.3,273.2 191.9,274.5 191.9,274.5 191.9,274.5 192.6,268.8 192.6,268.7 192.7,268.7 192.7,268.7 192.7,268.7 192.7,268.6 192.7,268.6 192.7,268.6 192.8,268.6 192.8,268.6 192.8,268.5 192.8,268.5 192.9,268.5 192.9,268.5 192.9,268.5 192.9,268.5 193.0,268.5 211.7,270.8 211.7,270.8 211.8,270.8 211.8,270.8 211.8,270.8 211.8,270.8 211.9,270.8 211.9,270.9 211.9,270.9 214.8,274.9 214.8,274.9 214.8,274.9 221.0,281.0 227.3,286.9 227.3,286.9 227.3,287.0 227.4,287.0 227.4,287.0 227.4,287.0 227.4,287.1 229.9,296.7 229.9,296.7 231.8,302.2 231.8,302.2 231.8,302.2 237.3,306.0 237.3,306.1 242.9,309.2 242.9,309.2 246.8,311.8 246.8,311.8 246.8,311.8 250.0,309.1 250.0,309.1 250.0,309.1 252.7,302.7 252.7,302.6 252.8,302.6 252.8,302.6 252.8,302.6 252.8,302.5 252.8,302.5 252.9,302.5 252.9,302.5 257.5,300.5 257.5,300.5 257.5,300.5 257.6,300.5 257.6,300.5 257.6,300.5 257.7,300.5 267.8,302.5 267.8,302.6 267.9,302.6 267.9,302.6 267.9,302.6 267.9,302.6 268.0,302.6 268.0,302.7 272.3,308.4 272.3,308.4 272.3,308.5 276.1,311.9 276.2,312.0 276.2,312.0 276.2,312.0 276.2,312.0 276.2,312.1 279.8,322.9 279.8,322.9 279.8,322.9 284.3,329.8 284.3,329.8 284.3,329.8 288.8,333.9 288.8,333.9 288.9,333.9 288.9,334.0 288.9,334.0 288.9,334.0 293.2,347.4 293.2,347.4 293.2,347.4 300.3,351.6 300.4,351.6 300.4,351.6 306.4,353.8 312.3,355.8 312.3,355.8 312.3,355.8 312.3,355.8 312.3,355.9 312.4,355.9 312.4,355.9 312.4,355.9 312.4,356.0 312.4,356.0 312.4,356.0 312.4,356.0 312.5,356.3 312.5,356.3 312.5,356.3 316.1,354.7 316.1,354.7 316.1,354.7 315.4,345.1 315.4,345.1 315.4,338.3 315.4,338.3 316.1,331.6 316.1,331.5 316.1,331.5 316.1,331.5 316.1,331.4 318.8,326.0 318.8,326.0 318.8,326.0 318.8,326.0 324.3,320.5 324.3,320.5 324.3,320.5 324.3,320.5 332.5,316.4 332.5,316.4 339.6,313.8 339.7,313.8 339.7,313.8 339.7,313.8 339.7,313.8 339.8,313.8 339.8,313.8 339.8,313.8 339.9,313.8 339.9,313.9 339.9,313.9 339.9,313.9 339.9,313.9 340.0,313.9 340.0,314.0 340.0,314.0 340.0,314.0 340.0,314.0 340.0,314.1 340.0,314.1 340.1,314.6 340.1,314.6 340.1,314.6 344.7,310.6 344.7,310.6 348.1,307.9 348.2,307.8 348.2,307.8 348.2,307.8 355.7,305.0 355.7,305.0 355.7,305.0 356.5,304.4 356.5,304.4 356.6,304.4 356.6,304.3 356.6,304.3 356.7,304.3 356.7,304.3 356.7,304.3 365.6,305.0 365.6,305.0 365.6,305.0 375.7,303.7 375.7,303.7 375.7,303.7 375.7,303.7 375.8,303.7 375.8,303.7 375.8,303.7 375.9,303.8 375.9,303.8 378.4,305.6 378.4,305.6 378.4,305.6 386.0,308.9 386.1,308.9 391.2,310.7 391.2,310.7 391.2,310.7 396.2,309.4 396.2,309.4 396.3,309.4 396.3,309.4 396.3,309.4 400.2,310.0 400.2,310.0 400.2,309.9 403.8,307.0 403.8,307.0 403.9,307.0 403.9,307.0 403.9,307.0 403.9,307.0 404.0,306.9 404.0,306.9 404.0,306.9 404.0,306.9 404.1,307.0 404.1,307.0 404.1,307.0 409.0,309.4 411.7,310.6 411.7,310.6 411.7,310.6 409.1,305.6 409.1,305.6 406.6,300.5 406.6,300.5 406.6,300.5 404.4,299.4 404.4,299.4 404.3,299.4 404.3,299.4 404.3,299.3 404.3,299.3 404.3,299.3 404.3,299.3 404.2,299.2 404.2,299.2 404.2,299.2 404.2,299.2 404.2,299.1 404.2,299.1 404.2,299.1 404.3,299.0 404.3,299.0 404.3,299.0 404.3,299.0 404.3,298.9 406.6,296.6 409.1,294.1 409.1,294.1 409.1,294.0 409.1,294.0 409.2,294.0 409.2,294.0 412.5,292.9 412.5,292.8 412.5,292.8 412.5,292.8 418.3,292.4 418.3,292.4 421.7,292.1 421.7,292.1 421.7,292.1 422.1,290.1 422.1,290.1 422.1,290.0 422.1,290.0 422.2,290.0 422.2,290.0 422.2,289.9 422.2,289.9 422.2,289.9 422.3,289.9 422.3,289.9 422.3,289.9 422.3,289.9 422.4,289.9 422.4,289.9 422.4,289.9 422.5,289.9 422.5,289.9 422.5,289.9 422.5,289.9 422.6,289.9 422.6,289.9 422.6,289.9 422.6,290.0 422.7,290.0 422.7,290.0 422.7,290.0 422.7,290.1 422.7,290.1 422.7,290.1 423.0,294.0 423.0,294.0 423.0,294.0 428.7,292.9 428.7,292.9 434.4,291.7 434.4,291.7 442.3,290.2 442.3,290.2 442.4,290.2 442.4,290.2 442.4,290.2 442.5,290.2 450.8,293.3 450.8,293.3 450.8,293.3 450.8,293.4 450.9,293.4 450.9,293.4 450.9,293.4 450.9,293.4 453.8,298.4 453.8,298.4 453.8,298.4 458.5,299.2 458.5,299.2 458.5,299.2 465.0,294.4 465.0,294.4 468.0,291.5 468.0,291.4 468.0,291.4 468.0,291.4 468.1,291.4 468.1,291.4 468.1,291.4 468.1,291.4 468.2,291.4 468.2,291.4 468.2,291.4 468.3,291.4 468.3,291.4 473.0,293.4 473.0,293.4 473.1,293.4 473.1,293.4 481.0,300.4 485.0,303.9 485.0,303.9 485.0,303.9 485.1,303.9 485.1,304.0 485.1,304.0 485.1,304.0 487.1,310.3 487.2,310.4 487.2,310.4 487.2,310.4 487.1,318.5 487.1,318.5 487.1,318.5 490.4,324.8 490.4,324.8 490.4,324.8 496.3,332.0 496.3,332.0 500.6,336.7 500.6,336.7 500.7,336.8 504.0,342.9 504.0,342.9 504.0,342.9 510.8,347.2 510.8,347.2 510.8,347.2 510.9,347.3 510.9,347.3 510.9,347.3 510.9,347.3 512.9,352.0 512.9,352.0 512.9,352.0 515.2,351.3 515.2,351.3 521.1,349.0 521.1,349.0 521.1,349.0 523.5,341.2 523.5,341.2 523.5,341.2 522.5,331.9 522.5,331.9 522.5,331.9 520.8,325.4 520.8,325.4 520.8,325.4 513.9,313.1 513.9,313.1 513.9,313.0 511.7,306.7 511.7,306.7 511.7,306.7 507.1,300.6 507.1,300.6 502.6,294.6 502.6,294.6 502.6,294.5 499.3,288.3 499.3,288.3 499.3,288.3 496.7,279.2 496.7,279.2 496.7,279.2 496.7,279.1 496.7,275.1 496.7,275.1 497.3,268.2 497.3,268.2 498.3,260.0 498.3,260.0 498.3,260.0 498.3,259.9 498.3,259.9 498.3,259.9 498.4,259.9 498.4,259.8 498.4,259.8 498.4,259.8 501.4,258.0 501.4,258.0 501.4,258.0 505.2,253.3 505.2,253.3 505.2,253.3 505.3,253.3 510.3,249.7 510.3,249.7 510.3,249.7 516.0,243.2 516.0,243.2 516.0,243.2 518.3,237.4 518.3,237.3 518.3,237.3 518.4,237.3 522.3,231.9 522.3,231.9 522.4,231.8 522.4,231.8 522.4,231.8 522.4,231.8 522.5,231.8 522.5,231.8 529.3,229.8 529.3,229.8 529.3,229.8 530.4,224.2 530.4,224.1 530.4,224.1 530.5,224.1 530.5,224.1 530.5,224.0 530.5,224.0 535.9,218.2 535.9,218.2 536.0,218.2 536.0,218.2 536.0,218.1 536.0,218.1 542.3,216.2 542.3,216.2 542.3,216.2 546.4,209.8 546.5,209.8 546.5,209.8 546.5,209.8 546.5,209.7 546.6,209.7 551.5,207.3 551.5,207.3 551.5,207.3 549.2,199.5 549.2,199.5 549.2,199.5 543.7,190.3 543.7,190.3 543.3,189.4 543.2,189.4 543.2,189.3 543.2,189.3 543.2,189.3 543.2,189.3 543.2,189.2 543.2,189.2 543.2,189.2 543.2,189.2 543.3,189.1 543.3,189.1 545.5,185.5 545.5,185.5 545.5,185.5 546.4,177.5 547.1,171.2 547.1,171.2 547.6,166.5 547.6,166.5 547.6,166.5 546.7,163.4 546.7,163.4 546.7,163.3 546.7,163.3 546.7,163.3 546.7,163.3 547.5,158.5 547.5,158.5 547.5,158.5 541.0,154.3 541.0,154.2 540.9,154.2 540.9,154.2 540.9,154.2 540.9,154.1 539.7,151.8 539.7,151.8 539.7,151.7 539.7,151.7 539.7,151.7 539.7,151.6 539.7,151.6 539.7,151.6 539.7,151.5 539.7,151.5 539.7,151.5 539.7,151.5 539.8,151.4 539.8,151.4 539.8,151.4 539.8,151.4 539.8,151.4 539.9,151.4 539.9,151.4 539.9,151.3 540.0,151.3 540.0,151.3 540.0,151.3 540.0,151.4 540.1,151.4 540.1,151.4 540.1,151.4 540.2,151.4 540.2,151.4 542.9,153.8 542.9,153.8 546.2,156.8 546.2,156.8 546.3,156.8 548.8,151.7 548.8,151.7 551.0,147.8 551.0,147.8 551.0,147.7 551.8,142.0 551.8,142.0 551.8,136.5 551.8,136.5 551.7,136.5 551.1,134.6 551.1,134.5 550.4,131.8 550.4,131.8 550.4,131.7 550.4,131.7 550.4,131.7 550.4,131.7 550.5,131.6 550.5,131.6 550.5,131.6 550.5,131.6 550.5,131.5 550.5,131.5 550.6,131.5 550.6,131.5 550.6,131.5 550.6,131.5 550.7,131.4 550.7,131.4 550.7,131.4 550.8,131.4 550.8,131.4 550.8,131.4 550.8,131.5 552.6,132.1 552.6,132.1 552.6,132.1 564.5,125.7 564.5,125.7 564.5,125.7 570.0,121.2 570.0,121.2 570.0,121.2 564.0,123.7 564.0,123.7 553.8,127.6 553.8,127.6 553.8,127.6 553.7,127.6 553.7,127.6 553.7,127.6 553.6,127.6 553.6,127.6 553.6,127.6 553.6,127.6 553.5,127.6 553.5,127.6 553.5,127.5 553.5,127.5 553.0,126.9 553.0,126.8 553.0,126.8 553.0,126.8 553.0,126.8 552.9,126.7 552.9,126.7 552.9,126.7 552.9,126.7 553.0,126.6 553.0,126.6 553.0,126.6 553.0,126.5 553.0,126.5 553.0,126.5 553.0,126.5 553.1,126.5 558.5,122.4 558.5,122.3 558.5,122.3 563.1,120.2 563.1,120.2 569.7,117.7 569.7,117.7 569.7,117.7 569.7,117.7 572.4,116.4 572.4,116.4 572.4,116.4 575.6,113.8 575.6,113.7 575.7,113.7 575.7,113.7 580.5,111.7 580.5,111.7 586.2,110.1 586.2,110.1 586.2,110.1 586.2,108.1 586.2,108.1 586.2,108.0 584.4,103.6 584.4,103.6 584.4,103.6 585.4,107.2 585.4,107.3 585.4,107.3 585.4,107.3 585.4,107.4 585.4,107.4 585.4,107.4 585.4,107.4 585.4,107.5 585.4,107.5 585.4,107.5 585.3,107.5 585.3,107.6 585.3,107.6 585.3,107.6 585.2,107.6 585.2,107.6 580.0,109.1 579.9,109.1 579.9,109.1 579.9,109.1 579.9,109.1 579.8,109.1 579.8,109.1 579.8,109.1 579.7,109.0 579.7,109.0 579.7,109.0 579.7,109.0 579.7,109.0 579.6,108.9 577.9,106.1 577.9,106.1 577.9,106.1 574.0,102.5 573.9,102.5 573.9,102.4 573.9,102.4 573.9,102.4 573.9,102.3 573.9,102.3 573.9,102.3 573.9,102.3 573.9,102.2 573.9,102.2 573.9,102.2 574.8,98.6 574.8,98.6 574.8,98.6 572.6,95.6 572.6,95.6 572.6,95.5 572.5,95.5 572.5,95.5 572.5,95.5 572.5,95.4 572.5,95.4 572.5,95.4 572.5,95.3 572.5,95.3 572.6,95.3 574.1,92.2 574.1,92.2 574.1,92.2 574.1,92.2 576.9,84.1 576.9,84.1 576.9,84.1 576.9,84.0 576.9,84.0 576.9,84.0 580.1,81.1 580.1,81.1 584.0,77.1 584.0,77.1 584.0,77.1 586.8,70.2 586.8,70.1 586.8,70.1 586.8,70.1 586.9,70.1 586.9,70.0 586.9,70.0 586.9,70.0 587.0,70.0 587.0,70.0 587.0,70.0 587.1,70.0 592.7,69.6 592.7,69.6 592.7,69.6 598.3,65.1 598.3,65.1 598.4,65.1 601.3,58.6 601.3,58.6 601.3,58.6 594.9,50.8 594.9,50.7 594.9,50.7 591.2,50.6 591.2,50.6 591.1,50.5 591.1,50.5 591.1,50.5 591.1,50.5 591.0,50.5 591.0,50.5 591.0,50.4 591.0,50.4 591.0,50.4 590.9,50.4 590.9,50.3 585.6,33.0 585.6,33.0 585.6,33.0 580.1,30.8 580.1,30.8 580.1,30.8 575.6,34.2 575.5,34.2 575.5,34.2 575.5,34.2 575.5,34.2 575.4,34.2 575.4,34.2 575.4,34.2 575.3,34.2 575.3,34.2 575.3,34.2 575.3,34.2 575.2,34.2 571.5,31.8 571.5,31.8 571.5,31.8 567.5,43.5 567.5,43.5 567.5,43.5 567.7,54.5 567.7,54.5 567.7,54.6 567.7,54.6 565.1,64.1 565.1,64.1 565.1,64.1 565.1,64.2 565.1,64.2 565.0,64.2 565.0,64.2 565.0,64.2 565.0,64.3 564.9,64.3 564.9,64.3 564.9,64.3 564.9,64.3 564.8,64.3 564.8,64.3 562.8,64.2 562.8,64.2 562.8,64.2 562.8,64.2 562.8,64.2 562.8,64.2 560.0,68.9 560.0,68.9 560.0,68.9 559.9,69.0 559.9,69.0 559.9,69.0 559.9,69.0 559.8,69.0 559.8,69.0 543.0,73.3 543.0,73.3 530.6,76.4 530.6,76.4 530.6,76.4 525.6,80.2 525.6,80.2 525.6,80.2 521.8,85.2 521.8,85.2 518.9,89.9 518.9,89.9 518.9,89.9 519.9,99.2 519.9,99.2 519.9,99.2 519.9,99.3 519.9,99.3 519.9,99.3 519.9,99.3 519.9,99.4 519.8,99.4 519.8,99.4 519.8,99.4 515.8,102.9 515.8,102.9 515.7,102.9 515.7,103.0 515.7,103.0 508.3,105.1 508.3,105.1 508.2,105.1 508.2,105.1 499.4,105.2 499.4,105.2 499.4,105.2 494.4,107.5 494.4,107.5 494.4,107.5 495.2,112.4 495.2,112.4 495.3,112.4 496.4,112.7 496.4,112.7 496.4,112.7 496.5,112.7 496.5,112.7 496.5,112.7 496.5,112.8 496.5,112.8 496.6,112.8 496.6,112.8 496.6,112.9 496.6,112.9 496.6,112.9 496.6,113.0 496.6,113.0 496.6,113.0 496.6,113.0 496.6,113.1 496.6,113.1 496.6,113.1 496.5,113.1 489.9,121.9 489.9,121.9 489.9,122.0 489.8,122.0 483.1,127.1 483.1,127.1 478.7,129.6 478.7,129.6 478.7,129.6 472.6,135.2 472.6,135.2 472.6,135.3 472.6,135.3 472.5,135.3 472.5,135.3 472.5,135.3 469.6,135.7 469.6,135.7 462.9,137.4 462.9,137.4 462.8,137.4 462.8,137.4 462.8,137.4 462.7,137.4 462.7,137.4 455.2,134.8 455.2,134.8 455.1,134.7 455.1,134.7 455.1,134.7 455.1,134.7 455.0,134.7 455.0,134.6 455.0,134.6 455.0,134.6 455.0,134.6 455.0,134.5 455.0,134.5 455.0,134.5 455.0,134.4 455.0,134.4 455.0,134.4 457.5,128.0 457.5,127.9 457.5,127.9 457.5,127.9 462.6,121.8 462.6,121.8 462.6,121.7 462.6,116.3 462.6,116.3 462.6,116.3 459.7,108.6 459.7,108.6 459.7,108.5 456.0,103.0 456.0,103.0 456.0,103.0 451.5,105.6 451.5,105.6 451.5,105.6 448.1,109.3 448.1,109.4 448.0,109.4 448.0,109.4 448.0,109.4 448.0,109.4 447.9,109.4 447.9,109.4 447.9,109.4 447.8,109.4 447.8,109.4 447.8,109.4 447.8,109.4 447.7,109.4 447.7,109.4 447.7,109.4 447.7,109.4 447.6,109.3 447.6,109.3 447.6,109.3 447.6,109.3 447.6,109.2 447.6,109.2 447.6,109.2 447.6,109.2 447.6,109.1 447.6,109.1 447.6,109.1 449.9,100.4 449.9,100.4 450.9,93.5 450.9,93.5 450.9,93.5 449.4,89.6 449.4,89.6 449.4,89.6 443.1,85.0 443.1,85.0 443.1,85.0 436.1,81.9 436.1,81.9 436.1,81.9 433.6,84.8 433.6,84.8 433.6,84.8 430.5,90.6 430.5,90.6 428.9,93.4 428.9,93.4 428.9,93.5 428.9,93.5 428.9,93.5 428.8,93.5 423.5,96.7 423.5,96.7 423.5,96.7 423.7,103.4 423.7,103.5 423.7,103.5 423.7,103.5 422.4,109.0 422.4,109.0 422.4,109.0 426.0,120.8 426.0,120.8 426.0,120.8 426.0,120.9 425.7,127.6 425.7,127.6 425.7,127.6 425.7,127.7 425.7,127.7 423.3,133.3 423.3,133.3 421.7,137.9 421.7,137.9 421.7,138.0 421.6,138.0 421.6,138.0 421.6,138.0 421.6,138.0 421.6,138.1 421.5,138.1 421.5,138.1 421.5,138.1 421.5,138.1 421.4,138.1 414.8,138.7 414.8,138.7 414.8,138.7 414.7,138.7 414.7,138.7 414.7,138.7 414.6,138.7 414.6,138.7 414.6,138.6 414.6,138.6 414.5,138.6 414.5,138.6 414.5,138.5 413.1,135.6 413.1,135.6 411.1,129.0 411.1,129.0 409.5,122.4 409.5,122.4 409.5,122.4 409.5,122.4 409.5,122.3 410.9,115.5 410.9,115.5 411.6,107.3 411.6,107.3 411.6,102.0 411.6,102.0 411.6,101.9 411.6,101.9 411.6,101.9 416.3,91.4 416.3,91.4 416.3,91.4 411.0,95.3 411.0,95.3 411.0,95.3 408.0,99.9 407.9,99.9 407.9,100.0 407.9,100.0 407.9,100.0 407.9,100.0 407.8,100.0 407.8,100.0 407.8,100.0 407.7,100.0 407.7,100.0 407.7,100.0 407.7,100.0 407.6,100.0 407.6,100.0 407.6,100.0 407.5,100.0 407.5,100.0 407.5,100.0 407.5,99.9 407.5,99.9 407.4,99.9 407.4,99.9 407.4,99.8 407.4,99.8 407.4,99.8 407.4,99.7 407.4,99.7 407.4,99.7 407.4,99.7 408.3,96.9 408.3,96.8 408.3,96.8 409.9,94.0 409.9,94.0 414.8,85.6 414.8,85.5 414.8,85.5 414.8,85.5 414.9,85.5 414.9,85.5 414.9,85.4 414.9,85.4 419.4,83.7 428.3,80.1 428.3,80.1 428.3,80.1 428.4,80.1 428.4,80.1 428.4,80.1 436.0,81.2 436.0,81.2 436.0,81.2 442.2,78.4 442.3,78.4 445.8,76.6 445.8,76.6 445.8,76.6 440.5,71.9 440.5,71.9 440.5,71.9 436.0,72.4 436.0,72.4 436.0,72.4 435.9,72.4 435.9,72.4 435.9,72.4 435.8,72.4 435.8,72.4 435.8,72.4 431.8,69.6 431.8,69.6 431.8,69.6 422.9,72.6 422.9,72.6 414.0,74.8 413.9,74.8 413.9,74.8 413.9,74.8 413.8,74.8 413.8,74.8 413.8,74.8 413.8,74.8 413.7,74.8 413.7,74.7 408.9,71.3 408.9,71.3 408.8,71.3 402.5,69.2 402.4,69.2 402.4,69.2 402.4,69.2 402.4,69.2 402.3,69.2 402.3,69.1 402.3,69.1 402.3,69.1 402.3,69.1 402.3,69.0 402.3,69.0 402.3,69.0 402.3,68.9 402.3,68.9 402.3,68.9 403.5,63.0 403.5,63.0 403.5,63.0 399.2,65.4 399.2,65.4 399.1,65.4 395.0,71.0 395.0,71.0 395.0,71.0 395.0,71.1 394.9,71.1 394.9,71.1 386.1,75.7 386.1,75.7 386.0,75.7 386.0,75.7 382.5,76.3 382.4,76.3 382.4,76.3 382.4,76.3 382.4,76.3 382.3,76.3 381.5,76.0 381.5,76.0 381.4,75.9 374.8,72.3 374.8,72.3 374.8,72.3 367.8,74.3 367.8,74.3 367.8,74.3 367.7,74.3 367.7,74.3 367.7,74.3 367.7,74.3 367.6,74.3 367.6,74.3 367.6,74.3 367.5,74.3 367.5,74.2 367.5,74.2 367.5,74.2 367.5,74.2 367.5,74.1 367.5,74.1 367.4,74.1 367.4,74.1 367.4,74.0 367.4,74.0 367.5,74.0 367.5,73.9 367.5,73.9 367.5,73.9 367.5,73.9 367.5,73.8 367.5,73.8 371.9,69.8 371.9,69.8 382.4,60.6 382.4,60.5 382.4,60.5 389.4,56.8 389.4,56.8 389.4,56.8 384.8,55.7 384.8,55.7 375.7,54.9 375.7,54.9 366.7,53.4 366.6,53.4 357.5,50.4 357.5,50.4 357.5,50.4 350.5,51.9 350.5,51.9 350.4,51.9 350.4,51.9 350.4,51.9 350.4,51.9 350.3,51.9 343.3,49.4 343.3,49.4 343.3,49.4 343.3,49.4 343.2,49.4 343.2,49.4 343.2,49.3 343.2,49.3 343.2,49.3 343.2,49.3 343.2,49.2 341.3,41.5 341.3,41.5 341.3,41.5 338.2,40.5 338.2,40.4 338.2,40.5 338.2,45.2 338.2,45.2 338.2,45.2 338.2,45.3 338.2,45.3 338.2,45.3 338.2,45.3 338.2,45.4 338.1,45.4 338.1,45.4 338.1,45.4 338.1,45.4 338.0,45.4 338.0,45.5 338.0,45.5 338.0,45.5 337.9,45.5 319.7,45.4 319.7,45.4 259.1,42.5 259.1,42.5 153.5,26.8 153.5,26.7 145.0,24.9 145.0,24.9 95.6,12.2 95.6,12.2 95.6,12.2 95.1,18.9 95.1,18.9 95.1,18.9 95.1,19.0 95.1,19.0 93.2,22.4 93.2,22.4 93.2,22.4 93.2,22.5 93.1,22.5 93.1,22.5 93.1,22.5 93.1,22.5 93.0,22.5 93.0,22.5 93.0,22.5 89.4,22.8 89.4,22.8 89.3,22.8 89.3,22.8 89.3,22.8 89.2,22.8 81.8,19.6 81.8,19.6 81.8,19.6 81.8,19.6 76.4,15.0 76.4,15.0 76.4,15.0 75.5,20.0 75.5,20.0 75.5,20.0 76.5,24.5 76.5,24.5 76.5,24.5 76.5,24.5 76.3,31.4 76.3,31.4 76.0,35.5 75.7,39.5 75.7,39.6 75.7,39.6 75.7,39.6 74.0,43.7 74.0,43.7 74.0,43.7 74.0,43.7 74.0,47.4 74.0,47.4 74.0,47.5 74.0,47.5 71.9,53.8 71.9,53.8 67.5,65.1 67.5,65.1 64.7,72.7 64.7,72.7 61.4,80.1 61.4,80.1 61.4,80.1 61.4,80.2 55.9,86.3 55.9,86.3 55.9,86.3 56.7,88.5 56.8,88.5 56.8,88.6 56.8,88.6 56.8,88.6 56.8,88.6 55.8,98.1 55.8,98.1 54.9,104.9 54.9,104.9 54.9,104.9 52.5,112.6 52.5,112.7 52.5,112.7 52.5,112.7 47.7,119.7ZM533.5,164.1 533.6,164.1 538.4,167.2 538.4,167.2 538.4,167.2 538.5,167.2 538.5,167.2 538.5,167.3 541.0,171.5 541.0,171.6 541.0,171.6 541.0,171.6 541.0,171.6 541.0,171.7 541.3,180.0 541.3,180.0 541.2,185.6 541.2,185.6 541.2,185.6 541.2,185.6 541.2,185.7 541.2,185.7 541.2,185.7 541.2,185.7 541.1,185.8 541.1,185.8 541.1,185.8 541.1,185.8 541.0,185.8 541.0,185.8 541.0,185.9 541.0,185.9 540.9,185.9 540.9,185.9 540.9,185.9 538.2,185.3 538.2,185.3 538.1,185.3 538.1,185.3 538.1,185.3 538.1,185.3 538.0,185.2 538.0,185.2 538.0,185.2 538.0,185.2 538.0,185.2 538.0,185.1 538.0,185.1 536.6,178.7 536.6,178.7 536.6,178.7 534.2,172.3 534.2,172.3 534.2,172.2 534.2,172.2 534.2,172.2 534.2,172.2 534.2,172.1 534.2,172.1 534.2,172.1 534.2,172.0 534.2,172.0 534.2,172.0 534.2,172.0 534.2,171.9 534.2,171.9 534.3,171.9 534.3,171.9 534.3,171.9 534.3,171.8 534.4,171.8 534.4,171.8 534.4,171.8 534.5,171.8 534.5,171.8 534.5,171.8 534.5,171.8 535.2,172.0 535.2,172.0 535.2,172.0 533.4,168.3 533.4,168.3 531.0,161.9 531.0,161.9 531.0,161.9 531.0,161.8 530.9,158.2 530.9,158.2 530.9,158.2 530.9,158.2 530.9,158.1 530.9,158.1 530.9,158.1 531.0,158.1 531.0,158.0 531.0,158.0 531.0,158.0 531.1,158.0 531.1,158.0 531.1,158.0 531.1,158.0 531.2,157.9 531.2,157.9 531.2,157.9 531.3,157.9 531.3,158.0 531.3,158.0 531.3,158.0 531.4,158.0 531.4,158.0 531.4,158.0 531.4,158.0 531.4,158.1 531.5,158.1 531.5,158.1 531.5,158.1 533.5,164.1ZM445.6,172.0 445.6,172.0 445.6,171.9 445.6,171.9 445.6,171.9 445.6,171.8 445.6,171.8 445.7,171.8 445.7,171.8 445.7,171.7 445.7,171.7 445.7,171.7 445.8,171.7 445.8,171.7 445.8,171.7 445.8,171.6 445.9,171.6 445.9,171.6 448.2,171.3 448.3,171.3 448.3,171.3 448.3,171.4 448.4,171.4 448.4,171.4 448.4,171.4 448.4,171.4 448.5,171.4 448.5,171.4 448.5,171.4 448.5,171.5 448.5,171.5 448.6,171.5 448.6,171.5 448.6,171.6 448.6,171.6 448.6,171.6 448.6,171.7 448.6,171.7 448.6,171.7 448.6,171.7 448.6,171.8 448.5,171.8 446.7,175.0 446.7,175.0 446.6,175.0 446.6,175.0 446.6,175.1 446.6,175.1 446.5,175.1 446.5,175.1 446.5,175.1 446.5,175.1 446.4,175.1 446.4,175.1 446.4,175.1 446.3,175.1 446.3,175.1 446.3,175.1 446.3,175.1 446.2,175.1 446.2,175.0 446.2,175.0 446.2,175.0 446.2,175.0 446.1,175.0 446.1,174.9 446.1,174.9 446.1,174.9ZM92.7,108.6 92.7,108.5 92.7,108.5 92.7,108.5 92.6,108.5 92.6,108.5 92.6,108.5 92.6,108.4 92.6,108.4 92.6,108.4 92.5,108.4 92.5,108.3 92.5,108.3 92.5,108.3 92.5,108.2 92.5,108.2 92.5,108.2 92.5,108.2 92.6,108.1 92.6,108.1 92.6,108.1 92.6,108.1 92.6,108.0 92.7,108.0 92.7,108.0 92.7,108.0 92.7,108.0 92.8,108.0 92.8,108.0 92.8,108.0 92.8,108.0 92.9,108.0 92.9,108.0 97.3,109.1 97.3,109.1 97.4,109.2 97.4,109.2 97.4,109.2 97.4,109.2 97.4,109.2 97.5,109.3 97.5,109.3 97.5,109.3 97.5,109.3 97.5,109.4 97.5,109.4 97.5,109.4 97.5,109.4 97.5,109.5 97.5,109.5 97.5,109.5 97.5,109.6 97.5,109.6 97.5,109.6 97.4,109.6 97.4,109.7 97.4,109.7 97.4,109.7 97.4,109.7 97.3,109.7 97.3,109.7 97.3,109.7 97.2,109.7 97.2,109.7 97.2,109.7 97.2,109.7 95.9,109.4 95.8,109.4ZM406.6,296.6 406.6,296.6 406.6,296.6Z" fill="none" stroke="#5a5a5a" stroke-width="0.7" stroke-linejoin="round"/>
<path d="M95.2,14 94.2,17 94.6,20.5 93.6,24.6 91.8,28.5 89.2,32.5 87,36" fill="none" stroke="#6a6a6a" stroke-width="1.3" stroke-linecap="round"/>
<path d="M533,152 530.6,158.7 531.5,164 532.5,170 534.5,179 537.5,188.6 541,188.4 541.3,180 540.9,171.6 540.2,165 539.4,158.7 536,152Z" fill="#fff" stroke="#777" stroke-width="0.5"/>
<path d="M525,170.5 529,169.5 532,171 535.5,172 M523,176 528,175.5 532,176.5 536.8,177 M530,183 534,182.5 538,183.3" fill="none" stroke="#888" stroke-width="0.5"/>
<path d="M72.2,287.6 79.3,284.1 86.3,281.6 92.3,278.8 98.6,280.6 105.7,281.6 116.2,283.4 118.0,298.2 120.8,312.2 123.3,326.3 128.6,327.4 134.9,329.1 139.8,332.7 135.6,335.1 133.1,334.4 127.2,332.3 122.2,329.8 116.2,329.1 111.7,327.4 108.1,329.1 105.3,333.4 102.2,332.7 98.6,335.1 94.1,339.7 88.1,344.6 82.1,349.6 75.1,353.8 67.0,356.9 58.2,359.1 51.8,360.1 56.4,357.3 65.2,353.8 74.0,349.2 82.8,343.2 89.8,337.6 92.7,334.4 88.1,333.4 82.8,331.6 78.6,329.1 72.9,329.1 68.0,326.3 66.6,322.1 69.4,317.5 72.9,312.9 68.0,308.7 66.6,304.5 71.5,301.0 77.5,298.9 74.0,293.9ZM93.4,339.0 96.9,337.9 99.0,341.5 95.5,345.3 92.7,343.9ZM56.8,308.7 61.0,308.0 63.8,310.8 59.6,312.2 56.8,311.2ZM63.4,326.3 66.6,325.6 67.3,328.4 64.1,329.1ZM46.9,359.8 49.0,359.1 49.4,360.5 47.2,360.8ZM41.6,359.4 43.7,359.1 44.1,360.1 42.0,360.5ZM37.0,359.8 38.8,359.4 39.2,360.5 37.4,360.5ZM50.4,322.1 52.5,321.7 52.5,323.5 50.4,323.5ZM164.1,320.2 165.8,318.9 166.7,319.5 165.8,321.1 164.4,321.5ZM170.0,316.6 172.8,315.6 175.6,316.0 176.4,318.6 174.7,320.5 171.5,320.7 170.0,319.2ZM188.8,324.3 192.0,323.0 193.9,325.0 197.1,328.2 195.8,329.2 192.0,328.8 189.7,326.9ZM201.0,329.4 204.8,329.6 208.6,330.1 208.2,331.0 203.8,331.0 201.2,330.8ZM204.3,333.0 206.7,333.2 207.2,335.4 205.3,335.8 204.3,334.4ZM209.1,332.5 211.5,332.3 214.4,333.0 217.3,333.9 218.2,336.3 216.3,337.8 213.9,337.8 212.0,336.3 210.6,334.4ZM209.1,337.8 210.6,337.9 210.6,338.9 209.1,338.8ZM219.7,342.1 223.0,343.5 226.9,345.0 229.8,348.3 233.1,352.2 229.8,354.1 225.9,355.5 223.0,357.9 221.6,359.6 220.2,357.9 219.2,354.6 217.8,351.7 216.8,349.3 218.7,346.4 219.2,343.5Z" fill="#86c660" stroke="#4a5644" stroke-width="0.8" stroke-linejoin="round"/>
<path d="M134.2,329.1 141.9,332.7 149.0,336.9 155.0,341.5 157.1,345.0 153.9,346.4 147.6,343.2 140.5,339.3 134.9,335.8 132.1,333.4Z" fill="#a3b49b" stroke="#555" stroke-width="0.7" stroke-linejoin="round"/>
</svg>
<div class="t h" style="left:45px;transform:scaleX(0.903)">Direct Recording Electronic (DRE)</div>
<div class="t h" style="left:237px;transform:scaleX(0.911)">Optical Scan System</div>
<div class="t h" style="left:384px;transform:scaleX(0.911)">Mixed Systems</div>
<div class="sw" style="left:45.2px;top:385.1px;background:#f1936c"></div>
<div class="sw" style="left:45.2px;top:398.1px;background:#d8433c"></div>
<div class="sw" style="left:237.2px;top:385.1px;background:#f8e6bc"></div>
<div class="sw" style="left:237.2px;top:398px;background:#f9d88c"></div>
<div class="sw" style="left:384px;top:385.1px;background:#86c660"></div>
<div class="sw" style="left:384px;top:398.4px;background:#5d9e57"></div>
<div class="t i" style="left:60px;top:385.2px">DREs with VVPAT</div>
<div class="t i" style="left:60px;top:398.3px">DREs without VVPAT</div>
<div class="t i" style="left:251.4px;top:385.2px">Paper Ballot</div>
<div class="t i" style="left:251.4px;top:398.3px">All Vote By Mail</div>
<div class="t i" style="left:399px;top:385.2px">Paper Ballot and DREs with VVPAT</div>
<div class="t i" style="left:399px;top:398.3px">Paper Ballot and DREs with and without VVPAT</div>
<div class="t" style="left:45px;top:415.5px;font-size:7.5px;color:#9a9a9a;letter-spacing:0.06px">VVPAT - Voter Verified Paper Audit Trail Printers</div>
<div class="t" style="left:565.5px;top:409.6px;font-size:16.4px;color:#3f84c8;transform:scaleX(0.955);background:linear-gradient(90deg,#3476bd,#5b9ad6);-webkit-background-clip:text;background-clip:text;-webkit-text-fill-color:transparent">CiFRA</div>
<div style="position:absolute;left:577.9px;top:412.6px;width:2px;height:2px;border-radius:50%;background:#e8b64a"></div>
<div class="t" style="left:561.4px;top:426.3px;font-size:4.8px;color:#86b0df">monitoring analytics group</div>
</body></html>
